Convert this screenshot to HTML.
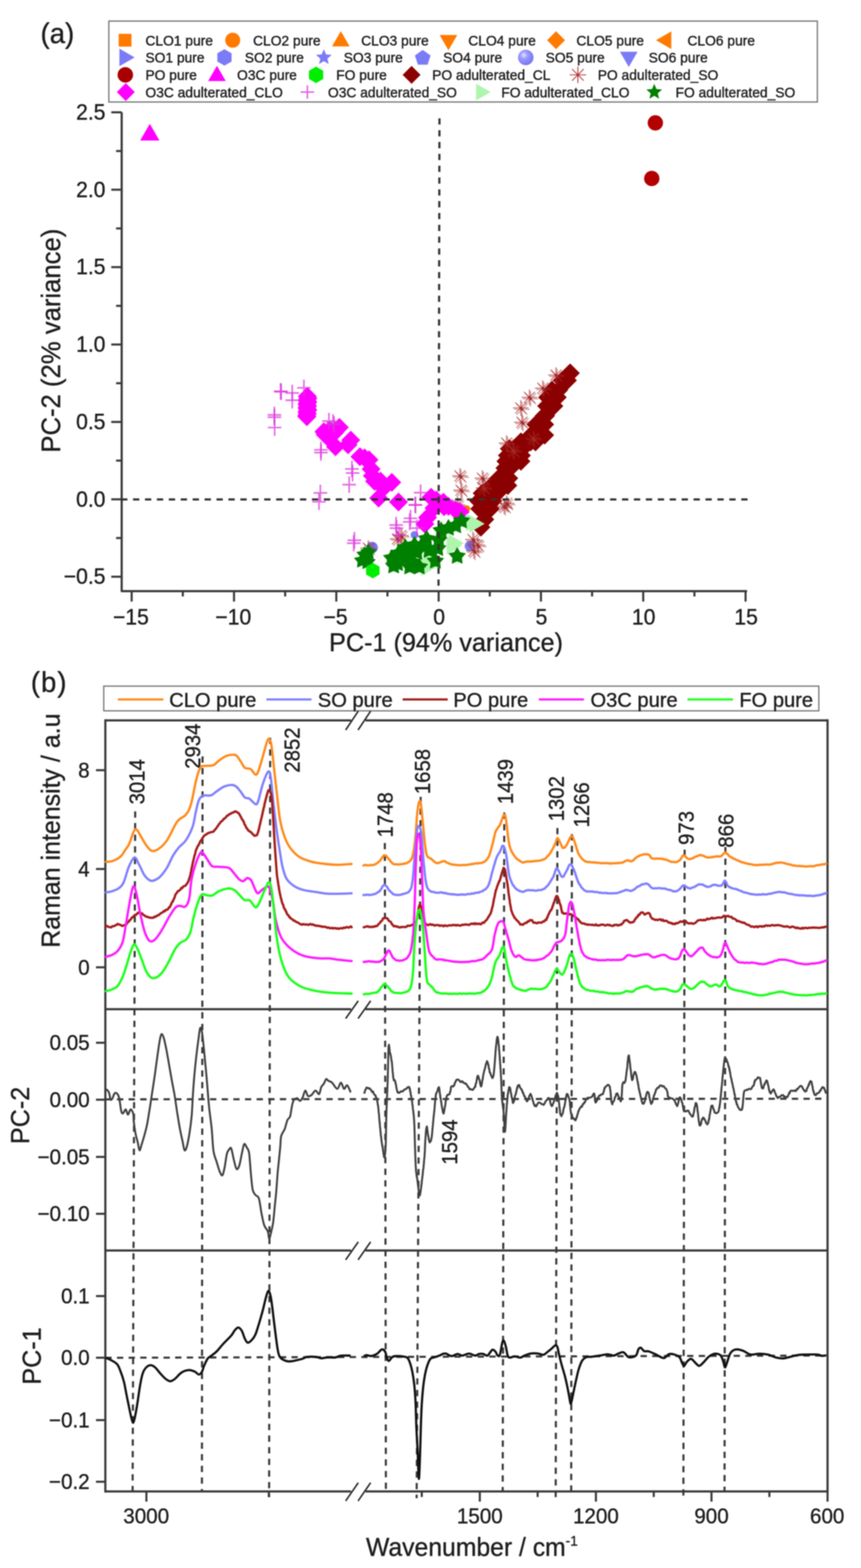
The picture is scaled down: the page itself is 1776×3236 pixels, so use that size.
<!DOCTYPE html>
<html><head><meta charset="utf-8"><title>PCA Raman figure</title>
<style>
html,body{margin:0;padding:0;background:#fff;}
body{width:1776px;height:3236px;overflow:hidden;}
svg{display:block;filter:blur(0.8px);}
text{font-family:'Liberation Sans', Arial, Helvetica, sans-serif;stroke:#1e1e1e;stroke-width:0.7px;}
</style></head><body>
<svg width="1776" height="3236" viewBox="0 0 1776 3236">
<defs>
<radialGradient id="sph" cx="0.38" cy="0.35" r="0.7">
<stop offset="0" stop-color="#e4e4ff"/><stop offset="0.35" stop-color="#9a9aff"/><stop offset="1" stop-color="#7272f0"/>
</radialGradient>
</defs>
<rect width="1776" height="3236" fill="#fff"/>
<text transform="translate(83.5 89) scale(1 1.045)" font-size="57" text-anchor="start" fill="#1e1e1e">(a)</text>
<rect x="224.5" y="43.5" width="1461.5" height="167" fill="#fff" stroke="#707070" stroke-width="2.5"/>
<rect x="244.8" y="69.8" width="26.4" height="26.4" fill="#ff7a00"/>
<text transform="translate(300 93.5) scale(1 1.045)" font-size="28.5" text-anchor="start" fill="#1e1e1e">CLO1 pure</text>
<circle cx="480" cy="83" r="15.5" fill="#ff7a00"/>
<text transform="translate(522 93.5) scale(1 1.045)" font-size="28.5" text-anchor="start" fill="#1e1e1e">CLO2 pure</text>
<polygon points="703,64.2 721.2,95.7 684.8,95.7" fill="#ff7a00"/>
<text transform="translate(745 93.5) scale(1 1.045)" font-size="28.5" text-anchor="start" fill="#1e1e1e">CLO3 pure</text>
<polygon points="925,103.8 906.8,72.3 943.2,72.3" fill="#ff7a00"/>
<text transform="translate(966 93.5) scale(1 1.045)" font-size="28.5" text-anchor="start" fill="#1e1e1e">CLO4 pure</text>
<polygon points="1147,64.5 1165.5,83 1147,101.5 1128.5,83" fill="#ff7a00"/>
<text transform="translate(1189 93.5) scale(1 1.045)" font-size="28.5" text-anchor="start" fill="#1e1e1e">CLO5 pure</text>
<polygon points="1353.2,83 1384.7,64.8 1384.7,101.2" fill="#ff7a00"/>
<text transform="translate(1418 93.5) scale(1 1.045)" font-size="28.5" text-anchor="start" fill="#1e1e1e">CLO6 pure</text>
<polygon points="277.8,118.5 246.3,136.7 246.3,100.3" fill="#7b7bf7"/>
<text transform="translate(300 129) scale(1 1.045)" font-size="28.5" text-anchor="start" fill="#1e1e1e">SO1 pure</text>
<polygon points="463,101.5 477.7,110 477.7,127 463,135.5 448.3,127 448.3,110" fill="#7b7bf7"/>
<text transform="translate(505 129) scale(1 1.045)" font-size="28.5" text-anchor="start" fill="#1e1e1e">SO2 pure</text>
<polygon points="668,101.5 672.5,112.3 684.2,113.2 675.3,120.9 678,132.3 668,126.2 658,132.3 660.7,120.9 651.8,113.2 663.5,112.3" fill="#7b7bf7"/>
<text transform="translate(709 129) scale(1 1.045)" font-size="28.5" text-anchor="start" fill="#1e1e1e">SO3 pure</text>
<polygon points="872,102.9 888.2,114.6 882,133.6 862,133.6 855.8,114.6" fill="#7b7bf7"/>
<text transform="translate(914 129) scale(1 1.045)" font-size="28.5" text-anchor="start" fill="#1e1e1e">SO4 pure</text>
<circle cx="1084.5" cy="118.5" r="16" fill="url(#sph)"/>
<text transform="translate(1125.5 129) scale(1 1.045)" font-size="28.5" text-anchor="start" fill="#1e1e1e">SO5 pure</text>
<polygon points="1297,138.3 1278.8,106.8 1315.2,106.8" fill="#7b7bf7"/>
<text transform="translate(1338 129) scale(1 1.045)" font-size="28.5" text-anchor="start" fill="#1e1e1e">SO6 pure</text>
<circle cx="258.5" cy="154.5" r="16" fill="#a80000"/>
<text transform="translate(300 165) scale(1 1.045)" font-size="28.5" text-anchor="start" fill="#1e1e1e">PO pure</text>
<polygon points="447.5,135.7 465.7,167.2 429.3,167.2" fill="#ff00ff"/>
<text transform="translate(489 165) scale(1 1.045)" font-size="28.5" text-anchor="start" fill="#1e1e1e">O3C pure</text>
<polygon points="652,137.5 666.7,146 666.7,163 652,171.5 637.3,163 637.3,146" fill="#00ee00"/>
<text transform="translate(693.5 165) scale(1 1.045)" font-size="28.5" text-anchor="start" fill="#1e1e1e">FO pure</text>
<polygon points="849,136 867.5,154.5 849,173 830.5,154.5" fill="#8b0000"/>
<text transform="translate(891.5 165) scale(1 1.045)" font-size="28.5" text-anchor="start" fill="#1e1e1e">PO adulterated_CL</text>
<path d="M1175,154.5 L1209,154.5 M1180,142.5 L1204,166.5 M1192,137.5 L1192,171.5 M1204,142.5 L1180,166.5 " stroke="#b03030" stroke-width="2.2" stroke-opacity="0.85" fill="none"/>
<circle cx="1192" cy="154.5" r="2.6" fill="#b03030"/>
<text transform="translate(1233 165) scale(1 1.045)" font-size="28.5" text-anchor="start" fill="#1e1e1e">PO adulterated_SO</text>
<polygon points="259.5,171.5 278,190 259.5,208.5 241,190" fill="#ff00ff"/>
<text transform="translate(300 200.5) scale(1 1.045)" font-size="28.5" text-anchor="start" fill="#1e1e1e">O3C adulterated_CLO</text>
<path d="M620,190 H648 M634,176 V204" stroke="#dd33dd" stroke-width="3" stroke-opacity="0.8" fill="none"/>
<text transform="translate(676.5 200.5) scale(1 1.045)" font-size="28.5" text-anchor="start" fill="#1e1e1e">O3C adulterated_SO</text>
<polygon points="1012,190 982,207.3 982,172.7" fill="#aef5ae"/>
<text transform="translate(1034 200.5) scale(1 1.045)" font-size="28.5" text-anchor="start" fill="#1e1e1e">FO adulterated_CLO</text>
<polygon points="1349.5,173 1354,183.8 1365.7,184.7 1356.8,192.4 1359.5,203.8 1349.5,197.7 1339.5,203.8 1342.2,192.4 1333.3,184.7 1345,183.8" fill="#008000"/>
<text transform="translate(1393.5 200.5) scale(1 1.045)" font-size="28.5" text-anchor="start" fill="#1e1e1e">FO adulterated_SO</text>
<path d="M251,231.8 V1220 H1541" stroke="#3a3a3a" stroke-width="4.5" fill="none" stroke-linejoin="round"/>
<line x1="229.5" y1="231.8" x2="251" y2="231.8" stroke="#3a3a3a" stroke-width="4.3"/>
<text transform="translate(217.5 246.8) scale(1 1.045)" font-size="43.5" text-anchor="end" fill="#1e1e1e">2.5</text>
<line x1="229.5" y1="391.5" x2="251" y2="391.5" stroke="#3a3a3a" stroke-width="4.3"/>
<text transform="translate(217.5 406.5) scale(1 1.045)" font-size="43.5" text-anchor="end" fill="#1e1e1e">2.0</text>
<line x1="229.5" y1="551.3" x2="251" y2="551.3" stroke="#3a3a3a" stroke-width="4.3"/>
<text transform="translate(217.5 566.3) scale(1 1.045)" font-size="43.5" text-anchor="end" fill="#1e1e1e">1.5</text>
<line x1="229.5" y1="711" x2="251" y2="711" stroke="#3a3a3a" stroke-width="4.3"/>
<text transform="translate(217.5 726) scale(1 1.045)" font-size="43.5" text-anchor="end" fill="#1e1e1e">1.0</text>
<line x1="229.5" y1="870.8" x2="251" y2="870.8" stroke="#3a3a3a" stroke-width="4.3"/>
<text transform="translate(217.5 885.8) scale(1 1.045)" font-size="43.5" text-anchor="end" fill="#1e1e1e">0.5</text>
<line x1="229.5" y1="1030.5" x2="251" y2="1030.5" stroke="#3a3a3a" stroke-width="4.3"/>
<text transform="translate(217.5 1045.5) scale(1 1.045)" font-size="43.5" text-anchor="end" fill="#1e1e1e">0.0</text>
<line x1="229.5" y1="1190.2" x2="251" y2="1190.2" stroke="#3a3a3a" stroke-width="4.3"/>
<text transform="translate(217.5 1205.2) scale(1 1.045)" font-size="43.5" text-anchor="end" fill="#1e1e1e">−0.5</text>
<line x1="239.5" y1="311.7" x2="251" y2="311.7" stroke="#3a3a3a" stroke-width="4.3"/>
<line x1="239.5" y1="471.4" x2="251" y2="471.4" stroke="#3a3a3a" stroke-width="4.3"/>
<line x1="239.5" y1="631.2" x2="251" y2="631.2" stroke="#3a3a3a" stroke-width="4.3"/>
<line x1="239.5" y1="790.9" x2="251" y2="790.9" stroke="#3a3a3a" stroke-width="4.3"/>
<line x1="239.5" y1="950.6" x2="251" y2="950.6" stroke="#3a3a3a" stroke-width="4.3"/>
<line x1="239.5" y1="1110.4" x2="251" y2="1110.4" stroke="#3a3a3a" stroke-width="4.3"/>
<line x1="271.6" y1="1220" x2="271.6" y2="1241.5" stroke="#3a3a3a" stroke-width="4.3"/>
<text transform="translate(270.1 1288.5) scale(1 1.045)" font-size="43.5" text-anchor="middle" fill="#1e1e1e">−15</text>
<line x1="482.7" y1="1220" x2="482.7" y2="1241.5" stroke="#3a3a3a" stroke-width="4.3"/>
<text transform="translate(481.2 1288.5) scale(1 1.045)" font-size="43.5" text-anchor="middle" fill="#1e1e1e">−10</text>
<line x1="693.7" y1="1220" x2="693.7" y2="1241.5" stroke="#3a3a3a" stroke-width="4.3"/>
<text transform="translate(692.2 1288.5) scale(1 1.045)" font-size="43.5" text-anchor="middle" fill="#1e1e1e">−5</text>
<line x1="904.8" y1="1220" x2="904.8" y2="1241.5" stroke="#3a3a3a" stroke-width="4.3"/>
<text transform="translate(905.8 1288.5) scale(1 1.045)" font-size="43.5" text-anchor="middle" fill="#1e1e1e">0</text>
<line x1="1115.8" y1="1220" x2="1115.8" y2="1241.5" stroke="#3a3a3a" stroke-width="4.3"/>
<text transform="translate(1116.8 1288.5) scale(1 1.045)" font-size="43.5" text-anchor="middle" fill="#1e1e1e">5</text>
<line x1="1326.8" y1="1220" x2="1326.8" y2="1241.5" stroke="#3a3a3a" stroke-width="4.3"/>
<text transform="translate(1327.8 1288.5) scale(1 1.045)" font-size="43.5" text-anchor="middle" fill="#1e1e1e">10</text>
<line x1="1537.9" y1="1220" x2="1537.9" y2="1241.5" stroke="#3a3a3a" stroke-width="4.3"/>
<text transform="translate(1538.9 1288.5) scale(1 1.045)" font-size="43.5" text-anchor="middle" fill="#1e1e1e">15</text>
<line x1="377.1" y1="1220" x2="377.1" y2="1231" stroke="#3a3a3a" stroke-width="4.3"/>
<line x1="588.2" y1="1220" x2="588.2" y2="1231" stroke="#3a3a3a" stroke-width="4.3"/>
<line x1="799.2" y1="1220" x2="799.2" y2="1231" stroke="#3a3a3a" stroke-width="4.3"/>
<line x1="1010.3" y1="1220" x2="1010.3" y2="1231" stroke="#3a3a3a" stroke-width="4.3"/>
<line x1="1221.3" y1="1220" x2="1221.3" y2="1231" stroke="#3a3a3a" stroke-width="4.3"/>
<line x1="1432.4" y1="1220" x2="1432.4" y2="1231" stroke="#3a3a3a" stroke-width="4.3"/>
<text transform="translate(920 1343.5) scale(1 1.045)" font-size="52" text-anchor="middle" fill="#1e1e1e">PC-1 (94% variance)</text>
<text transform="translate(124 703) rotate(-90) scale(1 1.045)" font-size="53" text-anchor="middle" fill="#1e1e1e">PC-2 (2% variance)</text>
<polygon points="309,255.6 328.9,290.1 289.1,290.1" fill="#ff00ff"/>
<circle cx="1351.8" cy="253.6" r="15.8" fill="#b30000"/>
<circle cx="1344.4" cy="368.4" r="15.8" fill="#b30000"/>
<circle cx="767.5" cy="1130" r="12" fill="#7b7bf7"/>
<circle cx="855" cy="1104" r="8" fill="#7b7bf7"/>
<circle cx="969.5" cy="1127" r="11" fill="#7b7bf7"/>
<circle cx="963" cy="1050" r="7" fill="#ff7a00"/>
<polygon points="1175.5,750.5 1195,770 1175.5,789.5 1156,770" fill="#8b0000"/>
<polygon points="1176.5,750.5 1196,770 1176.5,789.5 1157,770" fill="#8b0000"/>
<polygon points="1159.5,765.5 1179,785 1159.5,804.5 1140,785" fill="#8b0000"/>
<polygon points="1170.5,765.5 1190,785 1170.5,804.5 1151,785" fill="#8b0000"/>
<polygon points="1138.5,785.5 1158,805 1138.5,824.5 1119,805" fill="#8b0000"/>
<polygon points="1152.5,785.5 1172,805 1152.5,824.5 1133,805" fill="#8b0000"/>
<polygon points="1129.5,800.5 1149,820 1129.5,839.5 1110,820" fill="#8b0000"/>
<polygon points="1139.5,800.5 1159,820 1139.5,839.5 1120,820" fill="#8b0000"/>
<polygon points="1149.5,800.5 1169,820 1149.5,839.5 1130,820" fill="#8b0000"/>
<polygon points="1127.5,818.5 1147,838 1127.5,857.5 1108,838" fill="#8b0000"/>
<polygon points="1135,818.5 1154.5,838 1135,857.5 1115.5,838" fill="#8b0000"/>
<polygon points="1142.5,818.5 1162,838 1142.5,857.5 1123,838" fill="#8b0000"/>
<polygon points="1122.5,838.5 1142,858 1122.5,877.5 1103,858" fill="#8b0000"/>
<polygon points="1125.5,838.5 1145,858 1125.5,877.5 1106,858" fill="#8b0000"/>
<polygon points="1105.5,856.5 1125,876 1105.5,895.5 1086,876" fill="#8b0000"/>
<polygon points="1114.5,856.5 1134,876 1114.5,895.5 1095,876" fill="#8b0000"/>
<polygon points="1123.5,856.5 1143,876 1123.5,895.5 1104,876" fill="#8b0000"/>
<polygon points="1095.5,878.5 1115,898 1095.5,917.5 1076,898" fill="#8b0000"/>
<polygon points="1109.5,878.5 1129,898 1109.5,917.5 1090,898" fill="#8b0000"/>
<polygon points="1123.5,878.5 1143,898 1123.5,917.5 1104,898" fill="#8b0000"/>
<polygon points="1074.5,892.5 1094,912 1074.5,931.5 1055,912" fill="#8b0000"/>
<polygon points="1084.5,892.5 1104,912 1084.5,931.5 1065,912" fill="#8b0000"/>
<polygon points="1094.5,892.5 1114,912 1094.5,931.5 1075,912" fill="#8b0000"/>
<polygon points="1104.5,892.5 1124,912 1104.5,931.5 1085,912" fill="#8b0000"/>
<polygon points="1050.5,906.5 1070,926 1050.5,945.5 1031,926" fill="#8b0000"/>
<polygon points="1064,906.5 1083.5,926 1064,945.5 1044.5,926" fill="#8b0000"/>
<polygon points="1077.5,906.5 1097,926 1077.5,945.5 1058,926" fill="#8b0000"/>
<polygon points="1046.5,920.5 1066,940 1046.5,959.5 1027,940" fill="#8b0000"/>
<polygon points="1056.2,920.5 1075.7,940 1056.2,959.5 1036.7,940" fill="#8b0000"/>
<polygon points="1065.8,920.5 1085.3,940 1065.8,959.5 1046.3,940" fill="#8b0000"/>
<polygon points="1075.5,920.5 1095,940 1075.5,959.5 1056,940" fill="#8b0000"/>
<polygon points="1043.5,932.5 1063,952 1043.5,971.5 1024,952" fill="#8b0000"/>
<polygon points="1053.8,932.5 1073.3,952 1053.8,971.5 1034.3,952" fill="#8b0000"/>
<polygon points="1064.2,932.5 1083.7,952 1064.2,971.5 1044.7,952" fill="#8b0000"/>
<polygon points="1074.5,932.5 1094,952 1074.5,971.5 1055,952" fill="#8b0000"/>
<polygon points="1041.5,946.5 1061,966 1041.5,985.5 1022,966" fill="#8b0000"/>
<polygon points="1052.5,946.5 1072,966 1052.5,985.5 1033,966" fill="#8b0000"/>
<polygon points="1028.5,967.5 1048,987 1028.5,1006.5 1009,987" fill="#8b0000"/>
<polygon points="1039,967.5 1058.5,987 1039,1006.5 1019.5,987" fill="#8b0000"/>
<polygon points="1049.5,967.5 1069,987 1049.5,1006.5 1030,987" fill="#8b0000"/>
<polygon points="1014.5,982.5 1034,1002 1014.5,1021.5 995,1002" fill="#8b0000"/>
<polygon points="1025.5,982.5 1045,1002 1025.5,1021.5 1006,1002" fill="#8b0000"/>
<polygon points="1036.5,982.5 1056,1002 1036.5,1021.5 1017,1002" fill="#8b0000"/>
<polygon points="1047.5,982.5 1067,1002 1047.5,1021.5 1028,1002" fill="#8b0000"/>
<polygon points="994.5,998.5 1014,1018 994.5,1037.5 975,1018" fill="#8b0000"/>
<polygon points="1004.8,998.5 1024.3,1018 1004.8,1037.5 985.3,1018" fill="#8b0000"/>
<polygon points="1015.2,998.5 1034.7,1018 1015.2,1037.5 995.7,1018" fill="#8b0000"/>
<polygon points="1025.5,998.5 1045,1018 1025.5,1037.5 1006,1018" fill="#8b0000"/>
<polygon points="987.5,1014.5 1007,1034 987.5,1053.5 968,1034" fill="#8b0000"/>
<polygon points="997.2,1014.5 1016.7,1034 997.2,1053.5 977.7,1034" fill="#8b0000"/>
<polygon points="1006.8,1014.5 1026.3,1034 1006.8,1053.5 987.3,1034" fill="#8b0000"/>
<polygon points="1016.5,1014.5 1036,1034 1016.5,1053.5 997,1034" fill="#8b0000"/>
<polygon points="989.5,1030.5 1009,1050 989.5,1069.5 970,1050" fill="#8b0000"/>
<polygon points="1000.5,1030.5 1020,1050 1000.5,1069.5 981,1050" fill="#8b0000"/>
<polygon points="1011.5,1030.5 1031,1050 1011.5,1069.5 992,1050" fill="#8b0000"/>
<polygon points="1000,1052.5 1019.5,1072 1000,1091.5 980.5,1072" fill="#8b0000"/>
<polygon points="992,1068.5 1011.5,1088 992,1107.5 972.5,1088" fill="#8b0000"/>
<path d="M1130.7,774 L1162.7,774 M1135.4,762.7 L1158,785.3 M1146.7,758 L1146.7,790 M1158,762.7 L1135.4,785.3 " stroke="#a52a2a" stroke-width="2" stroke-opacity="0.7" fill="none"/>
<circle cx="1146.7" cy="774" r="2.6" fill="#a52a2a"/>
<path d="M1133.2,777 L1165.2,777 M1137.9,765.7 L1160.5,788.3 M1149.2,761 L1149.2,793 M1160.5,765.7 L1137.9,788.3 " stroke="#a52a2a" stroke-width="2" stroke-opacity="0.55" fill="none"/>
<circle cx="1149.2" cy="777" r="2.6" fill="#a52a2a"/>
<path d="M1103.5,801.1 L1135.5,801.1 M1108.2,789.8 L1130.8,812.4 M1119.5,785.1 L1119.5,817.1 M1130.8,789.8 L1108.2,812.4 " stroke="#a52a2a" stroke-width="2" stroke-opacity="0.7" fill="none"/>
<circle cx="1119.5" cy="801.1" r="2.6" fill="#a52a2a"/>
<path d="M1106,804.1 L1138,804.1 M1110.7,792.8 L1133.3,815.4 M1122,788.1 L1122,820.1 M1133.3,792.8 L1110.7,815.4 " stroke="#a52a2a" stroke-width="2" stroke-opacity="0.55" fill="none"/>
<circle cx="1122" cy="804.1" r="2.6" fill="#a52a2a"/>
<path d="M1058.2,841.8 L1090.2,841.8 M1062.9,830.5 L1085.5,853.1 M1074.2,825.8 L1074.2,857.8 M1085.5,830.5 L1062.9,853.1 " stroke="#a52a2a" stroke-width="2" stroke-opacity="0.7" fill="none"/>
<circle cx="1074.2" cy="841.8" r="2.6" fill="#a52a2a"/>
<path d="M1060.7,844.8 L1092.7,844.8 M1065.4,833.5 L1088,856.1 M1076.7,828.8 L1076.7,860.8 M1088,833.5 L1065.4,856.1 " stroke="#a52a2a" stroke-width="2" stroke-opacity="0.55" fill="none"/>
<circle cx="1076.7" cy="844.8" r="2.6" fill="#a52a2a"/>
<path d="M1060.5,871.3 L1092.5,871.3 M1065.2,860 L1087.8,882.6 M1076.5,855.3 L1076.5,887.3 M1087.8,860 L1065.2,882.6 " stroke="#a52a2a" stroke-width="2" stroke-opacity="0.7" fill="none"/>
<circle cx="1076.5" cy="871.3" r="2.6" fill="#a52a2a"/>
<path d="M1063,874.3 L1095,874.3 M1067.7,863 L1090.3,885.6 M1079,858.3 L1079,890.3 M1090.3,863 L1067.7,885.6 " stroke="#a52a2a" stroke-width="2" stroke-opacity="0.55" fill="none"/>
<circle cx="1079" cy="874.3" r="2.6" fill="#a52a2a"/>
<path d="M1028.8,914.2 L1060.8,914.2 M1033.5,902.9 L1056.1,925.5 M1044.8,898.2 L1044.8,930.2 M1056.1,902.9 L1033.5,925.5 " stroke="#a52a2a" stroke-width="2" stroke-opacity="0.7" fill="none"/>
<circle cx="1044.8" cy="914.2" r="2.6" fill="#a52a2a"/>
<path d="M1031.3,917.2 L1063.3,917.2 M1036,905.9 L1058.6,928.5 M1047.3,901.2 L1047.3,933.2 M1058.6,905.9 L1036,928.5 " stroke="#a52a2a" stroke-width="2" stroke-opacity="0.55" fill="none"/>
<circle cx="1047.3" cy="917.2" r="2.6" fill="#a52a2a"/>
<path d="M1042.4,930.1 L1074.4,930.1 M1047.1,918.8 L1069.7,941.4 M1058.4,914.1 L1058.4,946.1 M1069.7,918.8 L1047.1,941.4 " stroke="#a52a2a" stroke-width="2" stroke-opacity="0.7" fill="none"/>
<circle cx="1058.4" cy="930.1" r="2.6" fill="#a52a2a"/>
<path d="M1044.9,933.1 L1076.9,933.1 M1049.6,921.8 L1072.2,944.4 M1060.9,917.1 L1060.9,949.1 M1072.2,921.8 L1049.6,944.4 " stroke="#a52a2a" stroke-width="2" stroke-opacity="0.55" fill="none"/>
<circle cx="1060.9" cy="933.1" r="2.6" fill="#a52a2a"/>
<path d="M932.7,982.1 L964.7,982.1 M937.4,970.8 L960,993.4 M948.7,966.1 L948.7,998.1 M960,970.8 L937.4,993.4 " stroke="#a52a2a" stroke-width="2" stroke-opacity="0.7" fill="none"/>
<circle cx="948.7" cy="982.1" r="2.6" fill="#a52a2a"/>
<path d="M935.2,985.1 L967.2,985.1 M939.9,973.8 L962.5,996.4 M951.2,969.1 L951.2,1001.1 M962.5,973.8 L939.9,996.4 " stroke="#a52a2a" stroke-width="2" stroke-opacity="0.55" fill="none"/>
<circle cx="951.2" cy="985.1" r="2.6" fill="#a52a2a"/>
<path d="M934.9,1011.6 L966.9,1011.6 M939.6,1000.3 L962.2,1022.9 M950.9,995.6 L950.9,1027.6 M962.2,1000.3 L939.6,1022.9 " stroke="#a52a2a" stroke-width="2" stroke-opacity="0.7" fill="none"/>
<circle cx="950.9" cy="1011.6" r="2.6" fill="#a52a2a"/>
<path d="M937.4,1014.6 L969.4,1014.6 M942.1,1003.3 L964.7,1025.9 M953.4,998.6 L953.4,1030.6 M964.7,1003.3 L942.1,1025.9 " stroke="#a52a2a" stroke-width="2" stroke-opacity="0.55" fill="none"/>
<circle cx="953.4" cy="1014.6" r="2.6" fill="#a52a2a"/>
<path d="M979,986.7 L1011,986.7 M983.7,975.4 L1006.3,998 M995,970.7 L995,1002.7 M1006.3,975.4 L983.7,998 " stroke="#a52a2a" stroke-width="2" stroke-opacity="0.7" fill="none"/>
<circle cx="995" cy="986.7" r="2.6" fill="#a52a2a"/>
<path d="M981.5,989.7 L1013.5,989.7 M986.2,978.4 L1008.8,1001 M997.5,973.7 L997.5,1005.7 M1008.8,978.4 L986.2,1001 " stroke="#a52a2a" stroke-width="2" stroke-opacity="0.55" fill="none"/>
<circle cx="997.5" cy="989.7" r="2.6" fill="#a52a2a"/>
<path d="M981.3,1007 L1013.3,1007 M986,995.7 L1008.6,1018.3 M997.3,991 L997.3,1023 M1008.6,995.7 L986,1018.3 " stroke="#a52a2a" stroke-width="2" stroke-opacity="0.7" fill="none"/>
<circle cx="997.3" cy="1007" r="2.6" fill="#a52a2a"/>
<path d="M983.8,1010 L1015.8,1010 M988.5,998.7 L1011.1,1021.3 M999.8,994 L999.8,1026 M1011.1,998.7 L988.5,1021.3 " stroke="#a52a2a" stroke-width="2" stroke-opacity="0.55" fill="none"/>
<circle cx="999.8" cy="1010" r="2.6" fill="#a52a2a"/>
<path d="M1028.8,1038.7 L1060.8,1038.7 M1033.5,1027.4 L1056.1,1050 M1044.8,1022.7 L1044.8,1054.7 M1056.1,1027.4 L1033.5,1050 " stroke="#a52a2a" stroke-width="2" stroke-opacity="0.7" fill="none"/>
<circle cx="1044.8" cy="1038.7" r="2.6" fill="#a52a2a"/>
<path d="M1031.3,1041.7 L1063.3,1041.7 M1036,1030.4 L1058.6,1053 M1047.3,1025.7 L1047.3,1057.7 M1058.6,1030.4 L1036,1053 " stroke="#a52a2a" stroke-width="2" stroke-opacity="0.55" fill="none"/>
<circle cx="1047.3" cy="1041.7" r="2.6" fill="#a52a2a"/>
<path d="M810.9,1105.2 L842.9,1105.2 M815.6,1093.9 L838.2,1116.5 M826.9,1089.2 L826.9,1121.2 M838.2,1093.9 L815.6,1116.5 " stroke="#a52a2a" stroke-width="2" stroke-opacity="0.7" fill="none"/>
<circle cx="826.9" cy="1105.2" r="2.6" fill="#a52a2a"/>
<path d="M813.4,1108.2 L845.4,1108.2 M818.1,1096.9 L840.7,1119.5 M829.4,1092.2 L829.4,1124.2 M840.7,1096.9 L818.1,1119.5 " stroke="#a52a2a" stroke-width="2" stroke-opacity="0.55" fill="none"/>
<circle cx="829.4" cy="1108.2" r="2.6" fill="#a52a2a"/>
<path d="M743.6,1131 L775.6,1131 M748.3,1119.7 L770.9,1142.3 M759.6,1115 L759.6,1147 M770.9,1119.7 L748.3,1142.3 " stroke="#a52a2a" stroke-width="2" stroke-opacity="0.7" fill="none"/>
<circle cx="759.6" cy="1131" r="2.6" fill="#a52a2a"/>
<path d="M746.1,1134 L778.1,1134 M750.8,1122.7 L773.4,1145.3 M762.1,1118 L762.1,1150 M773.4,1122.7 L750.8,1145.3 " stroke="#a52a2a" stroke-width="2" stroke-opacity="0.55" fill="none"/>
<circle cx="762.1" cy="1134" r="2.6" fill="#a52a2a"/>
<path d="M959.4,1113.2 L991.4,1113.2 M964.1,1101.9 L986.7,1124.5 M975.4,1097.2 L975.4,1129.2 M986.7,1101.9 L964.1,1124.5 " stroke="#a52a2a" stroke-width="2" stroke-opacity="0.7" fill="none"/>
<circle cx="975.4" cy="1113.2" r="2.6" fill="#a52a2a"/>
<path d="M961.9,1116.2 L993.9,1116.2 M966.6,1104.9 L989.2,1127.5 M977.9,1100.2 L977.9,1132.2 M989.2,1104.9 L966.6,1127.5 " stroke="#a52a2a" stroke-width="2" stroke-opacity="0.55" fill="none"/>
<circle cx="977.9" cy="1116.2" r="2.6" fill="#a52a2a"/>
<path d="M961.4,1137 L993.4,1137 M966.1,1125.7 L988.7,1148.3 M977.4,1121 L977.4,1153 M988.7,1125.7 L966.1,1148.3 " stroke="#a52a2a" stroke-width="2" stroke-opacity="0.7" fill="none"/>
<circle cx="977.4" cy="1137" r="2.6" fill="#a52a2a"/>
<path d="M963.9,1140 L995.9,1140 M968.6,1128.7 L991.2,1151.3 M979.9,1124 L979.9,1156 M991.2,1128.7 L968.6,1151.3 " stroke="#a52a2a" stroke-width="2" stroke-opacity="0.55" fill="none"/>
<circle cx="979.9" cy="1140" r="2.6" fill="#a52a2a"/>
<path d="M927.8,1041.9 L959.8,1041.9 M932.5,1030.6 L955.1,1053.2 M943.8,1025.9 L943.8,1057.9 M955.1,1030.6 L932.5,1053.2 " stroke="#a52a2a" stroke-width="2" stroke-opacity="0.7" fill="none"/>
<circle cx="943.8" cy="1041.9" r="2.6" fill="#a52a2a"/>
<path d="M930.3,1044.9 L962.3,1044.9 M935,1033.6 L957.6,1056.2 M946.3,1028.9 L946.3,1060.9 M957.6,1033.6 L935,1056.2 " stroke="#a52a2a" stroke-width="2" stroke-opacity="0.55" fill="none"/>
<circle cx="946.3" cy="1044.9" r="2.6" fill="#a52a2a"/>
<path d="M1076,820 L1108,820 M1080.7,808.7 L1103.3,831.3 M1092,804 L1092,836 M1103.3,808.7 L1080.7,831.3 " stroke="#a52a2a" stroke-width="2" stroke-opacity="0.7" fill="none"/>
<circle cx="1092" cy="820" r="2.6" fill="#a52a2a"/>
<path d="M1078.5,823 L1110.5,823 M1083.2,811.7 L1105.8,834.3 M1094.5,807 L1094.5,839 M1105.8,811.7 L1083.2,834.3 " stroke="#a52a2a" stroke-width="2" stroke-opacity="0.55" fill="none"/>
<circle cx="1094.5" cy="823" r="2.6" fill="#a52a2a"/>
<path d="M1024,1045 L1056,1045 M1028.7,1033.7 L1051.3,1056.3 M1040,1029 L1040,1061 M1051.3,1033.7 L1028.7,1056.3 " stroke="#a52a2a" stroke-width="2" stroke-opacity="0.7" fill="none"/>
<circle cx="1040" cy="1045" r="2.6" fill="#a52a2a"/>
<path d="M1026.5,1048 L1058.5,1048 M1031.2,1036.7 L1053.8,1059.3 M1042.5,1032 L1042.5,1064 M1053.8,1036.7 L1031.2,1059.3 " stroke="#a52a2a" stroke-width="2" stroke-opacity="0.55" fill="none"/>
<circle cx="1042.5" cy="1048" r="2.6" fill="#a52a2a"/>
<path d="M1084,905 L1116,905 M1088.7,893.7 L1111.3,916.3 M1100,889 L1100,921 M1111.3,893.7 L1088.7,916.3 " stroke="#a52a2a" stroke-width="2" stroke-opacity="0.7" fill="none"/>
<circle cx="1100" cy="905" r="2.6" fill="#a52a2a"/>
<path d="M1086.5,908 L1118.5,908 M1091.2,896.7 L1113.8,919.3 M1102.5,892 L1102.5,924 M1113.8,896.7 L1091.2,919.3 " stroke="#a52a2a" stroke-width="2" stroke-opacity="0.55" fill="none"/>
<circle cx="1102.5" cy="908" r="2.6" fill="#a52a2a"/>
<path d="M969,1125 L1001,1125 M973.7,1113.7 L996.3,1136.3 M985,1109 L985,1141 M996.3,1113.7 L973.7,1136.3 " stroke="#a52a2a" stroke-width="2" stroke-opacity="0.7" fill="none"/>
<circle cx="985" cy="1125" r="2.6" fill="#a52a2a"/>
<path d="M971.5,1128 L1003.5,1128 M976.2,1116.7 L998.8,1139.3 M987.5,1112 L987.5,1144 M998.8,1116.7 L976.2,1139.3 " stroke="#a52a2a" stroke-width="2" stroke-opacity="0.55" fill="none"/>
<circle cx="987.5" cy="1128" r="2.6" fill="#a52a2a"/>
<path d="M804,1112 L836,1112 M808.7,1100.7 L831.3,1123.3 M820,1096 L820,1128 M831.3,1100.7 L808.7,1123.3 " stroke="#a52a2a" stroke-width="2" stroke-opacity="0.7" fill="none"/>
<circle cx="820" cy="1112" r="2.6" fill="#a52a2a"/>
<path d="M806.5,1115 L838.5,1115 M811.2,1103.7 L833.8,1126.3 M822.5,1099 L822.5,1131 M833.8,1103.7 L811.2,1126.3 " stroke="#a52a2a" stroke-width="2" stroke-opacity="0.55" fill="none"/>
<circle cx="822.5" cy="1115" r="2.6" fill="#a52a2a"/>
<polygon points="634,798.5 653.5,818 634,837.5 614.5,818" fill="#ff00ff"/>
<polygon points="635,802.5 654.5,822 635,841.5 615.5,822" fill="#ff00ff"/>
<polygon points="633.5,806.5 653,826 633.5,845.5 614,826" fill="#ff00ff"/>
<polygon points="635,810.5 654.5,830 635,849.5 615.5,830" fill="#ff00ff"/>
<polygon points="633,814.5 652.5,834 633,853.5 613.5,834" fill="#ff00ff"/>
<polygon points="634.5,818.5 654,838 634.5,857.5 615,838" fill="#ff00ff"/>
<polygon points="633,822.5 652.5,842 633,861.5 613.5,842" fill="#ff00ff"/>
<polygon points="635,826.5 654.5,846 635,865.5 615.5,846" fill="#ff00ff"/>
<polygon points="633,830.5 652.5,850 633,869.5 613.5,850" fill="#ff00ff"/>
<polygon points="634,834.5 653.5,854 634,873.5 614.5,854" fill="#ff00ff"/>
<polygon points="632.5,838.5 652,858 632.5,877.5 613,858" fill="#ff00ff"/>
<polygon points="633,840.5 652.5,860 633,879.5 613.5,860" fill="#ff00ff"/>
<polygon points="668,871.5 687.5,891 668,910.5 648.5,891" fill="#ff00ff"/>
<polygon points="680,868.5 699.5,888 680,907.5 660.5,888" fill="#ff00ff"/>
<polygon points="690,873.5 709.5,893 690,912.5 670.5,893" fill="#ff00ff"/>
<polygon points="670.7,877.5 690.2,897 670.7,916.5 651.2,897" fill="#ff00ff"/>
<polygon points="692,902.5 711.5,922 692,941.5 672.5,922" fill="#ff00ff"/>
<polygon points="723.5,888.8 743,908.3 723.5,927.8 704,908.3" fill="#ff00ff"/>
<polygon points="718,898.5 737.5,918 718,937.5 698.5,918" fill="#ff00ff"/>
<polygon points="676,882.5 695.5,902 676,921.5 656.5,902" fill="#ff00ff"/>
<polygon points="700,862.5 719.5,882 700,901.5 680.5,882" fill="#ff00ff"/>
<polygon points="742.4,922.9 761.9,942.4 742.4,961.9 722.9,942.4" fill="#ff00ff"/>
<polygon points="752,925.5 771.5,945 752,964.5 732.5,945" fill="#ff00ff"/>
<polygon points="761.2,929.5 780.7,949 761.2,968.5 741.7,949" fill="#ff00ff"/>
<polygon points="765.5,948.5 785,968 765.5,987.5 746,968" fill="#ff00ff"/>
<polygon points="772.6,973.7 792.1,993.2 772.6,1012.7 753.1,993.2" fill="#ff00ff"/>
<polygon points="768,962.5 787.5,982 768,1001.5 748.5,982" fill="#ff00ff"/>
<polygon points="785,973.5 804.5,993 785,1012.5 765.5,993" fill="#ff00ff"/>
<polygon points="791,987.8 810.5,1007.3 791,1026.8 771.5,1007.3" fill="#ff00ff"/>
<polygon points="781,1008.5 800.5,1028 781,1047.5 761.5,1028" fill="#ff00ff"/>
<polygon points="808.2,976 827.7,995.5 808.2,1015 788.7,995.5" fill="#ff00ff"/>
<polygon points="822,1016.5 841.5,1036 822,1055.5 802.5,1036" fill="#ff00ff"/>
<polygon points="889.3,1006.7 908.8,1026.2 889.3,1045.7 869.8,1026.2" fill="#ff00ff"/>
<polygon points="900,1012.5 919.5,1032 900,1051.5 880.5,1032" fill="#ff00ff"/>
<polygon points="914.7,1016.9 934.2,1036.4 914.7,1055.9 895.2,1036.4" fill="#ff00ff"/>
<polygon points="925,1025.5 944.5,1045 925,1064.5 905.5,1045" fill="#ff00ff"/>
<polygon points="949.1,1037.2 968.6,1056.7 949.1,1076.2 929.6,1056.7" fill="#ff00ff"/>
<polygon points="895.2,1029 914.7,1048.5 895.2,1068 875.7,1048.5" fill="#ff00ff"/>
<polygon points="939.8,1033.3 959.3,1052.8 939.8,1072.3 920.3,1052.8" fill="#ff00ff"/>
<polygon points="876.4,1062 895.9,1081.5 876.4,1101 856.9,1081.5" fill="#ff00ff"/>
<polygon points="916,1026.3 935.5,1045.8 916,1065.3 896.5,1045.8" fill="#ff00ff"/>
<polygon points="882,1048.5 901.5,1068 882,1087.5 862.5,1068" fill="#ff00ff"/>
<path d="M564.8,807.5 H592.8 M578.8,790.5 V824.5" stroke="#dd33dd" stroke-width="3.4" stroke-opacity="0.72" fill="none"/>
<path d="M566,808.5 H594 M580,791.5 V825.5" stroke="#dd33dd" stroke-width="3.4" stroke-opacity="0.72" fill="none"/>
<path d="M588.8,811 H616.8 M602.8,794 V828" stroke="#dd33dd" stroke-width="3.4" stroke-opacity="0.72" fill="none"/>
<path d="M588.8,826 H616.8 M602.8,809 V843" stroke="#dd33dd" stroke-width="3.4" stroke-opacity="0.72" fill="none"/>
<path d="M612.9,800.4 H640.9 M626.9,783.4 V817.4" stroke="#dd33dd" stroke-width="3.4" stroke-opacity="0.72" fill="none"/>
<path d="M552,856.3 H580 M566,839.3 V873.3" stroke="#dd33dd" stroke-width="3.4" stroke-opacity="0.72" fill="none"/>
<path d="M552,861 H580 M566,844 V878" stroke="#dd33dd" stroke-width="3.4" stroke-opacity="0.72" fill="none"/>
<path d="M552.5,882.4 H580.5 M566.5,865.4 V899.4" stroke="#dd33dd" stroke-width="3.4" stroke-opacity="0.72" fill="none"/>
<path d="M648,928.4 H676 M662,911.4 V945.4" stroke="#dd33dd" stroke-width="3.4" stroke-opacity="0.72" fill="none"/>
<path d="M648,934 H676 M662,917 V951" stroke="#dd33dd" stroke-width="3.4" stroke-opacity="0.72" fill="none"/>
<path d="M664.5,869 H692.5 M678.5,852 V886" stroke="#dd33dd" stroke-width="3.4" stroke-opacity="0.72" fill="none"/>
<path d="M673,871.8 H701 M687,854.8 V888.8" stroke="#dd33dd" stroke-width="3.4" stroke-opacity="0.72" fill="none"/>
<path d="M675,876 H703 M689,859 V893" stroke="#dd33dd" stroke-width="3.4" stroke-opacity="0.72" fill="none"/>
<path d="M711.9,967.7 H739.9 M725.9,950.7 V984.7" stroke="#dd33dd" stroke-width="3.4" stroke-opacity="0.72" fill="none"/>
<path d="M713.3,976.2 H741.3 M727.3,959.2 V993.2" stroke="#dd33dd" stroke-width="3.4" stroke-opacity="0.72" fill="none"/>
<path d="M706.2,1000.2 H734.2 M720.2,983.2 V1017.2" stroke="#dd33dd" stroke-width="3.4" stroke-opacity="0.72" fill="none"/>
<path d="M646.8,1017.2 H674.8 M660.8,1000.2 V1034.2" stroke="#dd33dd" stroke-width="3.4" stroke-opacity="0.72" fill="none"/>
<path d="M644,1035.6 H672 M658,1018.6 V1052.6" stroke="#dd33dd" stroke-width="3.4" stroke-opacity="0.72" fill="none"/>
<path d="M715.7,1121 H743.7 M729.7,1104 V1138" stroke="#dd33dd" stroke-width="3.4" stroke-opacity="0.72" fill="none"/>
<path d="M717,1115 H745 M731,1098 V1132" stroke="#dd33dd" stroke-width="3.4" stroke-opacity="0.72" fill="none"/>
<path d="M803,1083.5 H831 M817,1066.5 V1100.5" stroke="#dd33dd" stroke-width="3.4" stroke-opacity="0.72" fill="none"/>
<path d="M804,1090 H832 M818,1073 V1107" stroke="#dd33dd" stroke-width="3.4" stroke-opacity="0.72" fill="none"/>
<path d="M832.7,1069.6 H860.7 M846.7,1052.6 V1086.6" stroke="#dd33dd" stroke-width="3.4" stroke-opacity="0.72" fill="none"/>
<path d="M831,1077 H859 M845,1060 V1094" stroke="#dd33dd" stroke-width="3.4" stroke-opacity="0.72" fill="none"/>
<path d="M842.6,1041.9 H870.6 M856.6,1024.9 V1058.9" stroke="#dd33dd" stroke-width="3.4" stroke-opacity="0.72" fill="none"/>
<path d="M853.6,1016.7 H881.6 M867.6,999.7 V1033.7" stroke="#dd33dd" stroke-width="3.4" stroke-opacity="0.72" fill="none"/>
<path d="M843,1042.2 H871 M857,1025.2 V1059.2" stroke="#dd33dd" stroke-width="3.4" stroke-opacity="0.72" fill="none"/>
<path d="M809,1104 H837 M823,1087 V1121" stroke="#dd33dd" stroke-width="3.4" stroke-opacity="0.72" fill="none"/>
<path d="M846,1090 H874 M860,1073 V1107" stroke="#dd33dd" stroke-width="3.4" stroke-opacity="0.72" fill="none"/>
<polygon points="999.8,1081 968.3,1099.2 968.3,1062.8" fill="#aef5ae"/>
<polygon points="992.8,1078 961.3,1096.2 961.3,1059.8" fill="#aef5ae"/>
<polygon points="956.8,1121 925.3,1139.2 925.3,1102.8" fill="#aef5ae"/>
<polygon points="952.8,1126 921.3,1144.2 921.3,1107.8" fill="#aef5ae"/>
<polygon points="904.8,1160 873.3,1178.2 873.3,1141.8" fill="#aef5ae"/>
<polygon points="900.8,1170 869.3,1188.2 869.3,1151.8" fill="#aef5ae"/>
<polygon points="898,1139 904.1,1149.5 916.1,1152.1 907.9,1161.2 909.2,1173.4 898,1168.5 886.8,1173.4 888.1,1161.2 879.9,1152.1 891.9,1149.5" fill="#008000"/>
<polygon points="943,1129 949.1,1139.5 961.1,1142.1 952.9,1151.2 954.2,1163.4 943,1158.5 931.8,1163.4 933.1,1151.2 924.9,1142.1 936.9,1139.5" fill="#008000"/>
<polygon points="940,1066 946.1,1076.5 958.1,1079.1 949.9,1088.2 951.2,1100.4 940,1095.5 928.8,1100.4 930.1,1088.2 921.9,1079.1 933.9,1076.5" fill="#008000"/>
<polygon points="952,1056 958.1,1066.5 970.1,1069.1 961.9,1078.2 963.2,1090.4 952,1085.5 940.8,1090.4 942.1,1078.2 933.9,1069.1 945.9,1066.5" fill="#008000"/>
<polygon points="910,1076 916.1,1086.5 928.1,1089.1 919.9,1098.2 921.2,1110.4 910,1105.5 898.8,1110.4 900.1,1098.2 891.9,1089.1 903.9,1086.5" fill="#008000"/>
<polygon points="905,1096 911.1,1106.5 923.1,1109.1 914.9,1118.2 916.2,1130.4 905,1125.5 893.8,1130.4 895.1,1118.2 886.9,1109.1 898.9,1106.5" fill="#008000"/>
<polygon points="903,1113 909.1,1123.5 921.1,1126.1 912.9,1135.2 914.2,1147.4 903,1142.5 891.8,1147.4 893.1,1135.2 884.9,1126.1 896.9,1123.5" fill="#008000"/>
<polygon points="880,1093 886.1,1103.5 898.1,1106.1 889.9,1115.2 891.2,1127.4 880,1122.5 868.8,1127.4 870.1,1115.2 861.9,1106.1 873.9,1103.5" fill="#008000"/>
<polygon points="870,1107 876.1,1117.5 888.1,1120.1 879.9,1129.2 881.2,1141.4 870,1136.5 858.8,1141.4 860.1,1129.2 851.9,1120.1 863.9,1117.5" fill="#008000"/>
<polygon points="860,1121 866.1,1131.5 878.1,1134.1 869.9,1143.2 871.2,1155.4 860,1150.5 848.8,1155.4 850.1,1143.2 841.9,1134.1 853.9,1131.5" fill="#008000"/>
<polygon points="850,1141 856.1,1151.5 868.1,1154.1 859.9,1163.2 861.2,1175.4 850,1170.5 838.8,1175.4 840.1,1163.2 831.9,1154.1 843.9,1151.5" fill="#008000"/>
<polygon points="836,1111 842.1,1121.5 854.1,1124.1 845.9,1133.2 847.2,1145.4 836,1140.5 824.8,1145.4 826.1,1133.2 817.9,1124.1 829.9,1121.5" fill="#008000"/>
<polygon points="830,1131 836.1,1141.5 848.1,1144.1 839.9,1153.2 841.2,1165.4 830,1160.5 818.8,1165.4 820.1,1153.2 811.9,1144.1 823.9,1141.5" fill="#008000"/>
<polygon points="820,1144 826.1,1154.5 838.1,1157.1 829.9,1166.2 831.2,1178.4 820,1173.5 808.8,1178.4 810.1,1166.2 801.9,1157.1 813.9,1154.5" fill="#008000"/>
<polygon points="808,1133 814.1,1143.5 826.1,1146.1 817.9,1155.2 819.2,1167.4 808,1162.5 796.8,1167.4 798.1,1155.2 789.9,1146.1 801.9,1143.5" fill="#008000"/>
<polygon points="812,1149 818.1,1159.5 830.1,1162.1 821.9,1171.2 823.2,1183.4 812,1178.5 800.8,1183.4 802.1,1171.2 793.9,1162.1 805.9,1159.5" fill="#008000"/>
<polygon points="845,1151 851.1,1161.5 863.1,1164.1 854.9,1173.2 856.2,1185.4 845,1180.5 833.8,1185.4 835.1,1173.2 826.9,1164.1 838.9,1161.5" fill="#008000"/>
<polygon points="865,1151 871.1,1161.5 883.1,1164.1 874.9,1173.2 876.2,1185.4 865,1180.5 853.8,1185.4 855.1,1173.2 846.9,1164.1 858.9,1161.5" fill="#008000"/>
<polygon points="842,1127 848.1,1137.5 860.1,1140.1 851.9,1149.2 853.2,1161.4 842,1156.5 830.8,1161.4 832.1,1149.2 823.9,1140.1 835.9,1137.5" fill="#008000"/>
<polygon points="885,1117 891.1,1127.5 903.1,1130.1 894.9,1139.2 896.2,1151.4 885,1146.5 873.8,1151.4 875.1,1139.2 866.9,1130.1 878.9,1127.5" fill="#008000"/>
<polygon points="925,1071 931.1,1081.5 943.1,1084.1 934.9,1093.2 936.2,1105.4 925,1100.5 913.8,1105.4 915.1,1093.2 906.9,1084.1 918.9,1081.5" fill="#008000"/>
<polygon points="855,1106 861.1,1116.5 873.1,1119.1 864.9,1128.2 866.2,1140.4 855,1135.5 843.8,1140.4 845.1,1128.2 836.9,1119.1 848.9,1116.5" fill="#008000"/>
<polygon points="822,1123 828.1,1133.5 840.1,1136.1 831.9,1145.2 833.2,1157.4 822,1152.5 810.8,1157.4 812.1,1145.2 803.9,1136.1 815.9,1133.5" fill="#008000"/>
<polygon points="752,1127 757.8,1137 769.1,1139.4 761.4,1148.1 762.6,1159.6 752,1154.9 741.4,1159.6 742.6,1148.1 734.9,1139.4 746.2,1137" fill="#008000"/>
<polygon points="758,1142 763.8,1152 775.1,1154.4 767.4,1163.1 768.6,1174.6 758,1169.9 747.4,1174.6 748.6,1163.1 740.9,1154.4 752.2,1152" fill="#008000"/>
<polygon points="747,1139 752.8,1149 764.1,1151.4 756.4,1160.1 757.6,1171.6 747,1166.9 736.4,1171.6 737.6,1160.1 729.9,1151.4 741.2,1149" fill="#008000"/>
<polygon points="760,1122 765.8,1132 777.1,1134.4 769.4,1143.1 770.6,1154.6 760,1149.9 749.4,1154.6 750.6,1143.1 742.9,1134.4 754.2,1132" fill="#008000"/>
<polygon points="769,1161.6 782.9,1169.6 782.9,1185.6 769,1193.6 755.1,1185.6 755.1,1169.6" fill="#00ee00"/>
<line x1="906.5" y1="244.3" x2="904.5" y2="1220" stroke="#333" stroke-width="4.5" stroke-dasharray="12.8 11.6"/>
<line x1="249.8" y1="1030.7" x2="1542" y2="1030.7" stroke="#333" stroke-width="4.5" stroke-dasharray="13 11.6"/>
<text transform="translate(63.5 1428) scale(1 1.045)" font-size="57" text-anchor="start" fill="#1e1e1e" letter-spacing="2">(b)</text>
<rect x="214" y="1416" width="1475" height="51" fill="#fff" stroke="#707070" stroke-width="2.5"/>
<line x1="243" y1="1443.5" x2="337" y2="1443.5" stroke="#ff8a1c" stroke-width="4.5"/>
<text transform="translate(349 1459) scale(1 1.045)" font-size="41.5" text-anchor="start" fill="#1e1e1e">CLO pure</text>
<line x1="549.5" y1="1443.5" x2="642.5" y2="1443.5" stroke="#7f7fff" stroke-width="4.5"/>
<text transform="translate(655.5 1459) scale(1 1.045)" font-size="41.5" text-anchor="start" fill="#1e1e1e">SO pure</text>
<line x1="830.5" y1="1443.5" x2="923.5" y2="1443.5" stroke="#a01c1c" stroke-width="4.5"/>
<text transform="translate(935 1459) scale(1 1.045)" font-size="41.5" text-anchor="start" fill="#1e1e1e">PO pure</text>
<line x1="1111.5" y1="1443.5" x2="1204.5" y2="1443.5" stroke="#ff1cff" stroke-width="4.5"/>
<text transform="translate(1218 1459) scale(1 1.045)" font-size="41.5" text-anchor="start" fill="#1e1e1e">O3C pure</text>
<line x1="1418" y1="1443.5" x2="1512" y2="1443.5" stroke="#22ff22" stroke-width="4.5"/>
<text transform="translate(1525 1459) scale(1 1.045)" font-size="41.5" text-anchor="start" fill="#1e1e1e">FO pure</text>
<line x1="217.3" y1="1486.8" x2="724" y2="1486.8" stroke="#3a3a3a" stroke-width="4.5"/>
<line x1="754" y1="1486.8" x2="1707" y2="1486.8" stroke="#3a3a3a" stroke-width="4.5"/>
<line x1="217.3" y1="2082.8" x2="724" y2="2082.8" stroke="#3a3a3a" stroke-width="4.5"/>
<line x1="754" y1="2082.8" x2="1707" y2="2082.8" stroke="#3a3a3a" stroke-width="4.5"/>
<line x1="217.3" y1="2580.8" x2="724" y2="2580.8" stroke="#3a3a3a" stroke-width="4.5"/>
<line x1="754" y1="2580.8" x2="1707" y2="2580.8" stroke="#3a3a3a" stroke-width="4.5"/>
<line x1="217.3" y1="3078" x2="724" y2="3078" stroke="#3a3a3a" stroke-width="4.5"/>
<line x1="754" y1="3078" x2="1707" y2="3078" stroke="#3a3a3a" stroke-width="4.5"/>
<line x1="217.3" y1="1484.6" x2="217.3" y2="3080.2" stroke="#3a3a3a" stroke-width="4.5"/>
<line x1="1707" y1="1484.6" x2="1707" y2="3080.2" stroke="#3a3a3a" stroke-width="4.5"/>
<line x1="713" y1="1506.5" x2="739" y2="1467.6" stroke="#2a2a2a" stroke-width="3.2"/>
<line x1="738.6" y1="1506.5" x2="764.5" y2="1467.6" stroke="#2a2a2a" stroke-width="3.2"/>
<line x1="713" y1="2102" x2="739" y2="2065.5" stroke="#2a2a2a" stroke-width="3.2"/>
<line x1="738.6" y1="2102" x2="764.5" y2="2065.5" stroke="#2a2a2a" stroke-width="3.2"/>
<line x1="713" y1="2600" x2="739" y2="2563" stroke="#2a2a2a" stroke-width="3.2"/>
<line x1="738.6" y1="2600" x2="764.5" y2="2563" stroke="#2a2a2a" stroke-width="3.2"/>
<line x1="713" y1="3097.6" x2="739" y2="3060" stroke="#2a2a2a" stroke-width="3.2"/>
<line x1="738.6" y1="3097.6" x2="764.5" y2="3060" stroke="#2a2a2a" stroke-width="3.2"/>
<line x1="198" y1="1589.5" x2="217.3" y2="1589.5" stroke="#3a3a3a" stroke-width="4.3"/>
<text transform="translate(185 1604.7) scale(1 1.045)" font-size="42.5" text-anchor="end" fill="#1e1e1e">8</text>
<line x1="198" y1="1793.4" x2="217.3" y2="1793.4" stroke="#3a3a3a" stroke-width="4.3"/>
<text transform="translate(185 1808.6) scale(1 1.045)" font-size="42.5" text-anchor="end" fill="#1e1e1e">4</text>
<line x1="198" y1="1996.3" x2="217.3" y2="1996.3" stroke="#3a3a3a" stroke-width="4.3"/>
<text transform="translate(185 2011.5) scale(1 1.045)" font-size="42.5" text-anchor="end" fill="#1e1e1e">0</text>
<line x1="198" y1="2152" x2="217.3" y2="2152" stroke="#3a3a3a" stroke-width="4.3"/>
<text transform="translate(185 2167.2) scale(1 1.045)" font-size="42.5" text-anchor="end" fill="#1e1e1e">0.05</text>
<line x1="198" y1="2269.5" x2="217.3" y2="2269.5" stroke="#3a3a3a" stroke-width="4.3"/>
<text transform="translate(185 2284.7) scale(1 1.045)" font-size="42.5" text-anchor="end" fill="#1e1e1e">0.00</text>
<line x1="198" y1="2387.6" x2="217.3" y2="2387.6" stroke="#3a3a3a" stroke-width="4.3"/>
<text transform="translate(185 2402.8) scale(1 1.045)" font-size="42.5" text-anchor="end" fill="#1e1e1e">−0.05</text>
<line x1="198" y1="2505" x2="217.3" y2="2505" stroke="#3a3a3a" stroke-width="4.3"/>
<text transform="translate(185 2520.2) scale(1 1.045)" font-size="42.5" text-anchor="end" fill="#1e1e1e">−0.10</text>
<line x1="198" y1="2674.8" x2="217.3" y2="2674.8" stroke="#3a3a3a" stroke-width="4.3"/>
<text transform="translate(185 2690) scale(1 1.045)" font-size="42.5" text-anchor="end" fill="#1e1e1e">0.1</text>
<line x1="198" y1="2802" x2="217.3" y2="2802" stroke="#3a3a3a" stroke-width="4.3"/>
<text transform="translate(185 2817.2) scale(1 1.045)" font-size="42.5" text-anchor="end" fill="#1e1e1e">0.0</text>
<line x1="198" y1="2930.8" x2="217.3" y2="2930.8" stroke="#3a3a3a" stroke-width="4.3"/>
<text transform="translate(185 2946) scale(1 1.045)" font-size="42.5" text-anchor="end" fill="#1e1e1e">−0.1</text>
<line x1="198" y1="3058" x2="217.3" y2="3058" stroke="#3a3a3a" stroke-width="4.3"/>
<text transform="translate(185 3073.2) scale(1 1.045)" font-size="42.5" text-anchor="end" fill="#1e1e1e">−0.2</text>
<line x1="302" y1="3078" x2="302" y2="3099" stroke="#3a3a3a" stroke-width="4.3"/>
<line x1="989.7" y1="3078" x2="989.7" y2="3099" stroke="#3a3a3a" stroke-width="4.3"/>
<line x1="1229.2" y1="3078" x2="1229.2" y2="3099" stroke="#3a3a3a" stroke-width="4.3"/>
<line x1="1467.6" y1="3078" x2="1467.6" y2="3099" stroke="#3a3a3a" stroke-width="4.3"/>
<line x1="1707" y1="3078" x2="1707" y2="3099" stroke="#3a3a3a" stroke-width="4.3"/>
<line x1="554.5" y1="3078" x2="554.5" y2="3089.5" stroke="#3a3a3a" stroke-width="4.3"/>
<line x1="870" y1="3078" x2="870" y2="3089.5" stroke="#3a3a3a" stroke-width="4.3"/>
<line x1="1109" y1="3078" x2="1109" y2="3089.5" stroke="#3a3a3a" stroke-width="4.3"/>
<line x1="1348.5" y1="3078" x2="1348.5" y2="3089.5" stroke="#3a3a3a" stroke-width="4.3"/>
<line x1="1587" y1="3078" x2="1587" y2="3089.5" stroke="#3a3a3a" stroke-width="4.3"/>
<text transform="translate(301.5 3144.4) scale(1 1.045)" font-size="42.5" text-anchor="middle" fill="#1e1e1e">3000</text>
<text transform="translate(989.7 3144.4) scale(1 1.045)" font-size="42.5" text-anchor="middle" fill="#1e1e1e">1500</text>
<text transform="translate(1229.2 3144.4) scale(1 1.045)" font-size="42.5" text-anchor="middle" fill="#1e1e1e">1200</text>
<text transform="translate(1467.6 3144.4) scale(1 1.045)" font-size="42.5" text-anchor="middle" fill="#1e1e1e">900</text>
<text transform="translate(1706.2 3144.4) scale(1 1.045)" font-size="42.5" text-anchor="middle" fill="#1e1e1e">600</text>
<text transform="translate(755 3210.7) scale(1 1.045)" font-size="51" fill="#1e1e1e">Wavenumber / cm<tspan font-size="28" dy="-20">-1</tspan></text>
<text transform="translate(123.3 1714.3) rotate(-90) scale(1 1.045)" font-size="51.5" text-anchor="middle" fill="#1e1e1e">Raman intensity / a.u</text>
<text transform="translate(60 2302) rotate(-90) scale(1 1.045)" font-size="52" text-anchor="middle" fill="#1e1e1e">PC-2</text>
<text transform="translate(84 2798.5) rotate(-90) scale(1 1.045)" font-size="52" text-anchor="middle" fill="#1e1e1e">PC-1</text>
<text transform="translate(298 1613.4) rotate(-90) scale(1 1.045)" font-size="42" text-anchor="middle" fill="#1e1e1e">3014</text>
<text transform="translate(413 1540) rotate(-90) scale(1 1.045)" font-size="42" text-anchor="middle" fill="#1e1e1e">2934</text>
<text transform="translate(618 1548) rotate(-90) scale(1 1.045)" font-size="42" text-anchor="middle" fill="#1e1e1e">2852</text>
<text transform="translate(810.3 1681.5) rotate(-90) scale(1 1.045)" font-size="42" text-anchor="middle" fill="#1e1e1e">1748</text>
<text transform="translate(887 1592.3) rotate(-90) scale(1 1.045)" font-size="42" text-anchor="middle" fill="#1e1e1e">1658</text>
<text transform="translate(1057.8 1613) rotate(-90) scale(1 1.045)" font-size="42" text-anchor="middle" fill="#1e1e1e">1439</text>
<text transform="translate(1163.4 1648.4) rotate(-90) scale(1 1.045)" font-size="42" text-anchor="middle" fill="#1e1e1e">1302</text>
<text transform="translate(1214.7 1661) rotate(-90) scale(1 1.045)" font-size="42" text-anchor="middle" fill="#1e1e1e">1266</text>
<text transform="translate(1431 1708.7) rotate(-90) scale(1 1.045)" font-size="42" text-anchor="middle" fill="#1e1e1e">973</text>
<text transform="translate(1513 1714.5) rotate(-90) scale(1 1.045)" font-size="42" text-anchor="middle" fill="#1e1e1e">866</text>
<text transform="translate(943.4 2357) rotate(-90) scale(1 1.045)" font-size="42" text-anchor="middle" fill="#1e1e1e">1594</text>
<line x1="278.9" y1="1674.4" x2="273.5" y2="3078" stroke="#383838" stroke-width="4.3" stroke-dasharray="13 11"/>
<line x1="417.8" y1="1561" x2="416.5" y2="3078" stroke="#383838" stroke-width="4.3" stroke-dasharray="13 11"/>
<line x1="557.3" y1="1522.6" x2="555.1" y2="3090" stroke="#383838" stroke-width="4.3" stroke-dasharray="13 11"/>
<line x1="793.8" y1="1739.7" x2="796" y2="3078" stroke="#383838" stroke-width="4.3" stroke-dasharray="13 11"/>
<line x1="867.7" y1="1644.6" x2="859.4" y2="3092" stroke="#383838" stroke-width="4.3" stroke-dasharray="13 11"/>
<line x1="1040.2" y1="1676.7" x2="1036.9" y2="3078" stroke="#383838" stroke-width="4.3" stroke-dasharray="13 11"/>
<line x1="1149.8" y1="1708.7" x2="1146.2" y2="3093" stroke="#383838" stroke-width="4.3" stroke-dasharray="13 11"/>
<line x1="1179.7" y1="1721.5" x2="1178.2" y2="3078" stroke="#383838" stroke-width="4.3" stroke-dasharray="13 11"/>
<line x1="1412.2" y1="1753.5" x2="1409.6" y2="3094" stroke="#383838" stroke-width="4.3" stroke-dasharray="13 11"/>
<line x1="1496.3" y1="1748" x2="1494.5" y2="3078" stroke="#383838" stroke-width="4.3" stroke-dasharray="13 11"/>
<line x1="217.3" y1="2268.8" x2="1707" y2="2267.5" stroke="#383838" stroke-width="4.3" stroke-dasharray="13 11"/>
<line x1="217.3" y1="2802.2" x2="1707" y2="2797.5" stroke="#383838" stroke-width="4.3" stroke-dasharray="13 11"/>
<path d="M218,1778.7 C220.3,1778.4 226.8,1778.9 231.9,1777.1 C237,1775.2 244.2,1771.7 248.8,1767.6 C253.4,1763.5 256.4,1757 259.4,1752.7 C262.3,1748.4 263.2,1748.5 266.5,1741.6 C269.8,1734.7 274.8,1713.9 278.9,1711.5 C283,1709.1 287.8,1722.3 291.3,1727.4 C294.8,1732.5 296.5,1737.3 300,1742 C303.5,1746.7 308.1,1754 312.5,1755.7 C316.9,1757.4 321.3,1755.7 326.6,1752.2 C331.9,1748.7 337.8,1743.9 344.3,1734.5 C350.8,1725.1 359,1704.4 365.5,1695.6 C372,1686.8 378.5,1687.4 383.2,1681.5 C387.9,1675.6 390.3,1672.1 393.8,1660.3 C397.3,1648.5 401.2,1623.5 404.4,1610.8 C407.6,1598.1 410.2,1589.2 413.2,1584.2 C416.1,1579.2 417.7,1581.5 422.1,1580.7 C426.5,1579.9 434.8,1581 439.6,1579.2 C444.4,1577.5 446.5,1573.4 451,1570.2 C455.5,1567 461.5,1562.1 466.8,1560 C472.1,1557.9 478.8,1557.5 482.6,1557.7 C486.4,1557.9 486.8,1558.3 489.4,1561.1 C492,1563.9 495.9,1570.7 498.5,1574.7 C501.1,1578.7 502.3,1582.8 505.3,1584.9 C508.3,1587 513,1584.8 516.6,1587.1 C520.2,1589.3 524.2,1597.5 526.8,1598.4 C529.4,1599.4 529.9,1598.6 532.4,1592.8 C534.9,1587 538.5,1573.6 541.5,1563.4 C544.5,1553.2 548.2,1538.1 550.5,1531.7 C552.8,1525.3 553.5,1524.2 555,1524.9 C556.5,1525.7 558.1,1527.9 559.6,1536.2 C561.1,1544.5 562.2,1558.1 564.1,1574.7 C566,1591.3 568.6,1616.2 570.9,1635.8 C573.2,1655.4 575.1,1677.3 577.7,1692.4 C580.3,1707.5 583.3,1716.9 586.7,1726.3 C590.1,1735.7 593,1742 598,1748.9 C603,1755.9 609.4,1763.1 616.8,1768 C624.2,1772.9 633.6,1775.9 642.5,1778.4 C651.4,1780.9 660.9,1781.9 670.1,1783 C679.3,1784.1 688.6,1784.8 697.7,1784.8 C706.9,1784.8 720.5,1783.3 725,1783" fill="none" stroke="#ff8a1c" stroke-width="4.8" stroke-linejoin="round" stroke-linecap="round"/>
<path d="M749.6,1786.1 L751,1786.1 L752.8,1785.1 L755,1785.1 L757.5,1785.9 L760.1,1785.8 L762.8,1785.6 L765.4,1785.1 L767.9,1785.3 L770.1,1785 L772,1784.6 L774.9,1783.1 L777.1,1782.1 L779,1780.5 L780.7,1779.1 L782.7,1777.5 L784.2,1775.9 L785.8,1773.5 L787.4,1771.2 L789,1768.9 L790.5,1766.9 L792,1765.5 L793.4,1765.3 L795.2,1765.3 L797,1766.7 L798.6,1769.2 L800.2,1770.9 L801.9,1772.9 L803.5,1774.4 L805,1776.4 L806.6,1778.9 L808.4,1780.6 L810.5,1782.4 L812.6,1783.7 L814.9,1783.8 L817.4,1783.4 L820,1784.2 L822.7,1784 L825.4,1783.7 L827.5,1783.6 L829.7,1783.2 L832,1782.9 L834.3,1782 L836.6,1782.2 L838.8,1781.5 L840.8,1779.8 L842.5,1779.5 L844.5,1778 L846.1,1776.3 L847.5,1774.7 L848.7,1772.6 L849.9,1770.3 L851,1766.4 L851.5,1765.1 L851.9,1762.9 L852.3,1761.7 L852.7,1759.8 L853.1,1757.3 L853.4,1755.3 L853.8,1753.4 L854.1,1750.9 L854.5,1748.3 L854.8,1745.5 L855.1,1743.1 L855.4,1740.8 L855.8,1737.5 L856.1,1735.5 L856.4,1731.9 L856.6,1730.8 L856.8,1728.1 L857,1726.7 L857.2,1724.3 L857.4,1721.8 L857.5,1719.5 L857.7,1717.3 L857.9,1714.8 L858.1,1712.1 L858.3,1709.5 L858.4,1707.3 L858.6,1705.3 L858.8,1702.5 L858.9,1699.5 L859.1,1697.9 L859.3,1695.4 L859.4,1693.2 L859.6,1690.2 L859.8,1688.6 L859.9,1685.7 L860.1,1684.4 L860.3,1682 L860.4,1680.2 L860.6,1679.2 L861,1674.7 L861.4,1671.7 L861.8,1669 L862.2,1665.5 L862.6,1663 L863,1661.5 L863.4,1659 L863.7,1657.7 L864.1,1655.6 L864.5,1654.8 L866.3,1652.9 L868.1,1659.8 L868.3,1660.5 L868.5,1663 L868.8,1663.7 L869,1666.4 L869.2,1667.7 L869.5,1670.1 L869.7,1673 L870,1674.7 L870.2,1677.2 L870.5,1680.2 L870.7,1682.5 L870.9,1684.7 L871.2,1688.3 L871.4,1690 L871.7,1692.4 L871.9,1695.2 L872.2,1698 L872.4,1700.5 L872.6,1702 L872.9,1704.5 L873.1,1706.5 L873.3,1709.3 L873.5,1712.1 L873.8,1714.4 L874,1717 L874.2,1719.3 L874.4,1721.8 L874.7,1724 L874.9,1726.1 L875.1,1728.2 L875.3,1730.9 L875.6,1732.8 L875.8,1734.7 L876,1737.2 L876.3,1739.6 L876.5,1740.7 L876.7,1743 L877.1,1746 L877.5,1749.1 L877.8,1751.5 L878.2,1755 L878.5,1756.7 L878.9,1759.3 L879.3,1761.1 L879.8,1762.6 L880.3,1764.9 L880.9,1766 L882.6,1768.7 L884.7,1770 L887,1771.1 L889.5,1772.4 L891.4,1774.4 L893.5,1776 L895.6,1778.3 L897.9,1779.8 L900.1,1781.1 L902.3,1781 L904.5,1781.2 L906.6,1780.2 L908.8,1779.4 L911,1778.3 L913.1,1777.6 L915.1,1777.2 L917.3,1777.2 L919.2,1778.5 L921.2,1780 L923.3,1780.8 L925.8,1781.9 L927.9,1782.9 L930.1,1783.2 L932.5,1784.4 L934.9,1784.4 L937.5,1784.6 L940.2,1785 L942.9,1785.3 L945.1,1785.4 L947.5,1785.7 L949.9,1785.5 L952.4,1785.3 L954.9,1785.4 L957.4,1784.8 L959.8,1785.3 L962.1,1785.2 L964.2,1784.8 L966.7,1784.2 L969.1,1784 L971.3,1783.8 L973.4,1782.9 L975.6,1783 L977.7,1782.8 L980,1782 L982.4,1781.6 L985,1782.1 L987.6,1781.4 L990.2,1781.2 L992.6,1781.2 L995,1780.2 L997.1,1779 L999.3,1778.6 L1001.2,1776.7 L1003,1774.9 L1004.6,1773.8 L1006.2,1770.9 L1007.8,1768.3 L1008.5,1767.3 L1009.2,1765.3 L1010,1762.7 L1010.6,1761.1 L1011.3,1758.9 L1012,1756.7 L1012.6,1754 L1013.3,1752.1 L1013.9,1749.2 L1014.5,1747.1 L1015.1,1744.9 L1015.7,1743.3 L1016.3,1740.2 L1017,1738.5 L1017.6,1735.4 L1018.1,1733.3 L1018.7,1730.6 L1019.2,1728.2 L1019.8,1726 L1020.3,1723.3 L1020.9,1720.7 L1021.4,1718.5 L1022,1716.5 L1022.7,1715.5 L1024,1712.5 L1025.4,1710.7 L1026.8,1708.6 L1028.3,1706.2 L1029.8,1705 L1031.2,1702.6 L1032.1,1700.6 L1033,1698 L1033.9,1695.3 L1034.8,1692.7 L1035.8,1690.4 L1036.7,1687.2 L1037.5,1685.2 L1038.4,1683.2 L1039.1,1682.3 L1039.8,1681.3 L1040.7,1681.2 L1041.5,1681.7 L1042.1,1682.7 L1042.7,1685.2 L1043.3,1689.1 L1044.1,1693.4 L1044.3,1695.1 L1044.6,1697.1 L1044.8,1699.2 L1045.1,1700.9 L1045.3,1703.3 L1045.6,1704.7 L1045.8,1707.4 L1046.1,1710.5 L1046.4,1712.1 L1046.6,1715 L1046.9,1717.1 L1047.2,1719.8 L1047.5,1723.2 L1047.8,1725.9 L1048.1,1728 L1048.4,1729.9 L1048.7,1732.5 L1049.1,1734.7 L1049.4,1737.4 L1049.8,1739.5 L1050.1,1741.1 L1050.5,1742.9 L1051.3,1745.6 L1052.1,1748.9 L1053,1751.9 L1053.9,1754.1 L1054.8,1755.5 L1055.7,1757.9 L1056.7,1760 L1057.8,1761.2 L1058.8,1763.6 L1060,1764.7 L1061.1,1766.6 L1062.8,1768.5 L1064.6,1771.2 L1066.6,1772.9 L1068.6,1774.4 L1070.6,1775.5 L1072.5,1777.2 L1074.4,1777.8 L1076.1,1779.3 L1079,1780.3 L1081.5,1779.2 L1083.9,1778.7 L1086.8,1778.1 L1089,1777.8 L1091.3,1778 L1093.7,1778.2 L1096.3,1777.7 L1098.9,1777.3 L1101.7,1777.5 L1103.9,1776.6 L1106.3,1776.8 L1108.9,1776.5 L1111.4,1776.4 L1114,1776.1 L1116.4,1774.9 L1118.8,1774.8 L1120.9,1773.7 L1123.1,1772.8 L1125.1,1771.8 L1126.9,1769.9 L1128.7,1767.5 L1130.4,1766.2 L1132,1764.5 L1133.7,1762.5 L1135,1760.4 L1136.3,1758.6 L1137.6,1755.5 L1138.9,1754.2 L1140.1,1751.7 L1141.3,1749.2 L1142.4,1747.3 L1143.5,1745.2 L1144.4,1742.5 L1145.6,1740.5 L1146.6,1737.6 L1147.4,1734.4 L1148.2,1732.7 L1149,1730.9 L1149.8,1729.7 L1151.1,1730.9 L1152.4,1732.4 L1153.7,1735.9 L1155.1,1738.5 L1156.1,1740.3 L1157.2,1743 L1158.2,1745.3 L1159.3,1747.2 L1160.4,1749.8 L1161.5,1749.8 L1163.5,1749.8 L1165.4,1748.4 L1167.9,1745.4 L1168.9,1743.5 L1170.1,1741.4 L1171.3,1738.5 L1172.6,1736 L1173.9,1732.9 L1175.2,1730.2 L1176.4,1728.3 L1177.6,1726.2 L1178.6,1725.3 L1180.1,1726.1 L1181.4,1726.9 L1182.5,1730 L1183.7,1733.2 L1185,1736.4 L1185.6,1738.3 L1186.2,1740.3 L1186.9,1742.5 L1187.5,1743.9 L1188.2,1746.3 L1188.8,1748.9 L1189.5,1751.4 L1190.3,1753.6 L1191,1755.6 L1191.8,1758.3 L1192.6,1760.8 L1193.5,1762 L1194.9,1764.6 L1196.4,1766.7 L1197.9,1769 L1199.6,1771.4 L1201.2,1772.6 L1202.9,1774.6 L1204.6,1775.8 L1206.3,1777 L1208.5,1778.6 L1210.7,1778.2 L1212.9,1779.3 L1215.2,1778.8 L1217.5,1779.2 L1220,1779.5 L1222.2,1779.6 L1224.3,1779.6 L1226.4,1780.4 L1228.7,1779.8 L1231.2,1780.6 L1233.9,1780.6 L1237,1780.9 L1238.9,1781.4 L1240.9,1781.4 L1243.1,1781.4 L1245.4,1781.1 L1247.8,1781.1 L1250.2,1781.5 L1252.6,1781.3 L1255,1781.4 L1257.4,1782.2 L1259.7,1781.4 L1261.9,1782.2 L1263.9,1781.7 L1265.8,1781.7 L1268.9,1781.5 L1271.7,1781.1 L1274.3,1781.3 L1276.6,1780.8 L1278.8,1780.8 L1280.8,1780.3 L1282.8,1780.5 L1285.3,1779.8 L1287.4,1778.2 L1289.2,1777.4 L1291.1,1776.8 L1293,1775.6 L1295.6,1775.6 L1298.1,1776.6 L1300.7,1777.3 L1303.2,1777.7 L1304.8,1776.5 L1306.4,1775.2 L1308,1774 L1309.7,1771.7 L1311.4,1770.7 L1313.3,1769.1 L1315.4,1767.7 L1317.6,1766.9 L1320,1765.3 L1322.4,1764.9 L1324.7,1764.1 L1326.9,1763.1 L1329.5,1762.9 L1332,1763.1 L1334.5,1763 L1336.8,1763.5 L1338.8,1764.3 L1340.5,1766 L1341.7,1768 L1343.1,1770.5 L1345.6,1771.4 L1347.3,1772.1 L1349.2,1772.3 L1351.3,1772 L1353.6,1772 L1356,1771.7 L1358.5,1772.4 L1361,1771.8 L1363.5,1772.1 L1366,1772.8 L1368.1,1772.5 L1370.3,1773.9 L1372.5,1773.7 L1374.9,1774.3 L1377.2,1775.5 L1379.5,1776.3 L1381.8,1777.7 L1384,1778.3 L1386.1,1778.8 L1388,1778.9 L1389.7,1779.2 L1392.9,1779 L1395.5,1779.3 L1397.7,1778 L1399.6,1776.8 L1401.6,1776 L1403.2,1773.9 L1404.6,1772 L1405.8,1770.5 L1407.1,1767.5 L1408.5,1765.9 L1410.1,1765.3 L1411.8,1765.8 L1413.4,1767.4 L1415.2,1769.1 L1417.2,1771.1 L1419.4,1772.5 L1422,1773 L1423.8,1773.2 L1425.8,1772.2 L1428,1771.4 L1430.4,1770.7 L1432.7,1768.8 L1435.1,1767.6 L1437.5,1767.3 L1439.8,1765.8 L1442,1765.5 L1444,1764.4 L1446.6,1764.9 L1449,1765.8 L1451.2,1766.1 L1453.4,1767.6 L1455.5,1768.4 L1457.7,1769 L1460,1770 L1462.4,1769.4 L1465,1769.3 L1467.6,1769.2 L1470.2,1768.4 L1472.6,1768.5 L1475,1767.8 L1477.1,1767.5 L1480.3,1767.2 L1483,1767.7 L1485.4,1767.5 L1487.8,1766.7 L1490,1764.7 L1492,1762.4 L1494.1,1760.6 L1496.3,1759.4 L1497.9,1760 L1499.5,1762.2 L1501.1,1762.8 L1502.9,1765.5 L1504.8,1767 L1507,1768.9 L1508.7,1769 L1510.6,1770.4 L1512.4,1772 L1514.4,1772.2 L1516.6,1773.4 L1518.8,1774.8 L1521.3,1775.6 L1524,1776.6 L1525.8,1777.8 L1527.6,1777.8 L1529.6,1779.5 L1531.6,1779.8 L1533.7,1779.8 L1535.9,1781.4 L1538.1,1781.3 L1540.3,1782.1 L1542.6,1782.8 L1544.9,1782.8 L1547.2,1783.7 L1549.5,1783.6 L1551.8,1784.1 L1554,1785.1 L1556.2,1785.2 L1558.5,1785 L1560.8,1785.3 L1563.2,1785.5 L1565.6,1784.7 L1567.9,1785.1 L1570.3,1784.7 L1572.7,1784.6 L1575,1784.5 L1577.3,1784.5 L1579.5,1784.2 L1581.7,1784.2 L1583.8,1784.3 L1586.3,1784.3 L1588.8,1784.1 L1591.1,1783.7 L1593.3,1783 L1595.5,1782.2 L1597.7,1782.1 L1599.9,1780.8 L1602.1,1780.3 L1604.4,1780.7 L1606.9,1780.3 L1609.4,1779.9 L1611.5,1780.2 L1613.6,1780.4 L1615.9,1780.9 L1618.1,1781.3 L1620.4,1781.8 L1622.7,1782.8 L1625.1,1783.4 L1627.4,1783.7 L1629.8,1784.2 L1632.1,1784.6 L1634.5,1785.7 L1636.9,1786.4 L1639.2,1786 L1641.5,1786.8 L1643.8,1787.1 L1646.1,1787.3 L1648.4,1786.8 L1650.7,1787.5 L1653,1787.3 L1655.3,1787.4 L1657.6,1787.9 L1659.9,1788.1 L1662.1,1788.1 L1664.4,1788.2 L1666.7,1788.1 L1669,1787.8 L1671.2,1787.2 L1673.5,1787.9 L1675.8,1787.8 L1678.3,1787.5 L1680.8,1786.9 L1683.3,1785.9 L1685.9,1785.6 L1688.5,1785.1 L1691,1785.2 L1693.4,1784.6 L1695.8,1783.7 L1697.9,1784.1 L1699.9,1783.7 L1701.7,1783.3 L1703.2,1782.5 L1704.5,1782.1" fill="none" stroke="#ff8a1c" stroke-width="4.8" stroke-linejoin="round" stroke-linecap="round"/>
<path d="M218,1841.8 C219.9,1841.5 225.3,1841.1 229.7,1839.7 C234.1,1838.3 240.3,1836.6 244.6,1833.4 C248.8,1830.2 251.7,1828 255.2,1820.6 C258.7,1813.2 262.1,1797.3 265.8,1788.8 C269.5,1780.3 274,1770.4 277.5,1769.7 C281,1769 283.6,1778.6 287,1784.6 C290.4,1790.6 294.1,1800.5 297.6,1805.8 C301.1,1811.1 305,1814.5 308.2,1816.4 C311.4,1818.3 313.1,1818.5 316.7,1817.4 C320.2,1816.3 324.9,1814.4 329.5,1810 C334.1,1805.6 339.7,1798.4 344.3,1791 C348.9,1783.6 352.9,1772.5 357,1765.5 C361.1,1758.5 364.6,1753.9 369,1748.7 C373.4,1743.5 378.5,1741.6 383.2,1734.5 C387.9,1727.4 393.8,1716.1 397.3,1706.2 C400.8,1696.3 401.9,1684 404,1675 C406.1,1666 407.6,1657.5 410,1652 C412.4,1646.5 414.4,1643.8 418.6,1642 C422.8,1640.2 430.5,1642.8 435.1,1641.4 C439.7,1640 441.9,1636.5 446.4,1633.5 C450.9,1630.5 457,1625.6 462.3,1623.3 C467.6,1621 474,1619.9 478.1,1619.9 C482.2,1619.9 484.2,1621 487.2,1623.3 C490.2,1625.6 493.2,1629.7 496.2,1633.5 C499.2,1637.3 502.3,1643.5 505.3,1646 C508.3,1648.5 510.7,1646 514.3,1648.2 C517.9,1650.5 523.8,1658.5 526.8,1659.5 C529.8,1660.5 529.9,1660.5 532.4,1653.9 C534.9,1647.3 538.1,1630.1 541.5,1619.9 C544.9,1609.7 550,1595.4 552.8,1592.8 C555.6,1590.2 556.5,1593.2 558.4,1604.1 C560.3,1615 562,1639.9 564.1,1658.4 C566.2,1676.9 568.6,1698 570.9,1715 C573.2,1732 575.7,1747.7 577.7,1760.2 C579.7,1772.7 580.8,1781.2 583,1790 C585.2,1798.8 587.2,1807 591,1813.3 C594.8,1819.6 600.2,1824.2 605.7,1828 C611.2,1831.8 616.4,1834.1 624.1,1836.3 C631.8,1838.5 642.5,1839.5 651.7,1840.9 C660.9,1842.3 667,1844.1 679.3,1844.6 C691.6,1845.1 717.6,1843.8 725.3,1843.7" fill="none" stroke="#8080ff" stroke-width="4.8" stroke-linejoin="round" stroke-linecap="round"/>
<path d="M749.6,1847.2 L751,1847 L752.8,1847.2 L755,1846.8 L757.5,1846.5 L760.1,1846.7 L762.8,1847.1 L765.4,1846.7 L767.9,1846.4 L770.1,1845.5 L772,1845.4 L774.9,1844.3 L777.1,1843.1 L779,1841.8 L780.7,1840.5 L782.7,1839.5 L784.2,1837.6 L785.8,1835.4 L787.3,1832.9 L788.8,1829.8 L790.3,1827.9 L791.9,1826.8 L793.4,1826.4 L794.9,1827 L796.5,1828.5 L798,1829.7 L799.5,1832.6 L801.1,1835.2 L802.6,1837.2 L804.1,1838.6 L806.2,1840.9 L808.1,1842.3 L810.1,1844.8 L812.3,1845.9 L814.7,1846.5 L816.9,1846.6 L819.4,1847.3 L821.9,1846.8 L824.5,1846.9 L827.2,1846.4 L829.7,1845.4 L831.9,1844.8 L834.2,1844.5 L836.5,1843.7 L838.8,1842.7 L841,1841.9 L842.9,1841.1 L844.6,1838.5 L845.6,1837.2 L846.4,1836.5 L847.2,1834.8 L847.8,1833.6 L848.4,1831.9 L848.9,1829.8 L849.4,1828.2 L849.9,1824.5 L850.4,1821.4 L851,1817.3 L851.2,1816.2 L851.4,1814.2 L851.6,1812.5 L851.8,1811 L852,1808.6 L852.2,1806.8 L852.4,1805.1 L852.6,1802 L852.8,1799.7 L853,1797.5 L853.2,1795.7 L853.4,1793.2 L853.6,1790.3 L853.7,1787.9 L853.9,1785.3 L854.1,1783.1 L854.3,1780.1 L854.5,1778.4 L854.7,1776.1 L854.8,1773.7 L855,1771.1 L855.2,1768.9 L855.4,1765.6 L855.6,1763.6 L855.7,1762.1 L855.9,1759.7 L856.1,1757.3 L856.2,1755.9 L856.4,1753.6 L856.6,1751 L856.9,1747.7 L857.1,1744.8 L857.4,1742.4 L857.6,1739.4 L857.8,1737 L858,1735.1 L858.2,1731.8 L858.5,1729.1 L858.7,1726.7 L858.9,1724.6 L859.1,1723.1 L859.3,1720.6 L859.5,1718.5 L859.7,1716.4 L859.9,1715.7 L860.2,1713.5 L860.4,1711.8 L860.6,1710.3 L862.7,1704.6 L864.9,1706.2 L865.5,1707.5 L866.1,1707.6 L866.7,1708.6 L867.3,1710.7 L867.9,1712.8 L868.5,1717.2 L869.2,1721.1 L869.4,1723 L869.5,1724.8 L869.7,1726.1 L869.9,1728.5 L870,1729.9 L870.2,1731.6 L870.4,1733.9 L870.6,1735.6 L870.7,1738.3 L870.9,1740.4 L871.1,1743.5 L871.3,1745.9 L871.4,1747.9 L871.6,1749.9 L871.8,1752.7 L872,1755.2 L872.2,1757.7 L872.4,1760.2 L872.6,1763.4 L872.7,1765.1 L872.9,1767.5 L873.1,1770.9 L873.3,1772.8 L873.5,1775.6 L873.7,1777.2 L873.9,1780 L874.1,1781.8 L874.3,1784 L874.5,1785.9 L874.8,1788.3 L875.1,1790.6 L875.3,1793.4 L875.6,1796.8 L875.9,1799.4 L876.1,1802 L876.4,1803.9 L876.7,1806.7 L876.9,1809.3 L877.2,1811.5 L877.5,1814 L877.8,1815.9 L878.1,1818.2 L878.5,1820.3 L878.8,1821.8 L879.2,1824.4 L879.6,1826.2 L880,1826.9 L880.4,1829.5 L880.9,1830.9 L882.4,1834 L884,1835.7 L885.7,1838.3 L887.6,1838.6 L889.5,1840.3 L891.6,1840.6 L893.7,1840.6 L895.9,1841.4 L898.1,1842.2 L900.5,1842.2 L902.9,1842.4 L905.5,1842.5 L908.1,1841.7 L910.8,1841.7 L913,1842.9 L915.3,1842.3 L917.6,1843.6 L920,1843.2 L922.5,1844.4 L924.9,1844.7 L927.4,1845.2 L929.8,1845.2 L932.2,1845.8 L934.5,1845.3 L936.8,1846 L939.1,1845.9 L941.4,1846.7 L943.7,1846.7 L946,1846.4 L948.4,1846.5 L950.9,1846 L953.5,1845.9 L955.6,1846.4 L957.7,1846.1 L960,1846.3 L962.3,1845.8 L964.6,1845.1 L967,1845 L969.4,1845.2 L971.7,1844.6 L973.9,1843.7 L976.1,1844.3 L978.1,1843.9 L980,1842.7 L982.6,1842.7 L985.1,1842 L987.4,1842 L989.5,1840.9 L991.6,1840.2 L993.5,1839.7 L995.3,1839.4 L997.1,1837.5 L999,1836.3 L1000.7,1835.7 L1002.2,1834.7 L1003.7,1832.8 L1005.1,1830.9 L1006.4,1829.2 L1007.8,1826.4 L1008.5,1824 L1009.1,1823.2 L1009.8,1820.5 L1010.4,1818.6 L1011,1817.1 L1011.6,1814.4 L1012.2,1812.5 L1012.8,1809.5 L1013.4,1807.9 L1013.9,1804.8 L1014.5,1802.5 L1015.1,1800.6 L1015.7,1798.2 L1016.3,1796.3 L1017,1794.5 L1017.6,1792 L1018.3,1788.9 L1019,1786.8 L1019.7,1784.7 L1020.3,1782.3 L1021,1780.3 L1021.7,1777.8 L1022.3,1775.3 L1023,1773.4 L1023.6,1772.2 L1024.2,1769.9 L1024.8,1768.8 L1026.2,1765.8 L1027.5,1763.2 L1028.7,1761.6 L1029.9,1759.9 L1031.2,1757.6 L1032.3,1755.9 L1033.4,1752.5 L1034.5,1750 L1035.5,1746.8 L1036.6,1745.7 L1037.7,1745.3 L1038.4,1745.7 L1039.1,1746.6 L1039.8,1747.8 L1040.6,1750.3 L1041.3,1752.1 L1042,1755.1 L1042.7,1757.3 L1043.4,1760.4 L1044.1,1763.8 L1044.4,1766.3 L1044.8,1767.4 L1045.1,1770.3 L1045.4,1771.8 L1045.7,1774.3 L1046,1776.4 L1046.3,1779.2 L1046.6,1781.1 L1046.9,1783.9 L1047.2,1787 L1047.5,1788.7 L1047.8,1791.7 L1048.2,1793.8 L1048.5,1796.2 L1048.9,1798.2 L1049.3,1800.5 L1049.6,1803.6 L1050.1,1805.4 L1050.5,1807.2 L1051.3,1810.1 L1052.1,1813 L1053,1814.7 L1053.9,1817.5 L1054.8,1819.7 L1055.7,1821.8 L1056.7,1824.2 L1057.8,1825.8 L1058.8,1827.7 L1060,1828.4 L1061.1,1830.6 L1062.8,1832.5 L1064.5,1834.3 L1066.4,1835.7 L1068.3,1837.2 L1070.3,1837.7 L1072.3,1839.3 L1074.2,1839.4 L1076.1,1840.1 L1078.6,1840.6 L1081,1839.9 L1083.4,1838.7 L1085.9,1837.7 L1088.4,1837 L1091,1836.9 L1093.3,1837.3 L1095.8,1837.4 L1098.3,1837.1 L1100.8,1837.5 L1103.3,1838.2 L1105.7,1837.8 L1108.1,1837.8 L1110.4,1837.1 L1112.7,1836.9 L1114.9,1836.9 L1117.1,1836.5 L1119.2,1835.7 L1121.2,1834.5 L1123.1,1834.1 L1124.9,1832.5 L1126.5,1830.5 L1128.1,1828.8 L1129.5,1828.1 L1130.9,1826.2 L1132.3,1824.3 L1133.7,1822 L1135.1,1819.7 L1136.4,1817.4 L1137.6,1815.4 L1138.9,1813.2 L1140.1,1811.7 L1141.2,1809.5 L1142.3,1807.2 L1143.3,1804.1 L1144.2,1801.4 L1145,1798.6 L1145.8,1796.6 L1146.6,1793.5 L1147.6,1792.7 L1148.7,1792.2 L1149.7,1792.8 L1150.8,1794.9 L1152,1796.4 L1153.3,1799.4 L1154.6,1801.9 L1155.8,1804.6 L1157.1,1806.9 L1158.3,1809 L1159.4,1809.7 L1160.9,1809.4 L1162.4,1809.1 L1163.8,1806.1 L1165.1,1804.1 L1166.5,1801.1 L1167.9,1798.7 L1169.1,1796.3 L1170.4,1794 L1171.6,1791 L1172.8,1788.1 L1174,1785.7 L1175.3,1784.2 L1176.5,1783.6 L1177.7,1784 L1178.9,1785.3 L1180.1,1786.9 L1181.4,1790.2 L1182.6,1792.6 L1183.8,1795.1 L1185,1798 L1185.8,1800.7 L1186.5,1802 L1187.2,1804.3 L1187.9,1806.8 L1188.6,1809.3 L1189.3,1811.1 L1190.1,1813.4 L1190.9,1815.7 L1191.7,1817.4 L1192.6,1820.4 L1193.5,1821.4 L1194.7,1824.6 L1196,1825.9 L1197.4,1827.9 L1198.8,1830.7 L1200.3,1832.5 L1201.8,1833.6 L1203.3,1835.5 L1204.8,1836.8 L1206.3,1838.1 L1208.4,1838.6 L1210.4,1839.8 L1212.4,1840 L1214.5,1839.6 L1217,1839.8 L1220,1840 L1221.9,1839.6 L1223.9,1840.4 L1226.1,1840.8 L1228.4,1840.8 L1230.8,1840.7 L1233.3,1841.6 L1235.7,1842.3 L1238.2,1842 L1240.7,1842.6 L1243.1,1843.1 L1245.5,1843 L1247.8,1842.5 L1250.2,1843.3 L1252.6,1843 L1255,1843.8 L1257.3,1843.6 L1259.7,1843.3 L1262,1843.9 L1264.3,1843.6 L1266.6,1843.1 L1268.8,1843.5 L1270.9,1843.3 L1273.4,1842.9 L1275.9,1842.2 L1278.4,1841.2 L1280.8,1840.4 L1283.1,1839.5 L1285.3,1838.6 L1287.4,1838.4 L1289.4,1837.1 L1291.3,1836.4 L1294.2,1837.1 L1296.7,1837.5 L1298.9,1838.3 L1301,1838.9 L1303.2,1838.3 L1305.2,1837.4 L1307.1,1836 L1309,1835.1 L1310.9,1833.6 L1312.9,1831.7 L1315,1829.7 L1317.2,1829.4 L1319.6,1828.1 L1322,1826.6 L1324.4,1825 L1326.6,1825.1 L1328.6,1824.3 L1331.8,1823.8 L1334.5,1823.4 L1337.1,1825.3 L1338.6,1825.7 L1339.8,1827.9 L1341.1,1829.4 L1342.9,1831.3 L1345.6,1833.1 L1347.4,1833.3 L1349.4,1833.6 L1351.7,1833.1 L1354.1,1833.1 L1356.7,1833.3 L1359.3,1832.6 L1361.9,1833 L1364.5,1833.6 L1367,1833.5 L1369.4,1833.9 L1371.7,1833.7 L1374.1,1834.7 L1376.5,1835.6 L1378.9,1836.2 L1381.3,1836.7 L1383.5,1837.2 L1385.7,1837.8 L1387.8,1839.3 L1389.7,1839.8 L1391.4,1839.3 L1394.2,1839.6 L1396.4,1838.6 L1398.2,1837.8 L1399.9,1836.8 L1401.6,1835 L1403.3,1833.8 L1404.9,1831.5 L1406.4,1829.8 L1408.1,1827.8 L1410.1,1827.3 L1412,1827.7 L1414,1829.6 L1416.2,1830.2 L1418.5,1832.4 L1421,1832.7 L1423.7,1834 L1425.5,1832.8 L1427.4,1832.1 L1429.4,1831.3 L1431.5,1831 L1433.7,1829.5 L1435.9,1828.5 L1438,1827 L1440.1,1825.6 L1442.1,1825.2 L1444,1825 L1446.5,1825.7 L1449,1825.4 L1451.3,1826.5 L1453.6,1828.3 L1455.8,1828.7 L1457.9,1830.4 L1460,1830.1 L1462.3,1830.2 L1464.4,1829.5 L1466.5,1828.8 L1468.5,1826.9 L1470.6,1826.9 L1472.8,1825.7 L1475.3,1826.5 L1477.9,1826.3 L1480.6,1827.8 L1483.3,1827.9 L1485.7,1828.2 L1487.8,1827.7 L1489.8,1826.3 L1491.3,1823.6 L1492.6,1821.3 L1493.8,1818.5 L1495.2,1817.4 L1496.3,1818.8 L1497.3,1819.6 L1498.3,1822 L1499.5,1825.4 L1500.9,1827.9 L1502.7,1829.5 L1504.3,1830.9 L1506,1830.7 L1507.8,1832.4 L1509.8,1832.9 L1512,1833.5 L1514.4,1834.4 L1517,1834.3 L1519.8,1835.4 L1521.5,1835.9 L1523.4,1837 L1525.3,1837.8 L1527.3,1838.5 L1529.4,1839.1 L1531.5,1840.4 L1533.7,1841.3 L1535.9,1842 L1538.2,1841.9 L1540.5,1842.8 L1542.8,1843.5 L1545.1,1844.1 L1547.4,1845 L1549.7,1845 L1551.9,1845.7 L1554.1,1845.6 L1556.4,1845.8 L1558.7,1846.3 L1561.1,1846.7 L1563.4,1845.9 L1565.8,1846 L1568.2,1846.7 L1570.6,1845.8 L1572.9,1845.5 L1575.2,1845.5 L1577.5,1846.1 L1579.6,1845.8 L1581.8,1845.9 L1583.8,1845.3 L1586.4,1844.5 L1588.8,1844.4 L1591.1,1844.4 L1593.3,1843.5 L1595.4,1842.6 L1597.5,1842.3 L1599.7,1841.9 L1601.9,1841.4 L1604.2,1841.1 L1606.7,1840.6 L1609.4,1840.5 L1611.4,1841.4 L1613.4,1841.6 L1615.5,1841.5 L1617.7,1841.5 L1620,1842.2 L1622.2,1842.9 L1624.5,1843.8 L1626.9,1843.8 L1629.2,1844.9 L1631.6,1844.9 L1634,1845.1 L1636.4,1846 L1638.7,1846.5 L1641.1,1846.9 L1643.4,1847.4 L1645.7,1846.9 L1648,1847.6 L1650.3,1848.2 L1652.7,1847.6 L1655.1,1847.7 L1657.5,1848 L1659.9,1848.2 L1662.3,1848.5 L1664.7,1848.5 L1667.1,1848.9 L1669.4,1848.4 L1671.7,1848.6 L1673.9,1849 L1676,1848.8 L1678.1,1849.2 L1680.1,1849.1 L1682,1848.2 L1684.9,1848 L1687.7,1847.8 L1690.5,1847.3 L1693.1,1846.4 L1695.5,1846.3 L1697.8,1844.9 L1699.8,1844.6 L1701.7,1843.6 L1703.2,1844 L1704.5,1843.3" fill="none" stroke="#8080ff" stroke-width="4.8" stroke-linejoin="round" stroke-linecap="round"/>
<path d="M218,1910 L219.6,1910.8 L221.8,1911.8 L224.4,1913.1 L227.1,1913.3 L229.7,1913.8 L231.8,1911.4 L233.9,1911.4 L236,1911.2 L238.2,1909.4 L240.4,1909 L242.5,1906.7 L245.1,1907.8 L247.7,1908.3 L250.3,1910.1 L252.8,1911 L255.2,1909.7 L257.1,1909.3 L258.9,1908.1 L260.6,1907.8 L262.3,1905.6 L264.1,1902.4 L265.8,1902 L267.6,1898.8 L269.3,1898 L271.1,1895 L272.9,1892.9 L274.6,1893 L276.4,1890 L278.5,1888.1 L280.6,1887.9 L282.8,1885.9 L284.9,1883.4 L287,1884.2 L289.1,1883.5 L291.1,1884.7 L293.2,1885 L295.3,1888.1 L297.6,1888.9 L299.6,1890.7 L301.7,1891.8 L303.9,1891.9 L306.1,1893.2 L308.2,1893.7 L310.4,1894.1 L312.5,1893.9 L314.6,1894 L316.8,1893.9 L318.9,1891.6 L321,1892.1 L323.1,1890.2 L325.2,1889 L327.3,1888.8 L329.5,1886.6 L331.6,1884.8 L333.7,1883.6 L335.8,1882.7 L338,1879.9 L340.2,1880.7 L342.4,1877.3 L344.6,1877.6 L346.6,1876.2 L348.5,1872.6 L350,1872.5 L351.3,1869.6 L352.5,1867.9 L353.7,1864.4 L354.8,1862.2 L355.9,1860.3 L357,1859.8 L358,1856 L358.9,1855 L359.7,1853.2 L360.5,1851 L361.3,1847.6 L362.3,1845.6 L363.4,1844.1 L364.9,1842.6 L366.6,1839.2 L368.4,1838.9 L370.3,1837.3 L372.2,1835.8 L374,1832.4 L375.8,1832.9 L377.7,1829.7 L379.6,1828.9 L381.4,1828.2 L383.1,1827.5 L384.6,1824.5 L385.9,1824.1 L387,1821.7 L388.1,1819.4 L389,1817.4 L390,1814.6 L391,1811.2 L391.5,1809.6 L392,1808.8 L392.5,1807.4 L393,1803.3 L393.5,1800.7 L394,1800.3 L394.5,1796.9 L394.9,1794.1 L395.4,1791.2 L395.9,1789.5 L396.4,1787.6 L396.9,1784.5 L397.4,1782.2 L398,1778.9 L398.6,1778.3 L399.1,1773.9 L399.7,1772.4 L400.3,1770.7 L400.8,1766.8 L401.4,1765.8 L402,1764.1 L402.5,1761.2 L403.1,1759.5 L403.7,1756.1 L404.6,1754.1 L405.5,1751.1 L406.4,1750.4 L407.3,1747.2 L408.2,1745.6 L409.2,1745 L410.1,1742.8 L411.4,1740.5 L412.7,1737.1 L414.1,1735 L415.5,1733.4 L417,1730.8 L418.3,1728.5 L419.7,1726.9 L421.1,1724.5 L422.6,1723.3 L424.2,1723 L426,1721.6 L428,1719.9 L430.2,1719.1 L432.5,1718.4 L434.9,1717.4 L437.3,1717 L439.6,1716.7 L441.1,1715.5 L442.6,1712.8 L444.1,1711.9 L445.6,1709.8 L447.2,1707.5 L448.7,1705.3 L450.2,1703.5 L451.7,1700.6 L453.2,1699.5 L454.9,1696.7 L456.5,1695.4 L458.2,1694.2 L459.9,1692.3 L461.5,1689.8 L463.2,1689.6 L465,1687.4 L466.8,1685.8 L468.7,1683 L470.8,1682.6 L472.9,1680.4 L475,1679.9 L477.1,1678.1 L479.1,1677.7 L480.9,1676.4 L482.6,1676.1 L485.3,1674.4 L487.6,1675.3 L489.6,1676.4 L491.7,1678.3 L493,1678.7 L494.3,1681.6 L495.6,1683.7 L496.8,1685.6 L498.1,1688.6 L499.4,1691 L500.7,1692.4 L501.7,1694.4 L502.7,1695.7 L503.7,1699.3 L504.7,1701.7 L505.8,1702.9 L506.8,1705.5 L507.8,1707.6 L508.8,1709.4 L509.8,1709.8 L511.6,1713.4 L513.5,1714.6 L515.3,1716.2 L517.1,1716.9 L518.8,1718.7 L520.9,1721.1 L523,1723.1 L525,1725.1 L526.8,1724.2 L528.3,1724.2 L529.5,1723.9 L530.8,1722 L532.4,1716.6 L532.8,1716.1 L533.3,1714.4 L533.8,1711.2 L534.3,1710.2 L534.8,1707.5 L535.4,1704.9 L535.9,1702.8 L536.5,1700.7 L537,1698 L537.6,1695.5 L538.2,1692.6 L538.7,1691 L539.3,1688.2 L539.9,1686.2 L540.4,1683.7 L541,1680.5 L541.5,1679.7 L542,1675.4 L542.6,1673.9 L543.2,1671.1 L543.7,1668.9 L544.3,1665.7 L544.9,1664.8 L545.4,1661.2 L546,1657.9 L546.6,1656.7 L547.1,1653.2 L547.7,1651.8 L548.2,1649.1 L548.7,1647.5 L549.2,1646.3 L549.6,1644.2 L550.1,1641.6 L550.5,1641 L551.9,1635.9 L553,1632.5 L554,1630.8 L555,1631.5 L556.2,1631.7 L557.4,1633.7 L558.5,1636.4 L559.6,1640.5 L559.8,1641.4 L560,1644.2 L560.2,1644 L560.4,1646 L560.6,1649 L560.8,1651.2 L561,1652.3 L561.2,1655.6 L561.4,1658.5 L561.6,1659.8 L561.7,1662.4 L561.9,1664.5 L562.1,1667.2 L562.3,1671.3 L562.4,1672.7 L562.6,1676.6 L562.8,1679.2 L563,1681.2 L563.1,1682.4 L563.3,1686.1 L563.4,1687.1 L563.5,1689 L563.7,1691 L563.8,1694.6 L563.9,1695.8 L564.1,1697.6 L564.2,1700.3 L564.4,1701.9 L564.5,1705.3 L564.6,1707.3 L564.8,1709.3 L564.9,1712.7 L565,1715.2 L565.2,1715.8 L565.3,1719.3 L565.4,1721.1 L565.6,1724.9 L565.7,1726.9 L565.8,1728.1 L566,1730.4 L566.1,1732.4 L566.3,1736.5 L566.4,1737.1 L566.6,1740.2 L566.7,1742.3 L566.9,1745.2 L567,1747.5 L567.2,1750.3 L567.4,1751.4 L567.5,1755.3 L567.7,1756.8 L567.8,1759.8 L568,1761.8 L568.2,1764.1 L568.3,1767 L568.5,1769.3 L568.7,1771.4 L568.8,1774.5 L569,1776.4 L569.1,1777.4 L569.3,1780 L569.4,1782.5 L569.6,1785.5 L569.7,1787.3 L569.9,1788.4 L570,1788.9 L570.3,1793.9 L570.5,1795.9 L570.7,1798.6 L570.8,1801 L571,1802.7 L571.1,1804.2 L571.3,1807 L571.6,1807.7 L571.8,1809.8 L572.2,1813.2 L572.6,1814.5 L572.9,1816.6 L573.2,1819.8 L573.5,1820.2 L573.9,1824.1 L574.2,1826.1 L574.6,1827.9 L575,1829.9 L575.4,1833.4 L575.8,1836.2 L576.2,1836.9 L576.6,1840.1 L577.1,1842.6 L577.5,1844.9 L578,1846.8 L578.5,1848.7 L579,1851.8 L579.5,1854.3 L580,1854.7 L580.7,1857.6 L581.5,1861.4 L582.3,1863.8 L583.1,1865.8 L584,1866.7 L584.8,1870.5 L585.7,1873.2 L586.6,1875.3 L587.5,1876.6 L588.4,1877 L589.3,1880.6 L590.1,1880.9 L591,1883.5 L592.3,1886.6 L593.6,1888.2 L594.8,1888.7 L596,1890.7 L597.3,1893.6 L598.7,1893.4 L600.3,1895.8 L602,1896.8 L603.7,1897.6 L605.5,1899.9 L607.4,1900 L609.5,1901.4 L611.6,1903.2 L613.7,1903.6 L615.9,1904.6 L618.2,1906.6 L620.4,1907.6 L622.5,1908.4 L624.6,1907 L626.9,1907.8 L629.2,1907.6 L631.5,1908.2 L633.7,1907.9 L636,1908.8 L638.3,1907.5 L640.4,1906.9 L642.5,1908.4 L644.9,1907.6 L647,1909 L649,1909.2 L651,1910.5 L653.1,1910.2 L655.4,1910.9 L657.9,1910.7 L660.9,1911.8 L662.7,1911.5 L664.6,1912.9 L666.6,1912.7 L668.7,1912.3 L670.9,1912.9 L673.2,1913.6 L675.5,1914.8 L677.8,1913.9 L680.2,1915.5 L682.6,1915.7 L684.9,1914.7 L687.3,1916.3 L689.6,1915.2 L691.8,1915.4 L694,1916.5 L696.4,1915.7 L698.8,1917 L701.4,1915.9 L704,1915.4 L706.6,1916.1 L709.2,1914.1 L711.7,1915.2 L714.2,1913.4 L716.5,1913.2 L718.7,1914.6 L720.7,1913.7 L722.5,1912.4 L724,1911.9 L725.3,1913.6" fill="none" stroke="#a51c1c" stroke-width="4.8" stroke-linejoin="round" stroke-linecap="round"/>
<path d="M750.2,1913.6 L751.7,1913.6 L753.6,1912.7 L756,1912.2 L758.6,1911.5 L761.4,1913.2 L764.2,1912.7 L767,1913.3 L769.7,1912.1 L772,1912.8 L774,1911.1 L776.6,1911.4 L778.8,1909.9 L780.6,1907.4 L782.2,1906 L783.8,1904.7 L785.3,1901.8 L787.1,1900.7 L788.6,1899 L790,1895.4 L791.5,1895.2 L793.2,1894.1 L795.1,1894.8 L797.2,1894.6 L799.3,1895.6 L801.4,1899.4 L803.4,1901.2 L804.9,1901.9 L806.2,1902.8 L807.4,1905 L808.8,1908 L810.4,1908.8 L812.4,1911.8 L814.2,1911.5 L816.2,1911.1 L818.4,1912.7 L820.7,1912.3 L823.1,1913.9 L825.5,1914 L828,1912.9 L830.5,1913.2 L832.8,1913.1 L835.3,1913.1 L837.9,1913.2 L840.6,1910.3 L843.2,1910.7 L845.7,1910.7 L848.1,1909.3 L850.2,1909.3 L852,1907.2 L854.4,1908 L856.2,1905.9 L857.4,1903.3 L858.4,1902.4 L859.6,1898.2 L860.1,1896.2 L860.6,1894.8 L861,1891.5 L861.4,1889.1 L861.9,1888.1 L862.3,1884.8 L862.7,1880.2 L863,1879.5 L863.4,1874.9 L863.8,1873.3 L864.2,1872.8 L864.5,1870.3 L864.9,1868.3 L867.1,1867.7 L869.2,1872.8 L869.7,1873.7 L870.3,1877.8 L870.8,1877.4 L871.3,1880.6 L871.8,1883.9 L872.4,1885.4 L872.9,1889.2 L873.5,1889.5 L874.1,1893.7 L874.6,1895.9 L875.1,1897.8 L875.7,1900.8 L876.3,1901.9 L877,1905 L877.8,1906.7 L878.8,1907.3 L880.7,1908.4 L882.9,1909.3 L885.3,1908.3 L887.8,1907.2 L890.5,1908.9 L892.5,1908 L894.4,1909 L896.3,1910.3 L898.7,1909.1 L901.6,1909.1 L905.5,1909.5 L907.1,1910.8 L908.9,1910.2 L910.8,1909.9 L912.9,1910.4 L915,1911.6 L917.2,1909.7 L919.5,1910.1 L921.9,1911.2 L924.3,1910.4 L926.8,1909.5 L929.2,1909.9 L931.7,1909.8 L934.1,1908.8 L936.6,1909.3 L939,1909 L941.3,1910.2 L943.6,1908.8 L945.9,1909.6 L948.2,1910.3 L950.7,1910 L953.1,1908.4 L955.6,1908.9 L958.1,1908 L960.6,1908 L963.1,1908.1 L965.5,1908.7 L967.9,1908.9 L970.2,1907 L972.4,1906.1 L974.6,1907.1 L976.6,1905.9 L978.5,1905.7 L980.2,1907.5 L981.8,1905.7 L986,1907.1 L988.9,1906.1 L990.9,1907.6 L992.6,1907.1 L994.6,1904.4 L996.5,1903.7 L998.2,1904.5 L999.9,1902.3 L1001.5,1900.1 L1003.1,1899.3 L1004.7,1897.3 L1005.9,1894.9 L1007,1893.4 L1008.2,1890.9 L1009.3,1890 L1010.4,1887.5 L1011.5,1886.4 L1012.6,1883.6 L1013.7,1879.1 L1014.2,1878.7 L1014.6,1875.5 L1015.1,1873.6 L1015.6,1872.9 L1016.1,1870.2 L1016.6,1869 L1017,1865.9 L1017.5,1863.6 L1018,1859.7 L1018.5,1859 L1018.9,1854.5 L1019.4,1853.4 L1019.9,1851.8 L1020.4,1849.4 L1020.8,1847 L1021.3,1843.7 L1021.8,1842.2 L1022.2,1840.5 L1022.7,1837.1 L1023.6,1836.1 L1024.4,1833.3 L1025.3,1829.7 L1026.1,1828.4 L1027,1825.5 L1027.8,1823.1 L1028.7,1822.3 L1029.5,1818.6 L1030.3,1818.5 L1031.2,1816.7 L1032,1812.6 L1032.8,1811.7 L1033.6,1806.6 L1034.4,1805.7 L1035.2,1801.3 L1036,1800.3 L1036.8,1796.5 L1037.6,1795.7 L1038.4,1791.8 L1039.1,1791.1 L1039.8,1792.8 L1040.4,1792.9 L1040.9,1793.8 L1041.5,1794.1 L1042,1796.5 L1042.5,1799.4 L1043.1,1801.2 L1043.5,1806.4 L1044,1808.8 L1044.5,1812.3 L1044.9,1814.6 L1045.4,1816.5 L1045.8,1818.4 L1046.2,1822.5 L1046.6,1823.3 L1047,1826.7 L1047.3,1828.8 L1047.6,1831.2 L1047.8,1832.3 L1048.1,1834.6 L1048.4,1838 L1048.6,1839 L1048.9,1842.7 L1049.2,1844.1 L1049.6,1846.9 L1050,1849.1 L1050.3,1852.3 L1050.7,1854.1 L1051,1856 L1051.4,1858.3 L1051.7,1861.7 L1052.1,1865 L1052.4,1866.2 L1052.8,1868 L1053.3,1870.8 L1053.7,1873 L1054.2,1876.1 L1054.7,1878.9 L1055.2,1880.4 L1055.8,1881.4 L1056.4,1883.5 L1057.4,1886.2 L1058.6,1888.7 L1059.9,1890.7 L1061.2,1894.2 L1062.6,1894.9 L1064,1896.8 L1065.4,1898.5 L1066.7,1899.8 L1068,1901.5 L1069.1,1901.7 L1071.4,1905.2 L1073.3,1908.1 L1075.3,1907.3 L1078,1908.7 L1079.8,1907.6 L1081.8,1905.8 L1084,1904.4 L1086.3,1904.7 L1088.6,1901.5 L1090.8,1901.6 L1092.8,1899 L1094.6,1899.2 L1097.1,1898.8 L1098.8,1901.8 L1100.7,1904.4 L1103.5,1903.9 L1105.3,1904.8 L1107.5,1905.6 L1109.9,1903.8 L1112.4,1904 L1115,1904.2 L1117.5,1904 L1119.9,1901.6 L1122,1902 L1123.8,1899.7 L1125.6,1898.2 L1126.9,1898.7 L1128,1894.2 L1128.9,1894.3 L1129.7,1891.6 L1130.5,1889.2 L1131.5,1887.3 L1132.6,1885.2 L1133.6,1882.4 L1134.7,1881 L1135.8,1878.5 L1136.8,1878.3 L1137.9,1875.9 L1139.1,1873.4 L1139.9,1870.1 L1140.7,1868.8 L1141.5,1865.4 L1142.3,1864.2 L1143.1,1861.4 L1144,1859.5 L1144.8,1856.3 L1145.6,1854.1 L1146.4,1852.6 L1147.2,1849.6 L1148,1850.2 L1149,1849 L1150.1,1851 L1151.1,1852.2 L1152.1,1856.8 L1153.1,1857.2 L1154,1862.4 L1154.9,1865.2 L1155.7,1866.2 L1156.4,1869.5 L1156.9,1869.9 L1157.3,1872.7 L1157.6,1874.9 L1158.1,1877.5 L1158.7,1879.5 L1159.5,1883.6 L1160.7,1883.1 L1162.5,1885.5 L1164.7,1885.3 L1167.2,1885.1 L1169.8,1885.8 L1172.5,1885.1 L1175,1887.4 L1177.3,1886.4 L1179.3,1887.9 L1181.2,1888.9 L1183,1890.3 L1184.8,1891.3 L1186.5,1892.2 L1188.2,1893.3 L1190,1896.6 L1191.8,1896.3 L1193.5,1898.5 L1195.2,1901.1 L1196.9,1902.1 L1198.7,1904.6 L1200.6,1905.5 L1202.7,1905.8 L1204.9,1905.6 L1207.1,1907.3 L1209.4,1907.4 L1211.8,1908.6 L1214.3,1907.9 L1217.1,1908.5 L1220,1909 L1222,1908.3 L1224.3,1909.3 L1226.6,1909.6 L1229,1907.7 L1231.5,1909.8 L1234,1909.7 L1236.5,1909.8 L1238.9,1908.5 L1241.3,1908.3 L1243.5,1908.1 L1245.5,1908.8 L1248.3,1910.2 L1250.9,1909.1 L1253.3,1908.3 L1255.5,1909.3 L1257.7,1908.8 L1260,1910.3 L1262.4,1910.6 L1264.7,1910.9 L1267.1,1908.6 L1269.7,1909.2 L1272.2,1908.3 L1274.6,1910.1 L1277,1909.5 L1279.2,1908.1 L1281.1,1908.6 L1283.3,1906.1 L1285.1,1904.9 L1286.6,1902.1 L1288.1,1899.8 L1289.6,1900 L1291.3,1898.9 L1293.2,1898.7 L1295.1,1900.8 L1297.2,1902.1 L1299.2,1904.2 L1301.2,1903.5 L1303.2,1903.8 L1304.7,1903 L1306.2,1903 L1307.8,1901.5 L1309.3,1898 L1310.8,1896.8 L1312.3,1893.7 L1313.7,1893.2 L1315,1891.9 L1316.9,1888 L1318.6,1888.4 L1320.3,1886 L1321.9,1883.3 L1323.5,1883.2 L1325.7,1882.9 L1327.9,1885.6 L1330,1887.5 L1332,1886.2 L1334.4,1885 L1336.6,1884.2 L1338.8,1884.5 L1339.7,1885.4 L1340.4,1886.6 L1341.1,1888.1 L1342.1,1891.8 L1343.5,1893.7 L1345.6,1896.3 L1347.3,1896.4 L1349.3,1897.4 L1351.6,1898.5 L1354.1,1897.9 L1356.7,1899 L1359.3,1897.6 L1362,1897.2 L1364.6,1899.8 L1367.1,1898 L1369.4,1901 L1371.8,1900.3 L1374.1,1900.1 L1376.4,1901.6 L1378.7,1903.8 L1380.9,1903.8 L1383.1,1905.3 L1385.2,1904.7 L1387.5,1907.1 L1389.7,1906.2 L1392,1907.3 L1394.3,1905.1 L1396.6,1905.7 L1398.9,1904.4 L1401.3,1903.4 L1403.5,1901.5 L1405.8,1902.2 L1408,1902.5 L1410.1,1900.4 L1412.4,1901.5 L1414.7,1901 L1416.9,1904.4 L1419,1905.3 L1421.1,1905.5 L1423.2,1905.8 L1425.2,1905.2 L1427.1,1905.5 L1429.6,1906.5 L1431.9,1905.7 L1434.1,1904.8 L1436.2,1903 L1438.4,1900.5 L1440.6,1899.1 L1442.9,1899.2 L1445.1,1898.4 L1447.3,1898.7 L1449.6,1899.5 L1451.9,1898.2 L1454.2,1899.3 L1456.5,1898.1 L1458.8,1895.8 L1461,1897.1 L1463.4,1896.3 L1465.9,1895.7 L1468.6,1893.7 L1470.9,1895.8 L1473.3,1894.8 L1476,1894.9 L1478.6,1893.9 L1481.3,1893.6 L1483.7,1893.5 L1485.9,1893.9 L1487.8,1893.9 L1491,1892.1 L1492.8,1890 L1495.2,1890.7 L1497.3,1890.6 L1499.5,1891.2 L1502,1890 L1504.5,1892 L1507,1892.5 L1509.1,1892.2 L1511.2,1895.5 L1513.4,1895.6 L1515.7,1896.6 L1517.9,1898 L1520.2,1901.1 L1522.5,1900.2 L1524.7,1901.5 L1527,1902.6 L1529.4,1902.9 L1532,1904.5 L1534.7,1903.9 L1536.6,1905.6 L1538.6,1906.9 L1540.6,1907.9 L1542.7,1908.9 L1544.9,1909 L1547.1,1910.9 L1549.5,1912.6 L1552,1911.9 L1554.6,1912.8 L1556.5,1913.4 L1558.6,1912 L1560.7,1911.9 L1562.9,1913.7 L1565.1,1911.7 L1567.4,1911.8 L1569.8,1911.4 L1572.1,1912.8 L1574.4,1911.4 L1576.7,1912 L1578.9,1909.9 L1581.1,1910 L1583.2,1910.9 L1585.5,1909.9 L1587.7,1910.7 L1589.8,1910.3 L1591.8,1909.1 L1593.8,1909.1 L1595.8,1909.9 L1597.9,1910.2 L1600.1,1909.3 L1602.5,1909.6 L1605.1,1909 L1608,1909.9 L1609.8,1910.1 L1611.8,1910.5 L1613.8,1911.3 L1615.9,1912.2 L1618.2,1912.1 L1620.4,1912.5 L1622.8,1911.6 L1625.2,1912.4 L1627.6,1913.3 L1630,1914.1 L1632.4,1912.7 L1634.8,1912.4 L1637.1,1912.8 L1639.5,1914.3 L1641.7,1915.5 L1643.9,1913.9 L1646.1,1915.7 L1648.1,1915.5 L1650,1916.2 L1652.7,1916.5 L1655.2,1914.6 L1657.6,1916.4 L1659.9,1914.8 L1662.1,1914.7 L1664.3,1915.5 L1666.4,1915.7 L1668.5,1914.5 L1670.5,1915 L1672.5,1914.7 L1674.6,1914.5 L1676.6,1914.3 L1678.7,1914.1 L1681.3,1914.5 L1683.9,1914.6 L1686.6,1914.7 L1689.4,1915.2 L1692.1,1914.7 L1694.7,1914.2 L1697.1,1913.6 L1699.4,1914.1 L1701.4,1912.9 L1703.1,1912.7 L1704.5,1912.4" fill="none" stroke="#a51c1c" stroke-width="4.8" stroke-linejoin="round" stroke-linecap="round"/>
<path d="M218,1974.5 C219.9,1974 225.6,1973.2 229.7,1971.3 C233.8,1969.3 238.6,1967.4 242.5,1962.8 C246.4,1958.2 250.3,1952.5 253.1,1943.7 C255.9,1934.9 257.3,1921.7 259.4,1909.7 C261.5,1897.7 263.5,1884.3 265.8,1871.6 C268.1,1858.9 271.2,1840.1 273.2,1833.4 C275.1,1826.7 275.9,1828.4 277.5,1831.2 C279.1,1834 280.9,1841.5 282.8,1850.3 C284.7,1859.1 286.6,1872.6 289.1,1884.3 C291.6,1896 294.8,1911.2 297.6,1920.4 C300.4,1929.6 303.5,1935.7 306.1,1939.4 C308.8,1943.1 310.7,1943.3 313.5,1942.6 C316.3,1941.9 319.4,1939.6 323.1,1935.2 C326.8,1930.8 331.6,1923.2 335.8,1916.1 C340,1909 344.2,1899.9 348.5,1892.8 C352.8,1885.7 357.8,1877.6 361.3,1873.7 C364.9,1869.8 366.6,1869.8 369.8,1869.4 C373,1869.1 377.6,1872.3 380.4,1871.6 C383.2,1870.9 384.9,1868.8 386.7,1865.2 C388.5,1861.7 389.6,1858.8 391,1850.3 C392.4,1841.8 393.1,1825.6 395.2,1814.3 C397.3,1803 400.5,1791.6 403.7,1782.4 C406.9,1773.2 411.5,1762.3 414.3,1759.1 C417.1,1755.9 418.2,1760.5 420.7,1763.3 C423.2,1766.1 426.4,1772 429.2,1776.1 C432,1780.2 434.2,1785.6 437.7,1787.7 C441.2,1789.8 444.8,1788.3 450.4,1788.8 C456,1789.3 466.3,1788.8 471.6,1790.9 C476.9,1793 478.7,1797.6 482.2,1801.5 C485.7,1805.4 489.6,1811.5 492.8,1814.3 C496,1817.1 498.5,1818.9 501.3,1818.5 C504.1,1818.1 507.5,1812.8 509.8,1812.1 C512.1,1811.3 513.4,1812.9 515,1814 C516.6,1815.1 516.8,1814 519.3,1818.8 C521.8,1823.6 526.9,1839.7 530.3,1842.8 C533.7,1845.9 536.1,1839.3 539.5,1837.2 C542.9,1835.1 547.8,1830.5 550.6,1829.9 C553.4,1829.3 554,1828.1 556.1,1833.6 C558.2,1839.1 561.2,1852 563.4,1863 C565.5,1874 566.2,1887.8 569,1899.8 C571.8,1911.8 575.4,1925.5 580,1934.7 C584.6,1943.9 590.7,1949.5 596.5,1955 C602.3,1960.5 608.1,1964.4 614.9,1967.8 C621.6,1971.2 629.3,1973.5 637,1975.2 C644.7,1976.9 653.9,1977.5 660.9,1977.9 C667.9,1978.4 673.2,1977.4 679.3,1977.9 C685.4,1978.4 690,1979.8 697.7,1980.7 C705.4,1981.6 720.7,1983 725.3,1983.4" fill="none" stroke="#ff1cff" stroke-width="4.8" stroke-linejoin="round" stroke-linecap="round"/>
<path d="M750.2,1984.9 L751.8,1985.5 L754,1984.3 L756.7,1984.7 L759.6,1983.7 L762.6,1983.8 L764.8,1984.7 L767.3,1984.1 L769.9,1984.9 L772.5,1985 L775,1985.3 L777.4,1985.4 L779.6,1984.9 L782.2,1985.1 L784.6,1983.6 L786.7,1982.8 L788.8,1981.1 L790.9,1979.3 L792.1,1977.9 L793.3,1976.4 L794.5,1973.4 L795.8,1970.6 L796.9,1968.2 L798.1,1966.6 L799.2,1963.5 L800.2,1962.6 L801.1,1961.4 L802.8,1961.8 L804.2,1963.6 L805.5,1966.9 L806.8,1969.4 L808.1,1971.9 L809.4,1974.6 L810.8,1976.6 L812.4,1978 L814.3,1979.4 L816.4,1981.6 L818.7,1982 L821.5,1982.1 L823.7,1982.9 L826.2,1982.4 L828.9,1982.2 L831.5,1981.8 L834,1980.4 L836.2,1979.4 L838.1,1978.7 L839.8,1976.4 L841.3,1975.3 L842.7,1972.6 L844,1971 L845.2,1968.5 L845.9,1967 L846.5,1965 L847.1,1962.7 L847.6,1960.3 L848.1,1958 L848.5,1956.1 L848.9,1953.5 L849.4,1950.3 L849.8,1948.3 L850.1,1946.1 L850.3,1944.4 L850.6,1942 L850.8,1940 L851.1,1937.8 L851.3,1936.1 L851.5,1933.8 L851.7,1931.8 L852,1929.5 L852.2,1927.6 L852.4,1925.2 L852.6,1921.8 L852.8,1919.4 L853,1916.4 L853.2,1914.1 L853.3,1912.6 L853.4,1909.8 L853.6,1908.5 L853.7,1906 L853.8,1903.7 L853.9,1902.5 L854,1899.9 L854.1,1897.6 L854.2,1895.8 L854.3,1893.4 L854.4,1891.4 L854.5,1889.1 L854.6,1886.8 L854.7,1884.7 L854.8,1882 L854.9,1879.5 L855,1877 L855.1,1874.6 L855.1,1872.6 L855.2,1870 L855.3,1868 L855.4,1865.1 L855.5,1862.8 L855.6,1860.5 L855.7,1857.5 L855.7,1855.4 L855.8,1853.4 L855.9,1851.6 L855.9,1849.6 L856,1847.6 L856.1,1845 L856.1,1843.4 L856.2,1840.1 L856.2,1838.7 L856.3,1835.7 L856.4,1834.1 L856.4,1830.9 L856.5,1829.6 L856.5,1827 L856.6,1824.9 L856.7,1822.1 L856.7,1819.3 L856.8,1817.8 L856.8,1814.8 L856.9,1812.1 L857,1810.3 L857,1807.9 L857.1,1805.6 L857.2,1802.9 L857.2,1800.6 L857.3,1798.9 L857.4,1796.5 L857.4,1793.9 L857.5,1792.1 L857.6,1790.2 L857.7,1787.9 L857.8,1785.2 L857.9,1782.6 L858,1780.1 L858.1,1777.4 L858.2,1774.8 L858.2,1772.5 L858.3,1769.6 L858.4,1767.7 L858.5,1765.1 L858.6,1762.4 L858.7,1759.3 L858.9,1757.2 L859,1754.8 L859.1,1752 L859.2,1750.6 L859.3,1748 L859.4,1745.5 L859.5,1743.5 L859.6,1740.9 L859.7,1738.9 L859.9,1737.3 L860,1735.7 L860.1,1733.8 L860.2,1731.5 L860.3,1730.7 L860.5,1729.6 L860.6,1728.2 L862.7,1720.5 L864.9,1724.1 L865.2,1724.4 L865.5,1725.7 L865.7,1727.5 L866,1729.6 L866.2,1730.8 L866.5,1733.5 L866.7,1735.7 L866.9,1737.8 L867.2,1740.6 L867.4,1743.9 L867.6,1746.9 L867.9,1749.7 L868.1,1753.9 L868.2,1754.8 L868.3,1756.7 L868.4,1759.2 L868.5,1761 L868.6,1762.3 L868.7,1764.3 L868.8,1766.8 L868.9,1769.2 L869,1771.2 L869.1,1773.7 L869.2,1775.7 L869.3,1778.1 L869.4,1780.2 L869.5,1782.3 L869.6,1784.8 L869.7,1787.3 L869.8,1789.7 L869.9,1792.5 L870,1794.3 L870.1,1796.5 L870.2,1799.6 L870.3,1801.5 L870.4,1804.1 L870.5,1806.1 L870.5,1809.2 L870.6,1810.9 L870.7,1813.2 L870.8,1816 L870.9,1817.9 L871,1819.8 L871.1,1822.8 L871.2,1824.6 L871.3,1826.9 L871.4,1829.9 L871.4,1832 L871.5,1834.3 L871.6,1836.1 L871.7,1839.1 L871.7,1841.1 L871.8,1843.7 L871.9,1845.5 L872,1848.2 L872,1850.5 L872.1,1852.3 L872.2,1854.9 L872.3,1857.2 L872.4,1859.7 L872.4,1861.8 L872.5,1863.8 L872.6,1865.3 L872.7,1867.9 L872.8,1870.1 L873,1871.5 L873.1,1874 L873.2,1876.4 L873.4,1878.5 L873.5,1880.5 L873.7,1882.2 L873.9,1885.3 L874.2,1888.1 L874.4,1890.3 L874.7,1892.4 L875,1894.4 L875.3,1897.8 L875.6,1900 L875.9,1902.1 L876.2,1904 L876.5,1906.7 L876.8,1908.9 L877.1,1911 L877.4,1913 L877.7,1914.8 L878,1916.8 L878.3,1919 L878.6,1921 L878.9,1923.3 L879.2,1924.9 L879.6,1928.1 L879.9,1930.3 L880.2,1932.6 L880.6,1935.3 L880.9,1938 L881.3,1940.6 L881.6,1943.4 L881.9,1945.1 L882.3,1947.6 L882.6,1949.9 L883,1952 L883.3,1954.7 L883.7,1956 L884,1957.7 L884.4,1960 L884.8,1961.8 L886.1,1965.8 L887.4,1968.1 L888.7,1969.6 L890.1,1971.6 L891.6,1973.1 L893.5,1974.9 L895.5,1976.9 L897.6,1978.9 L900,1980.1 L901.8,1980.6 L903.5,1979.9 L905.5,1980 L908.1,1980.2 L911.8,1980.2 L913.5,1981.1 L915.4,1980.6 L917.5,1981.8 L919.8,1981.8 L922.2,1982.2 L924.7,1982.4 L927.2,1983.3 L929.8,1983.3 L932.4,1984.1 L934.9,1984.4 L937.3,1984.5 L939.5,1985.1 L941.7,1984.8 L943.6,1984.9 L946.5,1985.6 L949,1985.4 L951.2,1985.3 L953.3,1985.7 L955.3,1985.5 L957.5,1985 L959.9,1985.6 L962.7,1985 L964.7,1985.3 L966.8,1984.6 L969.1,1984.9 L971.5,1983.9 L974,1983.5 L976.5,1983.6 L979,1983.5 L981.5,1983.2 L983.9,1982.6 L986.2,1981.6 L988.3,1981.5 L990.3,1980.6 L992,1980.5 L994.7,1980.1 L996.9,1978.3 L998.7,1977.5 L1000.3,1976.2 L1001.7,1974.3 L1003.2,1973.4 L1004.7,1971.2 L1006.3,1969.9 L1007.9,1968.9 L1009.5,1966.9 L1011,1966.2 L1012.4,1963.7 L1013.7,1961.7 L1014.9,1959.4 L1015.5,1956.7 L1016,1955.6 L1016.5,1952.4 L1016.9,1950.6 L1017.3,1948.3 L1017.7,1946.1 L1018,1942.9 L1018.4,1941 L1018.8,1938.1 L1019.1,1935.5 L1019.5,1932.8 L1020,1930.7 L1020.6,1928.3 L1021.2,1925.7 L1021.8,1923.1 L1022.5,1921 L1023.1,1918 L1023.8,1915.9 L1024.4,1913 L1025.1,1911.1 L1025.8,1909.8 L1026.4,1908.4 L1028,1904.8 L1029.6,1902.8 L1031.2,1902 L1032.7,1901.4 L1035.7,1900.8 L1038.5,1903.1 L1039.2,1904.2 L1039.8,1906.3 L1040.4,1908.5 L1040.9,1910.8 L1041.5,1913.2 L1042.2,1915.7 L1042.9,1917.9 L1043.5,1920.5 L1044.1,1921.9 L1044.7,1924.7 L1045.3,1926.4 L1046,1928.8 L1046.7,1931 L1047.4,1933.4 L1048,1935.4 L1048.7,1937.9 L1049.3,1940.3 L1049.9,1942.1 L1050.5,1944.6 L1051,1946.8 L1051.6,1949.1 L1052.1,1951.3 L1052.7,1953.8 L1053.2,1956.2 L1053.8,1957.7 L1054.4,1959.6 L1055.1,1962.2 L1056.3,1964.2 L1057.5,1967.6 L1058.8,1970 L1060.1,1971.5 L1061.4,1973.6 L1062.7,1974.3 L1065.1,1974.9 L1067.5,1972.3 L1070.4,1971.6 L1072.1,1972.2 L1074,1974.3 L1076,1975.3 L1078.1,1977 L1080.5,1979.2 L1083.1,1980 L1085,1980.5 L1087.2,1980.7 L1089.4,1981.2 L1091.8,1980.8 L1094.2,1981.9 L1096.6,1981.5 L1099,1982.1 L1101.3,1981.6 L1103.5,1982.1 L1105.9,1980.9 L1108.2,1981.6 L1110.5,1980.3 L1112.7,1980.3 L1114.9,1979.6 L1117.1,1979.5 L1119.2,1978.3 L1121.3,1977.6 L1123.1,1976.5 L1125,1974.8 L1126.8,1973.3 L1128.6,1971.9 L1130.3,1971.1 L1132,1969.8 L1133.6,1967.9 L1135.1,1965.9 L1136.6,1964.5 L1137.9,1962.7 L1139.2,1960.3 L1140.3,1958.6 L1141.4,1955.8 L1142.4,1953.4 L1143.4,1951.3 L1144.5,1949.8 L1145.5,1948.3 L1146.7,1946.3 L1149,1944.8 L1151.4,1944.2 L1153.8,1943.2 L1156.1,1942.8 L1158.2,1941.6 L1159.7,1939.9 L1161.2,1938.1 L1162.5,1936.9 L1163.7,1934.8 L1164.8,1931.6 L1165.8,1929 L1166.2,1927.1 L1166.6,1925.4 L1166.9,1923.2 L1167.2,1920.7 L1167.5,1918.6 L1167.8,1915.8 L1168,1913.6 L1168.3,1910.5 L1168.5,1908.2 L1168.8,1905.8 L1169.1,1903.6 L1169.4,1900.9 L1169.7,1898.6 L1170,1896.4 L1170.3,1894.2 L1170.6,1891.4 L1171,1888.9 L1171.3,1886.1 L1171.6,1883.3 L1172,1881.4 L1172.3,1878.7 L1172.6,1875.8 L1173,1873.6 L1173.3,1871.4 L1173.7,1870 L1174,1868 L1174.4,1866.1 L1174.7,1865.3 L1177.2,1861.1 L1179.8,1863.5 L1180.3,1864.9 L1180.8,1866.9 L1181.3,1867.7 L1181.8,1869.7 L1182.3,1872.3 L1182.8,1874.9 L1183.3,1877.5 L1183.8,1879.6 L1184.3,1882.9 L1184.9,1885.1 L1185.2,1887.2 L1185.6,1889.6 L1185.9,1891.5 L1186.3,1893.3 L1186.7,1895.7 L1187,1897.8 L1187.4,1900.2 L1187.8,1902.9 L1188.1,1905.4 L1188.5,1906.9 L1188.9,1909.9 L1189.3,1912.6 L1189.7,1914.6 L1190.1,1916.8 L1190.5,1919 L1190.9,1921.4 L1191.3,1923.7 L1191.7,1926.1 L1192.2,1927.9 L1192.6,1931.3 L1193.1,1932.9 L1193.5,1935.7 L1193.9,1937.7 L1194.4,1940.6 L1194.9,1942.4 L1195.3,1945 L1195.8,1947.4 L1196.3,1949.5 L1196.8,1951.9 L1197.3,1953.5 L1197.8,1955.8 L1198.4,1958 L1198.9,1959.4 L1200,1962.8 L1201,1965.3 L1202.1,1966.9 L1203.2,1968.8 L1204.4,1970.7 L1205.7,1972.3 L1207.3,1973.3 L1209.1,1974.8 L1210.9,1975.9 L1212.8,1976.7 L1214.8,1977.6 L1217,1978.2 L1219.3,1979 L1221.8,1979.6 L1224.4,1980.4 L1227.1,1980.1 L1230,1980.5 L1232,1981.6 L1234.2,1981.3 L1236.4,1981.6 L1238.8,1981.9 L1241.3,1981.7 L1243.8,1981.5 L1246.3,1981.9 L1248.9,1981.5 L1251.4,1981.2 L1253.8,1980.9 L1256.2,1980.8 L1258.5,1981.4 L1260.7,1981.5 L1262.7,1980.8 L1265.6,1981 L1268.4,1981.2 L1271.1,1981.1 L1273.6,1980.8 L1275.9,1981.4 L1278.2,1980.9 L1280.3,1980.9 L1282.3,1980.6 L1284.1,1979.8 L1286.5,1979 L1288.4,1976.8 L1290.1,1975.4 L1291.6,1973.8 L1293.1,1972.3 L1294.7,1971.1 L1297.4,1970.8 L1300,1971.5 L1302.7,1972.5 L1305.4,1973.2 L1307.9,1973.5 L1310.2,1973.4 L1312.8,1973.1 L1316.1,1972.3 L1318.1,1972.3 L1320.5,1971 L1323,1970.8 L1325.6,1969.9 L1328.2,1969.8 L1330.8,1969.5 L1333.1,1969.2 L1335.3,1969.1 L1337.7,1969.7 L1339.7,1970.9 L1341.6,1972.1 L1343.4,1973.6 L1345.5,1975.1 L1348.1,1975.7 L1349.9,1975 L1352,1975.5 L1354.2,1973.9 L1356.5,1973.3 L1358.8,1972.8 L1361.1,1971.9 L1363.4,1971.3 L1365.6,1970.9 L1367.7,1970.5 L1369.5,1970.6 L1372.1,1970.9 L1374.2,1972.3 L1376.2,1973.6 L1378,1975 L1380,1976.4 L1382.3,1977.5 L1384.6,1978.3 L1387.1,1978.7 L1389.7,1979.4 L1392.3,1979.7 L1394.9,1979.9 L1397.3,1978.5 L1399.4,1978.3 L1400.7,1975.9 L1401.9,1975.1 L1402.9,1972.9 L1403.9,1969.7 L1404.8,1967.5 L1405.8,1964.7 L1406.7,1962.4 L1407.7,1960.9 L1408.8,1959.6 L1410,1958.3 L1411.4,1958.5 L1412.9,1960.6 L1414.5,1962.3 L1416.1,1965.1 L1417.7,1966.9 L1419.4,1970.1 L1421.2,1971.4 L1423.1,1972.7 L1425,1973.3 L1426.6,1973.5 L1428.2,1972 L1430,1970.6 L1431.9,1968.7 L1433.8,1966.4 L1435.7,1964.7 L1437.6,1962.7 L1439.4,1960.4 L1441.2,1959 L1442.8,1957 L1444.3,1956.6 L1445.7,1955.9 L1447.9,1955.5 L1449.7,1956.1 L1451.1,1958.5 L1452.4,1960.9 L1453.7,1963.2 L1455.3,1964.8 L1457.1,1966.7 L1458.8,1968.6 L1460.6,1969.9 L1462.5,1970.7 L1464.6,1972.6 L1466.7,1973.6 L1468.7,1974.3 L1471,1975.4 L1473.4,1974.9 L1475.8,1975.3 L1478.1,1976.2 L1480.2,1975.4 L1482,1975 L1484,1974.6 L1485.7,1972.4 L1487.1,1970.7 L1488.3,1968.1 L1489.6,1965.1 L1490.3,1962.8 L1491,1960.2 L1491.7,1958.6 L1492.3,1955.8 L1492.9,1953.3 L1493.5,1950.4 L1494.2,1948 L1494.8,1946.9 L1495.4,1945.7 L1496.5,1945.5 L1497.6,1946.9 L1498.7,1949.7 L1499.8,1952.3 L1501.1,1955.1 L1502.1,1957.8 L1503,1959.9 L1504,1962.1 L1505.1,1964 L1506.2,1966.6 L1507.4,1968.2 L1508.7,1970.8 L1510.1,1973.3 L1511.6,1975.3 L1513.2,1977.6 L1514.8,1979.3 L1516.5,1980.8 L1518.3,1982.1 L1520.2,1983.7 L1522.2,1985.3 L1524.2,1985.7 L1526.3,1986.3 L1528.5,1986.7 L1530.7,1986.4 L1533.1,1986.3 L1535.5,1987.3 L1537.7,1987.1 L1540,1986.5 L1542.4,1987.2 L1544.8,1987.1 L1547.3,1987.1 L1549.7,1986.4 L1552.2,1986.5 L1554.6,1987.1 L1557,1987.4 L1559.4,1987.4 L1561.8,1988.6 L1564.1,1988.4 L1566.5,1989.5 L1568.9,1989.1 L1571.3,1989.6 L1573.7,1990.2 L1576.1,1989.7 L1578.5,1989.3 L1580.9,1988.9 L1583.2,1988 L1585.6,1987.1 L1588,1986.7 L1590.4,1985.7 L1592.8,1985.5 L1595.2,1984.6 L1597.7,1983.1 L1600.1,1982.7 L1602.6,1982.6 L1605,1981.1 L1607.4,1980.4 L1609.7,1980.6 L1611.9,1980.4 L1614.6,1980.6 L1617.1,1980.7 L1619.5,1980.6 L1621.9,1981.2 L1624.4,1981.5 L1627.1,1982.5 L1629.1,1982.8 L1631.1,1982.8 L1633.2,1984 L1635.4,1984.1 L1637.6,1985.1 L1639.8,1985.9 L1642,1987.2 L1644.1,1987 L1646.2,1987.7 L1648.7,1988.4 L1651,1988.4 L1653.3,1989.1 L1655.6,1989.2 L1658,1989.9 L1660.6,1990 L1663.4,1989.8 L1665.4,1990 L1667.6,1989.5 L1669.8,1989.6 L1672.2,1988.7 L1674.6,1988.7 L1677.1,1988.4 L1679.5,1988.7 L1681.8,1987.9 L1684.1,1987.5 L1686.2,1987.4 L1688.2,1987.4 L1691.1,1986.6 L1694,1985.9 L1696.6,1984.9 L1699.1,1984.3 L1701.3,1983.2 L1703.1,1982.4 L1704.5,1981.9" fill="none" stroke="#ff1cff" stroke-width="4.8" stroke-linejoin="round" stroke-linecap="round"/>
<path d="M218,2045.5 C219.9,2045 225.6,2044.2 229.7,2042.4 C233.8,2040.6 238.6,2039.3 242.5,2034.9 C246.4,2030.5 249.9,2023.2 253.1,2015.8 C256.3,2008.4 258.8,1999.2 261.6,1990.4 C264.4,1981.6 267.5,1969.7 270,1962.8 C272.5,1955.9 274.3,1950.1 276.4,1949 C278.5,1947.9 280.3,1951.6 282.8,1956.4 C285.3,1961.2 288.1,1969.5 291.3,1977.6 C294.5,1985.7 298.4,1998.5 301.9,2005.2 C305.4,2011.9 309,2016 312.5,2018 C316,2020 319.2,2019 323.1,2016.9 C327,2014.8 331.6,2010.7 335.8,2005.2 C340,1999.7 344.2,1991.8 348.5,1984 C352.8,1976.2 357.4,1964.9 361.3,1958.5 C365.2,1952.1 368,1949.1 371.9,1945.8 C375.8,1942.5 381.1,1942.3 384.6,1938.4 C388.1,1934.5 390.6,1930.1 393.1,1922.5 C395.6,1914.9 397,1902.7 399.5,1892.8 C402,1882.9 405.2,1870.9 408,1863.1 C410.8,1855.3 413.6,1848.8 416.4,1846.1 C419.2,1843.4 421.4,1846.8 425,1847.2 C428.6,1847.6 433.5,1849.5 437.7,1848.2 C441.9,1847 444.8,1842.2 450.4,1839.7 C456,1837.2 466,1833.8 471.6,1833.4 C477.2,1833.1 480.4,1835.1 484.3,1837.6 C488.2,1840.1 491.5,1844.9 494.9,1848.2 C498.3,1851.5 501.2,1855.8 504.6,1857.5 C508.1,1859.2 511.9,1856 515.6,1858.4 C519.3,1860.9 523.5,1871.1 526.6,1872.2 C529.7,1873.3 530.9,1870.3 534,1864.8 C537.1,1859.3 541.6,1846.3 545,1839 C548.4,1831.7 551.8,1821.6 554.2,1820.7 C556.7,1819.8 557.9,1823.8 559.7,1833.6 C561.6,1843.4 563.4,1862.7 565.3,1879.5 C567.1,1896.3 568.3,1917.8 570.8,1934.7 C573.2,1951.6 576,1967.2 580,1980.7 C584,1994.2 588.6,2006.7 594.7,2015.6 C600.8,2024.5 608.8,2029.4 616.8,2034 C624.8,2038.6 632.1,2040.8 642.5,2043.2 C652.9,2045.7 665.5,2047.5 679.3,2048.7 C693.1,2049.9 717.6,2050.2 725.3,2050.5" fill="none" stroke="#1cff1c" stroke-width="4.8" stroke-linejoin="round" stroke-linecap="round"/>
<path d="M750.2,2052.1 L751.6,2051.8 L753.6,2051.7 L756,2051 L758.5,2051.4 L761.2,2051.1 L763.8,2050.6 L766.2,2049.7 L768.3,2049.7 L771,2049 L773.5,2048.5 L775.7,2048.7 L777.7,2048 L779.6,2045.8 L781.4,2045 L783.1,2042.6 L784.6,2040.1 L786,2037.8 L787.5,2036.4 L789.2,2034 L790.8,2032.3 L792.5,2030.9 L794.3,2030.1 L795.7,2031.6 L797.2,2033.4 L798.8,2035.3 L800.5,2037.1 L802,2038.5 L803.4,2040.2 L805.1,2042.3 L806.4,2045.1 L808,2046 L810.2,2047.4 L812.2,2048.6 L814.5,2048.6 L817.1,2049.3 L819.7,2049.5 L822.4,2049.2 L824.9,2049.8 L827.4,2049.9 L830.1,2048.9 L832.7,2048.5 L835.2,2048 L837.5,2046.8 L839.6,2046.3 L841.7,2045.4 L843.4,2044 L844.9,2042.2 L846.2,2040.1 L847.5,2035.8 L847.9,2034.7 L848.3,2032.8 L848.7,2031.2 L849.1,2028.7 L849.4,2027.3 L849.8,2024.4 L850.1,2022.2 L850.4,2020.5 L850.7,2018.2 L851,2015.1 L851.2,2012.5 L851.5,2009.7 L851.8,2007 L852,2004.6 L852.2,2002.2 L852.3,2000.1 L852.5,1998.4 L852.6,1995.9 L852.7,1994.3 L852.8,1992.3 L852.9,1990 L853,1987.3 L853.1,1984.9 L853.2,1982.6 L853.3,1979.8 L853.4,1978.2 L853.5,1975.4 L853.6,1973 L853.7,1970.4 L853.8,1968.4 L853.9,1966.2 L854,1963.7 L854.2,1961.9 L854.3,1959.4 L854.4,1956.6 L854.6,1954.6 L854.7,1952.7 L854.9,1950 L855,1947.7 L855.2,1944.8 L855.4,1942.9 L855.5,1940.5 L855.7,1938.1 L855.9,1935.7 L856,1933.6 L856.2,1931.2 L856.4,1928.9 L856.6,1926.3 L856.7,1924.4 L856.9,1922.7 L857.1,1920 L857.3,1917.5 L857.5,1915.4 L857.7,1913.9 L858,1910.7 L858.3,1908.1 L858.6,1905.5 L858.9,1903.2 L859.2,1901.1 L859.5,1898 L859.8,1895.5 L860.2,1893 L860.5,1890.8 L860.8,1888.5 L861.1,1886.7 L861.4,1885 L861.7,1883.1 L861.9,1881.2 L862.2,1880.2 L864.9,1877.9 L865.9,1878 L866.9,1880.2 L868,1885.1 L868.3,1886.7 L868.6,1888.3 L868.9,1890 L869.3,1892.1 L869.6,1893.8 L870,1896.3 L870.4,1898.8 L870.7,1900.5 L871.1,1903.5 L871.4,1905.9 L871.8,1908.8 L872.1,1910.6 L872.4,1914.4 L872.6,1916.1 L872.8,1918.2 L873,1920.2 L873.1,1921.4 L873.3,1923.9 L873.5,1925.4 L873.6,1928 L873.8,1930.5 L873.9,1931.9 L874.1,1934.3 L874.3,1936.3 L874.4,1938.7 L874.6,1941.1 L874.7,1943.4 L874.9,1946.9 L875.1,1949.2 L875.2,1951.3 L875.4,1954.2 L875.6,1956.7 L875.8,1959.2 L875.9,1961.1 L876.1,1963.4 L876.2,1965.5 L876.4,1967.4 L876.5,1969.8 L876.7,1972.5 L876.8,1974.9 L876.9,1976.9 L877.1,1979.8 L877.2,1982.7 L877.4,1985.2 L877.5,1987.5 L877.7,1989.4 L877.8,1992.3 L878,1994.5 L878.2,1996.9 L878.3,1999.6 L878.5,2002.2 L878.6,2004.9 L878.8,2007 L879,2008.8 L879.2,2011.3 L879.3,2013.1 L879.5,2015 L879.7,2016.6 L879.9,2018.4 L880.1,2019.8 L880.3,2021.6 L881.3,2026.3 L882.4,2029.1 L883.6,2030.6 L884.8,2031.3 L886,2032 L887.1,2033 L889,2035.3 L890.8,2036.4 L892.8,2038.7 L894,2040.6 L895,2042.6 L896.3,2044.4 L897.8,2045.5 L900,2047.9 L901.6,2048.6 L903.3,2048.2 L905.1,2049 L907.2,2049.4 L909.4,2050.2 L912,2050.3 L914.9,2050.2 L918.2,2050.3 L919.9,2050.3 L921.8,2050.3 L923.8,2051.1 L925.9,2051.3 L928.2,2050.6 L930.5,2051.2 L932.8,2051.4 L935.2,2050.5 L937.7,2050.9 L940.1,2050.8 L942.6,2051.3 L945,2051.2 L947.4,2050.2 L949.8,2050.4 L952.1,2051.1 L954.3,2050.7 L956.4,2050.6 L958.9,2050.9 L961.4,2050.9 L963.9,2051.1 L966.4,2050.4 L968.9,2050.1 L971.3,2050.8 L973.7,2050.1 L976,2050.6 L978.2,2050.9 L980.4,2050.2 L982.5,2050.3 L984.5,2049.6 L986.4,2049.3 L988.2,2049.4 L991,2048.9 L993.6,2048.1 L995.8,2046 L997.9,2045.8 L999.7,2044 L1001.5,2042.3 L1003.1,2040.7 L1004.7,2039.2 L1006,2037.3 L1007.2,2035.3 L1008.3,2034.3 L1009.3,2032.1 L1010.2,2030 L1011.1,2027.9 L1011.9,2025.8 L1012.8,2022.4 L1013.7,2020.4 L1014.3,2018.4 L1014.8,2015.8 L1015.4,2013.8 L1015.9,2011.3 L1016.5,2008.6 L1017,2006.4 L1017.5,2003.6 L1018,2001.9 L1018.5,1998.6 L1019.1,1996.7 L1019.6,1994.3 L1020.2,1992.6 L1020.7,1990.4 L1021.3,1988 L1022.4,1985.3 L1023.4,1982.5 L1024.6,1980.5 L1025.7,1978.9 L1026.8,1977.8 L1028,1975.1 L1029.1,1973.4 L1030.2,1971.8 L1031.3,1969.1 L1032.4,1965.9 L1033.5,1963.6 L1034.5,1959.5 L1035.6,1957.3 L1036.6,1955 L1037.6,1953.7 L1038.5,1953.5 L1039.1,1954.2 L1039.6,1955.7 L1040.1,1957.8 L1040.6,1959.7 L1041,1962.5 L1041.5,1965.3 L1041.9,1967.4 L1042.3,1971.2 L1042.8,1973.8 L1043.2,1976.5 L1043.7,1979.3 L1044.2,1982.2 L1044.7,1983.9 L1045.2,1985.8 L1045.6,1989 L1046.1,1990.3 L1046.6,1992.6 L1047.1,1995.6 L1047.6,1997.4 L1048.2,1999.6 L1048.7,2002.1 L1049.1,2004.5 L1049.6,2006 L1050.1,2008.6 L1050.6,2010.1 L1051.3,2012.7 L1051.9,2015.1 L1052.6,2016.9 L1053.2,2019.4 L1053.8,2022.1 L1054.5,2024.2 L1055.1,2025.4 L1055.7,2027.8 L1056.4,2029.3 L1057.6,2032.4 L1058.7,2034.4 L1060.2,2036.1 L1062.7,2038 L1064.3,2039.6 L1066.2,2039.6 L1068.4,2041.3 L1070.7,2041.8 L1073,2042.1 L1075.4,2043.7 L1077.7,2043.4 L1079.9,2044.7 L1081.8,2044.4 L1084.2,2045 L1086.1,2044.2 L1087.8,2042.9 L1089.6,2042.3 L1091.8,2041.9 L1094.6,2040.4 L1096.5,2040.4 L1098.6,2040.5 L1101,2041.2 L1103.4,2040.7 L1106,2040.9 L1108.6,2041.5 L1111.2,2041.6 L1113.6,2041.4 L1116,2041.5 L1118.1,2040.7 L1120,2040.3 L1122.5,2039.3 L1124.7,2038 L1126.5,2037.2 L1128.2,2035.7 L1129.7,2032.9 L1131.2,2031.2 L1132.7,2028.8 L1134,2027.4 L1135.3,2025.6 L1136.4,2023.4 L1137.5,2021.5 L1138.6,2018.9 L1139.6,2016.2 L1140.6,2014.5 L1141.6,2012.7 L1142.8,2009.9 L1143.7,2006.8 L1144.6,2004.7 L1145.6,2002.3 L1146.7,2000.9 L1148,1999.9 L1149.4,2000.2 L1151,2002.1 L1152.7,2004.4 L1154.5,2007.3 L1156.3,2009.3 L1157.9,2010.7 L1159.5,2011.5 L1160.6,2010.4 L1161.7,2009.2 L1162.7,2007.6 L1163.7,2006.2 L1164.7,2004 L1165.6,2001.5 L1166.6,1998.7 L1167.5,1996.3 L1168.4,1994 L1169.1,1991.6 L1169.9,1989.3 L1170.6,1987 L1171.3,1984.3 L1172,1981.6 L1172.7,1979 L1173.4,1976.5 L1174,1973.8 L1174.7,1972 L1175.4,1970.8 L1176,1969.4 L1178.2,1968.4 L1180.2,1969.7 L1182.4,1974.8 L1182.9,1975.6 L1183.4,1977.6 L1183.9,1980.1 L1184.5,1981.6 L1185,1984.4 L1185.6,1986.2 L1186.1,1989.4 L1186.7,1991.8 L1187.2,1994.9 L1187.8,1997.4 L1188.3,1999.8 L1188.9,2001.8 L1189.5,2004.4 L1190,2006 L1190.6,2008.8 L1191.2,2011.1 L1191.8,2013.5 L1192.4,2015.7 L1193,2017.9 L1193.6,2020.5 L1194.2,2022.8 L1194.9,2024.8 L1195.5,2027.2 L1196.2,2028.6 L1196.9,2029.9 L1197.7,2032 L1199.3,2034.3 L1200.9,2037 L1202.6,2037.8 L1204.5,2039.6 L1206.6,2041 L1209.1,2042.5 L1210.9,2042.7 L1212.9,2043.1 L1214.9,2044 L1217.1,2044.4 L1219.4,2044.9 L1221.8,2045 L1224.4,2044.6 L1227.1,2045.9 L1230,2046.3 L1231.9,2046 L1233.9,2046.6 L1236,2047.1 L1238.2,2047.6 L1240.5,2047.7 L1242.9,2047.4 L1245.3,2047.7 L1247.7,2048.4 L1250,2048.9 L1252.4,2049.1 L1254.6,2049.8 L1256.8,2050.1 L1258.9,2050 L1260.9,2050.5 L1262.7,2050.1 L1265.8,2051.1 L1268.6,2050.3 L1271.3,2050.2 L1273.7,2050.3 L1275.9,2050.6 L1278,2050 L1280,2049.8 L1281.9,2049.7 L1284.6,2048.4 L1286.8,2048 L1288.7,2046.9 L1290.6,2045.5 L1292.6,2045.3 L1295.2,2045.7 L1297.8,2046.3 L1300.5,2046.7 L1303.3,2047.3 L1305.2,2046.3 L1307.2,2045.6 L1309.2,2043.5 L1311.3,2041.8 L1313.6,2040.5 L1316.1,2039.3 L1318.2,2038.8 L1320.6,2037.8 L1323.1,2037.2 L1325.7,2036.8 L1328.3,2035.7 L1330.8,2035.6 L1333.2,2035.2 L1335.3,2034.9 L1337.7,2036.1 L1339.7,2037 L1341.6,2038.7 L1343.4,2040.2 L1345.5,2040.5 L1348.1,2042 L1350.1,2041.9 L1352.3,2042.4 L1354.6,2041.4 L1357,2041.9 L1359.5,2041.1 L1362.1,2040.5 L1364.6,2040.7 L1367.1,2041.1 L1369.5,2040.3 L1371.9,2041 L1374.4,2041.3 L1377,2041.9 L1379.6,2043.5 L1382.1,2044 L1384.5,2044.8 L1386.8,2045.8 L1388.9,2045.4 L1390.8,2046.6 L1393.7,2046.4 L1395.9,2046.2 L1397.9,2045.6 L1399.7,2044.1 L1401.5,2042.4 L1402.9,2041.7 L1404.2,2039 L1405.3,2036.4 L1406.6,2034 L1408.1,2031.7 L1410,2031.3 L1411.7,2031.4 L1413.6,2032.3 L1415.6,2034.2 L1417.8,2036.1 L1420.1,2037.8 L1422.4,2039.9 L1424.7,2041.1 L1427.1,2040.9 L1428.8,2039.8 L1430.7,2039.3 L1432.5,2038 L1434.4,2036.5 L1436.4,2034.1 L1438.3,2032.2 L1440.2,2030.5 L1442.2,2028.6 L1444,2027.8 L1445.8,2026 L1447.6,2026.1 L1449.9,2026.5 L1452.3,2026.5 L1454.5,2028 L1456.8,2030.7 L1458.9,2031.7 L1461,2033.9 L1462.9,2034.4 L1464.8,2035.6 L1467.5,2035.1 L1469.9,2034.4 L1472.1,2032.9 L1474.2,2032.5 L1476.3,2031.7 L1478.8,2032.5 L1481.2,2034.2 L1483.5,2035.9 L1485.8,2035.3 L1487.2,2034 L1488.6,2031.7 L1490,2029.7 L1491.4,2027 L1492.8,2024.2 L1494.1,2022.8 L1495.4,2022.7 L1496.5,2022.9 L1497.5,2025.1 L1498.5,2027.1 L1499.4,2030.2 L1500.5,2033.3 L1501.6,2035.8 L1503,2037.6 L1504.8,2038.8 L1506.8,2039.7 L1509,2041 L1511.3,2042 L1513.8,2042.3 L1516.4,2043.4 L1518.5,2043.7 L1520.8,2043.8 L1523.1,2044.8 L1525.6,2045.2 L1528.1,2045.4 L1530.6,2045.7 L1533.1,2047 L1535.5,2047.1 L1537.9,2047.8 L1540.3,2047.7 L1542.7,2049.1 L1545,2049.1 L1547.4,2050.1 L1549.8,2050.7 L1552.2,2051.2 L1554.6,2052.1 L1556.9,2051.9 L1559,2053.2 L1561.1,2053.5 L1563.2,2053.5 L1565.4,2054.2 L1567.9,2054 L1570.6,2054.4 L1573.7,2053.7 L1575.6,2054 L1577.7,2053.4 L1579.9,2052.9 L1582.3,2052.8 L1584.7,2052 L1587.2,2050.9 L1589.8,2050.8 L1592.4,2049.7 L1594.9,2049.4 L1597.4,2049.1 L1599.8,2048.1 L1602.1,2047.8 L1604.3,2047.2 L1606.2,2047.1 L1608,2046.7 L1611.2,2047 L1613.7,2047.2 L1615.8,2047.1 L1617.6,2047.7 L1619.3,2048.2 L1621.2,2048.8 L1623.3,2049.2 L1625.3,2049.5 L1627.2,2050.1 L1629.1,2050.6 L1631.1,2050.9 L1633.1,2051.8 L1635.4,2051.6 L1637.8,2052.7 L1640.5,2053 L1642.4,2053 L1644.4,2053.2 L1646.5,2053.7 L1648.8,2053.7 L1651.1,2053.7 L1653.5,2054 L1655.9,2054.1 L1658.3,2053.5 L1660.6,2054.1 L1662.9,2054.2 L1665.1,2053.8 L1667.2,2054.2 L1669.1,2053.3 L1672,2053.9 L1674.6,2053.1 L1677.1,2053.1 L1679.4,2052.9 L1681.7,2052.5 L1683.8,2052.4 L1686,2051.6 L1688.2,2051.3 L1690.8,2051.8 L1693.5,2050.9 L1696.2,2050.6 L1698.8,2050.8 L1701.1,2050.6 L1703.1,2050.1 L1704.5,2050.2" fill="none" stroke="#1cff1c" stroke-width="4.8" stroke-linejoin="round" stroke-linecap="round"/>
<path d="M218,2250.8 C218.4,2250.5 219.5,2248.1 220.7,2249 C221.9,2249.9 224.1,2252.9 225.3,2256.3 C226.5,2259.7 226.9,2267.4 228,2269.2 C229.1,2271 230.5,2269.2 231.7,2267.3 C232.9,2265.5 234.2,2260.1 235.4,2258.1 C236.6,2256.1 237.7,2255.1 239.1,2255.4 C240.5,2255.7 242.5,2257.7 243.7,2260 C244.9,2262.3 245.3,2263.7 246.4,2269.2 C247.5,2274.7 248.9,2288.3 250.1,2293.1 C251.3,2297.8 252.3,2298.3 253.8,2297.7 C255.3,2297.1 257.6,2288.9 259.3,2289.4 C261,2289.9 262.2,2300.4 263.9,2300.4 C265.6,2300.4 267.6,2289.7 269.4,2289.4 C271.2,2289.1 273.8,2294.6 274.9,2298.6 C276,2302.6 275,2306.6 275.8,2313.3 C276.6,2320.1 278.1,2331.8 279.5,2339.1 C280.9,2346.4 282.7,2351.6 284.1,2357.4 C285.5,2363.2 286.4,2373.4 287.8,2374 C289.2,2374.6 290.7,2366.3 292.4,2361.1 C294.1,2355.9 296.1,2349.4 297.9,2342.7 C299.7,2336 301.6,2329.9 303.4,2320.7 C305.2,2311.5 307,2299.2 308.9,2287.6 C310.8,2275.9 312.6,2263.1 314.5,2250.8 C316.4,2238.5 318.2,2226.9 320,2214 C321.8,2201.1 323.8,2185.2 325.5,2173.6 C327.2,2161.9 328.7,2150.7 330.1,2144.1 C331.5,2137.5 332.4,2134 333.8,2134 C335.2,2134 336.7,2138.1 338.4,2144.1 C340.1,2150.1 342.1,2160.4 343.9,2169.9 C345.7,2179.4 347.6,2190.7 349.4,2201.1 C351.2,2211.5 353.1,2222.3 354.9,2232.4 C356.7,2242.5 358.6,2250.8 360.4,2261.8 C362.2,2272.8 364,2286.9 365.9,2298.6 C367.8,2310.2 369.6,2321.9 371.5,2331.7 C373.4,2341.5 375.5,2350.3 377,2357.4 C378.5,2364.5 379.3,2372.5 380.7,2374 C382.1,2375.5 383.6,2372.4 385.3,2366.6 C387,2360.8 389.1,2349.8 390.8,2339.1 C392.5,2328.4 394.2,2316.1 395.4,2302.3 C396.6,2288.5 397.2,2270.1 398.1,2256.3 C399,2242.5 399.8,2231.8 400.9,2219.5 C402,2207.2 403.2,2195.1 404.6,2182.8 C406,2170.6 407.8,2156.1 409.2,2146 C410.6,2135.9 411.6,2124.8 412.8,2122 C414,2119.2 415.1,2121.4 416.5,2129.4 C417.9,2137.4 419.4,2153.4 421.1,2169.9 C422.8,2186.4 424.9,2209.7 426.6,2228.7 C428.3,2247.7 429.5,2267 431.2,2283.9 C432.9,2300.8 435.2,2314.6 436.7,2329.9 C438.2,2345.2 438.7,2364.5 440.4,2375.8 C442.1,2387.1 444.8,2390.9 446.9,2397.9 C449,2404.9 451.3,2413.5 453.3,2418.1 C455.3,2422.7 457.1,2427 458.8,2425.5 C460.5,2424 461.9,2416.3 463.4,2408.9 C464.9,2401.5 466.5,2387.4 468,2381.3 C469.5,2375.2 471.1,2374 472.6,2372.2 C474.1,2370.4 475.4,2366.6 477,2370.3 C478.6,2374 480.7,2387.1 482.5,2394.2 C484.3,2401.2 486.1,2410.8 488,2412.6 C489.9,2414.4 491.8,2410.8 493.6,2405.3 C495.5,2399.8 497.4,2386.9 499.1,2379.5 C500.8,2372.1 502,2362.9 503.7,2361.1 C505.4,2359.3 507.5,2365.4 509.2,2368.5 C510.9,2371.6 512.4,2370.6 513.8,2379.5 C515.2,2388.4 516.3,2409.2 517.5,2421.8 C518.7,2434.4 519.6,2447.5 521.1,2454.9 C522.6,2462.3 524.6,2462.9 526.7,2466 C528.9,2469.1 531.9,2466.9 534,2473.3 C536.1,2479.7 537.7,2495.4 539.5,2504.6 C541.3,2513.8 542.9,2522.4 545,2528.5 C547.1,2534.6 550.7,2536.7 552.4,2541.3 C554.1,2545.9 554.1,2555.4 555.2,2556 C556.3,2556.6 557.4,2550.5 558.8,2545 C560.2,2539.5 562,2532.8 563.4,2523 C564.8,2513.2 566,2496.9 567.1,2486.2 C568.2,2475.5 569,2469.3 569.9,2458.6 C570.8,2447.9 571.7,2432.5 572.6,2421.8 C573.5,2411.1 574.5,2403.4 575.4,2394.2 C576.3,2385 577.3,2374.9 578.1,2366.6 C578.9,2358.3 578.5,2350.7 580,2344.6 C581.5,2338.5 585.1,2335.4 587.3,2329.9 C589.4,2324.4 591,2315.8 592.9,2311.5 C594.8,2307.2 596.9,2308.7 598.4,2304.1 C599.9,2299.5 600.8,2289.4 602,2283.9 C603.2,2278.4 603.9,2273.9 605.7,2271 C607.6,2268.1 611,2266.2 613.1,2266.4 C615.2,2266.6 616.8,2272.1 618.6,2271.9 C620.4,2271.8 622.3,2269 624.1,2265.5 C625.9,2262 627.8,2251.4 629.6,2250.8 C631.4,2250.2 633,2260.3 635.1,2261.8 C637.2,2263.3 639.9,2261.8 642.5,2260 C645.1,2258.2 648.2,2251.1 650.8,2250.8 C653.4,2250.5 656.1,2259.3 658.1,2258.1 C660.1,2256.9 661,2247.1 662.7,2243.4 C664.4,2239.7 666.5,2238.8 668.2,2236.1 C669.9,2233.3 671.3,2227.8 672.8,2226.9 C674.3,2226 675.4,2229.4 677.4,2230.6 C679.4,2231.8 681.7,2231.4 684.8,2234.2 C687.9,2236.9 692.7,2247.1 695.8,2247.1 C698.9,2247.1 700.9,2234.2 703.2,2234.2 C705.5,2234.2 707.5,2246.2 709.6,2247.1 C711.8,2248 713.8,2238.6 716.1,2239.8 C718.4,2241 722.2,2252.1 723.4,2254.5" fill="none" stroke="#404040" stroke-width="4" stroke-linejoin="round"/>
<path d="M750.7,2256.9 L751.2,2256 L751.9,2255.3 L752.8,2251.5 L753.7,2249.3 L754.8,2247.4 L755.9,2244.4 L757,2244.6 L758.5,2245.1 L760.1,2246.5 L761.9,2245.6 L763.7,2248 L765.3,2249 L766.8,2252.9 L768.3,2253.7 L769.5,2252.5 L770.7,2256.8 L771.8,2258.3 L773,2259.4 L773.6,2260.6 L774.2,2260.3 L774.8,2261.3 L775.4,2264.6 L776,2264.6 L776.6,2266.8 L777.2,2268.9 L777.8,2270.1 L778.3,2273.8 L778.8,2276 L779.3,2279.8 L779.6,2280.2 L779.8,2282.2 L780,2283.3 L780.2,2285.6 L780.4,2286.7 L780.6,2287.9 L780.8,2292.3 L781,2294.2 L781.2,2295.6 L781.4,2297.2 L781.5,2297.8 L781.7,2299.5 L781.9,2301.8 L782,2303 L782.2,2307.4 L782.4,2308.2 L782.5,2311.6 L782.7,2312 L782.9,2315.9 L783.1,2317.4 L783.3,2316.4 L783.5,2319.1 L783.6,2323.4 L783.8,2323.9 L784,2327.6 L784.2,2327.6 L784.4,2328.5 L784.6,2332.4 L784.7,2334.9 L784.9,2335.1 L785.1,2336.4 L785.3,2339.1 L785.5,2343.1 L785.7,2344.2 L785.8,2343.8 L786,2345.9 L786.2,2347.1 L786.4,2348.5 L786.7,2353.2 L787,2353.3 L787.2,2356.6 L787.5,2358.2 L787.8,2359.2 L788.1,2362.8 L788.4,2362.5 L788.7,2366 L789,2365.8 L789.2,2368.4 L789.5,2369.3 L789.8,2371 L790,2374.8 L790.4,2376.7 L790.7,2377.5 L791.1,2382 L791.4,2382 L791.7,2384.7 L792,2387.7 L792.4,2387.9 L792.7,2386.1 L793,2388.8 L793.3,2385.6 L793.5,2384.9 L793.8,2385.5 L794.1,2382.5 L794.4,2380.4 L794.7,2377.2 L794.9,2374.3 L795.2,2372.4 L795.4,2367 L795.5,2367 L795.5,2365 L795.6,2363.9 L795.6,2364.3 L795.7,2361.2 L795.7,2360 L795.8,2359.4 L795.8,2355.5 L795.8,2353.8 L795.9,2354.6 L795.9,2352.6 L796,2348.9 L796,2346.9 L796,2346.9 L796.1,2345.7 L796.1,2341.2 L796.2,2341.9 L796.2,2339.7 L796.2,2336.7 L796.3,2334.1 L796.3,2331 L796.3,2328.8 L796.4,2329.9 L796.4,2325.4 L796.5,2324.9 L796.5,2321.3 L796.5,2321.2 L796.6,2318.4 L796.6,2315.3 L796.7,2312.9 L796.7,2312.7 L796.7,2308.4 L796.8,2307 L796.8,2306.1 L796.9,2305.2 L796.9,2302.4 L797,2299.4 L797,2299.7 L797.1,2295.4 L797.2,2292.9 L797.2,2291.9 L797.3,2290.7 L797.3,2287.6 L797.4,2286.1 L797.5,2284.9 L797.5,2283.8 L797.6,2280.4 L797.7,2279.3 L797.7,2279.3 L797.8,2277.7 L797.9,2274.8 L798,2273 L798,2270.8 L798.1,2267.5 L798.2,2265.3 L798.3,2263.3 L798.3,2264.5 L798.4,2262 L798.5,2261 L798.6,2256 L798.6,2256.2 L798.7,2253.8 L798.8,2252.9 L798.9,2249.6 L798.9,2250.1 L799,2245.1 L799.1,2244.9 L799.1,2243.7 L799.2,2242.5 L799.3,2240.1 L799.4,2238.2 L799.4,2236.7 L799.5,2235.3 L799.6,2231.6 L799.6,2230.9 L799.7,2229.9 L799.7,2228 L799.8,2224.7 L799.9,2224.1 L799.9,2222.3 L800,2219.3 L800,2217.4 L800.1,2214.5 L800.1,2213 L800.2,2211 L800.2,2207 L800.3,2206.7 L800.3,2205.7 L800.4,2203.2 L800.4,2200.4 L800.5,2197.1 L800.5,2196.1 L800.6,2193.4 L800.6,2190.7 L800.7,2190 L800.7,2185.3 L800.7,2185.5 L800.8,2181 L800.8,2180.9 L800.9,2178.6 L800.9,2175.8 L801,2175.6 L801,2173.1 L801.1,2171.8 L801.1,2171.2 L801.2,2167.4 L801.2,2165.1 L801.3,2164.6 L801.3,2164.6 L801.4,2161.8 L801.4,2160.5 L801.5,2162 L801.5,2160.2 L801.6,2158.7 L801.9,2157.8 L802.3,2156 L802.6,2159 L803,2160.5 L803.4,2164.9 L803.9,2169.7 L804.3,2172.8 L804.6,2174.2 L805,2174 L805.3,2176.1 L805.7,2176.7 L806,2177.7 L806.4,2180.6 L806.8,2183.6 L807.2,2185.7 L807.5,2187.5 L807.9,2190.8 L808.1,2190 L808.3,2191.3 L808.5,2194.1 L808.6,2195.4 L808.8,2197.2 L809,2199.9 L809.2,2202.8 L809.4,2204.5 L809.6,2206.1 L809.7,2210.1 L809.9,2212.7 L810.1,2213 L810.3,2213.8 L810.5,2215.6 L810.7,2220.3 L810.8,2219.2 L811,2223.1 L811.2,2224 L811.4,2224.4 L812.3,2229.6 L813.2,2228.1 L814.1,2229.1 L815,2231.9 L815.4,2231.9 L815.8,2236.4 L816.2,2236.2 L816.6,2237.9 L817,2239.6 L817.4,2243.6 L817.8,2244.9 L818.2,2247.2 L818.6,2248.7 L819.4,2251.9 L820.1,2254.5 L821,2255.1 L822.1,2254.4 L823.6,2255.4 L825.5,2253.7 L827.4,2252.1 L829.3,2252.6 L831.1,2252.4 L832.9,2249.5 L834.6,2248.6 L836.4,2247.7 L838.3,2247.1 L840.2,2244.5 L842.1,2243.3 L843.6,2243.8 L844.2,2243.3 L844.7,2245.9 L845.2,2247.9 L845.6,2246.9 L845.9,2251.9 L846.3,2253.3 L846.7,2253.6 L847.1,2256.9 L847.4,2259 L847.7,2261.5 L848,2261.2 L848.3,2263.4 L848.6,2266.1 L848.9,2267.5 L849.2,2269.8 L849.5,2270 L849.8,2272.6 L850.1,2273.1 L850.4,2277 L850.7,2279.7 L850.9,2280.6 L851.1,2282.4 L851.3,2282.3 L851.5,2286.2 L851.7,2288.2 L851.9,2289.8 L852.1,2290.1 L852.3,2292.7 L852.5,2292.9 L852.7,2296.8 L852.9,2298.5 L853.1,2298.7 L853.3,2299.8 L853.5,2303.1 L853.7,2305.5 L853.8,2308.4 L854,2309.7 L854.2,2310.4 L854.3,2315.4 L854.4,2314.4 L854.5,2318.5 L854.6,2318 L854.6,2320.3 L854.7,2323.6 L854.8,2323.2 L854.9,2325 L854.9,2328.1 L855,2330.7 L855.1,2333 L855.1,2334.4 L855.2,2337.2 L855.2,2337.6 L855.3,2341.1 L855.3,2340.1 L855.4,2342.5 L855.4,2345.6 L855.5,2346.7 L855.5,2350.2 L855.6,2351.8 L855.7,2353.3 L855.7,2356.4 L855.8,2357.3 L855.8,2358.3 L855.9,2360.4 L855.9,2363.8 L856,2365.8 L856,2365.2 L856.1,2369.1 L856.2,2371.5 L856.2,2372.1 L856.3,2374.3 L856.4,2375 L856.4,2378.2 L856.5,2380.1 L856.6,2382.5 L856.6,2382.5 L856.7,2387.7 L856.8,2388.1 L856.8,2389.6 L856.9,2392.9 L857,2394 L857,2395.6 L857.1,2398.1 L857.2,2397.8 L857.3,2401.2 L857.3,2402.5 L857.4,2406.1 L857.5,2407.6 L857.6,2407.1 L857.7,2409.3 L857.8,2409.7 L857.9,2412.3 L858.1,2415.9 L858.3,2418.3 L858.5,2418.9 L858.7,2420.3 L858.9,2421.7 L859.2,2424.9 L859.4,2427.6 L859.7,2426.6 L859.9,2430.4 L860.2,2429.4 L860.4,2431.6 L860.7,2433.3 L860.9,2436.5 L861.2,2436.9 L861.4,2438.8 L861.6,2441.6 L861.9,2441.8 L862.1,2446 L862.4,2446.1 L862.6,2449.6 L862.9,2450.9 L863.1,2452.9 L863.4,2456.1 L863.6,2457.7 L863.9,2459.4 L864.1,2461.2 L864.3,2463.1 L864.6,2463.2 L864.8,2464.3 L865,2466.5 L865.6,2467.5 L866.1,2466.5 L866.5,2465.5 L867.1,2461.6 L867.7,2458.3 L867.9,2454.9 L868.1,2455.3 L868.3,2454 L868.5,2452.7 L868.8,2449 L869,2447.2 L869.2,2447.3 L869.5,2443 L869.7,2443.6 L870,2441.2 L870.2,2436.6 L870.5,2434.8 L870.7,2434.4 L871,2430.7 L871.2,2428 L871.4,2428.4 L871.7,2425 L871.9,2424.3 L872.1,2420.1 L872.3,2419.2 L872.5,2418.3 L872.7,2414.1 L872.9,2412.9 L873.2,2412.6 L873.4,2411.5 L873.6,2409.8 L873.8,2405.1 L874,2404.5 L874.2,2403.5 L874.4,2400.7 L874.5,2399.5 L874.7,2395.9 L874.9,2393.6 L875.1,2391.9 L875.2,2389.8 L875.4,2389.6 L875.6,2387.6 L875.7,2385.9 L875.8,2382.6 L876,2380.8 L876.1,2378.9 L876.2,2379.2 L876.3,2377.7 L876.4,2375.5 L876.5,2370.7 L876.5,2368.6 L876.6,2369.7 L876.7,2366.1 L876.8,2365.2 L876.8,2361.8 L876.9,2360.4 L877,2358.7 L877.1,2356.6 L877.2,2355.4 L877.3,2351.7 L877.4,2352.3 L877.5,2351.2 L877.7,2346.5 L877.9,2345 L878.1,2343.5 L878.3,2339.8 L878.5,2336.7 L878.7,2334.2 L878.9,2333.2 L879.1,2329.5 L879.3,2330.6 L879.6,2328.8 L879.8,2327.2 L880,2326.8 L880.2,2325.4 L880.5,2324.7 L880.8,2326.2 L881.1,2327.3 L881.4,2331 L881.6,2332.7 L881.9,2333.4 L882.2,2338.1 L882.6,2339.9 L882.9,2342 L883.3,2344.1 L883.6,2344.8 L884,2348.6 L884.4,2350.8 L884.8,2352.2 L885.2,2354.4 L885.6,2356 L886,2356 L886.4,2357.9 L887.3,2356 L888.2,2355.7 L889.2,2353.6 L890,2348.3 L890.2,2348.2 L890.4,2347.7 L890.6,2346 L890.8,2342.9 L891,2343.4 L891.2,2340.5 L891.4,2337.3 L891.6,2336.3 L891.8,2333.8 L892,2331.5 L892.1,2328.9 L892.3,2328.9 L892.5,2325.6 L892.7,2323.9 L892.9,2322.2 L893.1,2321.1 L893.3,2316 L893.4,2316.2 L893.6,2314.8 L893.8,2311.4 L894,2310 L894.2,2307 L894.4,2305.6 L894.6,2304.3 L894.8,2301.4 L895,2299.8 L895.2,2300 L895.4,2296.6 L895.6,2294.7 L895.7,2294.5 L895.9,2291.2 L896.1,2290.7 L896.3,2287.4 L896.5,2285.9 L896.7,2281.2 L896.9,2280.9 L897.1,2279.3 L897.2,2274.7 L897.4,2275.6 L897.6,2271 L897.8,2270.1 L898,2267.2 L898.2,2266.5 L898.4,2265.2 L898.6,2261.8 L898.7,2263.4 L898.9,2260.4 L899.6,2257 L900.2,2255.8 L900.9,2254.4 L901.6,2252.9 L902.3,2252 L903,2248.9 L903.7,2245.4 L904.5,2245.2 L905.2,2243.9 L905.5,2243.7 L905.8,2245.6 L906.1,2246.3 L906.4,2248.3 L906.7,2252.3 L907,2253.1 L907.3,2257 L907.6,2258.7 L907.9,2258.5 L908.2,2263.8 L908.5,2265.7 L908.8,2264.6 L909.1,2269.3 L909.4,2269.6 L909.7,2271.6 L910,2275.2 L910.3,2274.7 L910.6,2277.6 L910.9,2280.8 L911.2,2281.9 L911.5,2282.8 L911.8,2286.2 L912,2287.2 L912.3,2287.9 L912.8,2288.9 L913.2,2293.4 L913.6,2295.3 L914.1,2296.3 L914.5,2296.8 L915,2298.3 L915.3,2296.3 L915.6,2296.3 L915.9,2295.6 L916.2,2293.1 L916.6,2290.4 L916.9,2289.4 L917.3,2286.6 L917.6,2285.6 L917.9,2282.6 L918.3,2282.1 L918.6,2280.1 L918.9,2277.5 L919.3,2273.8 L919.6,2271.3 L919.9,2272 L920.2,2269.6 L920.6,2267.2 L920.9,2264.5 L921.3,2262.6 L921.7,2262.5 L922.1,2260.9 L923.8,2259.1 L925.8,2259 L927.5,2258 L928,2254.7 L928.5,2253.2 L928.9,2253.6 L929.3,2251.3 L929.7,2249.1 L930.1,2244.3 L930.6,2242.7 L931.1,2242.1 L932.7,2241.5 L934.6,2242.5 L936.4,2239.7 L937.1,2239.9 L937.8,2236.4 L938.5,2234.2 L939.2,2234 L940,2231.5 L940.8,2230.1 L941.8,2228.2 L943.4,2228.2 L945.1,2227.9 L947,2229.4 L948.9,2232 L950.7,2233.3 L952.5,2231.3 L954.3,2231.9 L956,2234.8 L957.8,2234.9 L959.6,2236.6 L960.9,2236 L962.3,2238.2 L963.6,2239.4 L965,2243.1 L966.3,2243.3 L967.5,2245.8 L968.6,2248.1 L970.6,2247.3 L972.2,2248.6 L973.9,2249 L975.4,2249.2 L976.9,2246.8 L978.5,2245.1 L980,2241.5 L980.5,2242.9 L981,2238.5 L981.4,2236.6 L981.9,2236.1 L982.4,2233.6 L982.9,2232 L983.3,2228.5 L983.8,2228 L984.2,2223.7 L984.6,2222.5 L985,2222.8 L985.4,2220 L986.4,2220.4 L987.3,2223.6 L988.1,2226.4 L988.9,2227.9 L989.4,2229.2 L989.9,2232.4 L990.3,2236.4 L990.8,2237.8 L991.3,2238.9 L991.9,2242 L992.5,2241.3 L992.8,2241.9 L993.1,2241 L993.4,2239.6 L993.8,2236.5 L994.1,2236 L994.4,2232.4 L994.8,2230.4 L995.2,2228.5 L995.5,2228.1 L995.9,2225.8 L996.3,2221.4 L996.7,2219.6 L997.1,2217.5 L997.5,2215.6 L997.9,2213.9 L998.4,2211.9 L998.9,2209 L999.5,2208 L1000,2206.4 L1000.6,2203.2 L1001.2,2201.9 L1001.7,2198.8 L1002.3,2195.5 L1002.9,2195.7 L1003.4,2194.6 L1004,2191.4 L1004.5,2189.8 L1005,2191.2 L1005.5,2191.5 L1006,2192.5 L1006.4,2195.2 L1006.9,2195.9 L1007.3,2198.5 L1007.7,2198.3 L1008.1,2202.4 L1008.5,2205.6 L1009,2205.6 L1009.4,2207.7 L1009.9,2211.8 L1010.4,2213.9 L1011.5,2214.1 L1012.7,2219.4 L1014,2220.8 L1015.2,2224.8 L1016.4,2224.5 L1017.5,2220.5 L1017.7,2219.6 L1017.9,2220.4 L1018.1,2218.4 L1018.3,2217.9 L1018.5,2215.2 L1018.6,2213.5 L1018.8,2213.9 L1019,2211.1 L1019.2,2208.7 L1019.4,2206.9 L1019.6,2205.5 L1019.7,2203.3 L1019.9,2201.9 L1020.1,2198 L1020.3,2197.2 L1020.4,2194.4 L1020.6,2192.8 L1020.8,2190.4 L1020.9,2188.2 L1021.1,2186.1 L1021.3,2184.2 L1021.4,2180.9 L1021.6,2178.3 L1021.7,2176.9 L1021.9,2175.2 L1022,2171.9 L1022.2,2170 L1022.3,2167.3 L1022.5,2167.7 L1022.6,2166.9 L1022.8,2163.4 L1022.9,2161.4 L1023.3,2158.2 L1023.6,2155.9 L1023.9,2152.6 L1024.2,2152.3 L1024.5,2146.8 L1024.8,2145.6 L1025,2143.1 L1025.3,2143.5 L1025.6,2142.9 L1025.8,2140.2 L1026.1,2139.5 L1026.4,2141 L1026.6,2141.8 L1026.8,2143.6 L1027.1,2141.7 L1027.3,2143.2 L1027.5,2144.9 L1027.7,2146.7 L1028,2148.6 L1028.2,2152.3 L1028.4,2154.1 L1028.6,2155.1 L1028.9,2157.4 L1029.1,2160.2 L1029.3,2162.4 L1029.5,2167 L1029.8,2168.1 L1030,2171.6 L1030.1,2174 L1030.3,2174.4 L1030.4,2175.2 L1030.5,2179 L1030.6,2180.8 L1030.8,2180.6 L1030.9,2183.2 L1031,2186.4 L1031.2,2186.7 L1031.3,2187.7 L1031.4,2189.1 L1031.6,2194.1 L1031.7,2195.6 L1031.8,2196.1 L1032,2198.6 L1032.1,2200.6 L1032.2,2201.8 L1032.4,2206.2 L1032.5,2207.1 L1032.6,2207.6 L1032.7,2208.8 L1032.9,2212.3 L1033,2213.9 L1033.1,2217.2 L1033.2,2218.8 L1033.3,2220.2 L1033.4,2220.5 L1033.5,2222.2 L1033.6,2224.4 L1033.7,2226.3 L1033.8,2230.5 L1033.9,2231.4 L1034,2233.8 L1034.1,2237.1 L1034.2,2236.6 L1034.2,2239.5 L1034.3,2240.1 L1034.4,2244.2 L1034.4,2243.4 L1034.5,2248.1 L1034.6,2250 L1034.6,2251.8 L1034.7,2251.1 L1034.8,2253.5 L1034.8,2256.7 L1034.9,2256.4 L1035,2259.4 L1035.1,2261 L1035.2,2264.4 L1035.3,2264.8 L1035.4,2267.3 L1035.6,2267.6 L1035.8,2271.3 L1036,2272 L1036.2,2275.6 L1036.4,2274.7 L1036.6,2279 L1036.9,2278.6 L1037.1,2281.5 L1037.3,2283.2 L1037.6,2283.7 L1037.8,2287.8 L1038,2287.8 L1038.3,2289.7 L1038.5,2290.8 L1038.7,2293.6 L1038.9,2296.3 L1039,2298.9 L1039.2,2299.6 L1039.3,2302.9 L1039.5,2303.1 L1039.6,2306.5 L1039.7,2309.1 L1039.9,2313.3 L1040,2315.4 L1040.1,2317.3 L1040.2,2317.5 L1040.4,2321.2 L1040.5,2324.6 L1040.6,2325.2 L1040.7,2328.3 L1040.9,2329.8 L1041,2329.9 L1041.1,2334.7 L1041.2,2335.1 L1041.3,2334 L1041.5,2335.9 L1041.6,2335 L1041.7,2335.1 L1041.9,2335.2 L1042,2333.5 L1042.1,2332.6 L1042.2,2331.4 L1042.3,2330.8 L1042.5,2327.7 L1042.6,2325.5 L1042.7,2325.2 L1042.8,2321.6 L1043,2321.4 L1043.1,2317.7 L1043.2,2315.8 L1043.3,2312 L1043.5,2311.2 L1043.6,2306.2 L1043.7,2303.9 L1043.9,2301.4 L1044,2301.1 L1044.2,2299.1 L1044.3,2295.3 L1044.4,2294.2 L1044.6,2293.8 L1044.7,2291 L1044.9,2287.2 L1045.1,2285.7 L1045.2,2283.4 L1045.4,2281.2 L1045.5,2280 L1045.7,2276.8 L1045.9,2277.6 L1046,2273.9 L1046.2,2272.1 L1046.4,2270.6 L1046.6,2269.1 L1046.7,2267.4 L1046.9,2264.1 L1047.1,2262.1 L1047.2,2260.7 L1047.4,2257.8 L1047.6,2257.7 L1047.7,2257.3 L1047.9,2257 L1048.5,2252.5 L1049.1,2249.1 L1049.7,2246.8 L1050.2,2243.5 L1050.8,2243.9 L1051.4,2244.1 L1051.8,2245.7 L1052.2,2245.1 L1052.6,2247.6 L1053,2250 L1053.4,2253.2 L1053.8,2255.6 L1054.2,2257.1 L1054.6,2257.7 L1055,2261.6 L1055.4,2264.2 L1055.9,2265.3 L1056.3,2267.1 L1056.7,2270 L1057.1,2270.9 L1057.6,2274.5 L1058.1,2276.4 L1058.6,2275.1 L1059.1,2275.2 L1059.5,2274.6 L1060.1,2271 L1060.6,2271.7 L1061.1,2268.5 L1061.7,2264.8 L1062.2,2262.1 L1062.8,2260.3 L1063.4,2259.3 L1063.9,2257.8 L1064.4,2254.6 L1064.9,2254.5 L1065.5,2250.4 L1066,2248.5 L1066.5,2245.1 L1067,2246 L1067.6,2241.3 L1068.1,2242.4 L1068.7,2240.1 L1069.3,2239.5 L1070.2,2239.4 L1071.1,2239.2 L1072,2242.7 L1073,2244.8 L1074.1,2246.4 L1075.2,2248 L1076.4,2248.7 L1077.1,2252.5 L1077.9,2252.3 L1078.7,2256.3 L1079.5,2256 L1080.4,2259.2 L1081.3,2262.2 L1082.2,2262.1 L1083.1,2265.3 L1083.9,2265.5 L1084.8,2267 L1085.6,2268.8 L1086.4,2272.5 L1087.1,2272.9 L1088.2,2271.8 L1089.1,2269.2 L1090,2268.2 L1090.8,2265.8 L1091.6,2262.1 L1092.5,2260.6 L1093.3,2260 L1094.3,2257.3 L1094.9,2258.6 L1095.6,2260.7 L1096.2,2261.2 L1096.9,2264 L1097.6,2266.8 L1098.3,2267.8 L1099,2271.4 L1099.7,2273 L1100.4,2276.3 L1101.1,2277.5 L1101.8,2280.3 L1102.5,2279.6 L1103.2,2282.7 L1104.7,2281.3 L1106.2,2283.1 L1107.6,2280.1 L1109.1,2277.6 L1110.6,2275.6 L1112.1,2275.4 L1113.9,2275.9 L1115.6,2277.3 L1117.4,2278.7 L1119.2,2278.7 L1121.1,2280.3 L1122.2,2278.9 L1123.4,2277.6 L1124.7,2274.3 L1125.9,2272.4 L1127.2,2270.8 L1128.4,2270.1 L1129.6,2267.4 L1130.8,2266.4 L1131.8,2265.9 L1132.7,2268.2 L1133.6,2267.9 L1134.3,2269.3 L1135,2274.3 L1135.7,2277.6 L1136.4,2279.5 L1137.1,2281.1 L1138,2282.8 L1138.9,2281.4 L1139.5,2281.8 L1140.2,2278.8 L1140.9,2277.3 L1141.6,2276.4 L1142.3,2274.2 L1143.1,2271.4 L1143.9,2267.6 L1144.6,2267.2 L1145.4,2264.1 L1146.2,2260.9 L1146.9,2259.2 L1147.6,2257.9 L1148.3,2256.4 L1149,2255.4 L1149.6,2258.5 L1150,2259.2 L1150.3,2259.1 L1150.6,2260.9 L1151,2260.7 L1151.3,2263.6 L1151.6,2263.4 L1151.9,2267.2 L1152.2,2268.7 L1152.5,2272 L1152.7,2271.6 L1153,2276.3 L1153.3,2276.5 L1153.6,2280.4 L1153.8,2284.2 L1154.1,2283.4 L1154.4,2286.6 L1154.6,2289 L1154.9,2291.3 L1155.2,2292.4 L1155.4,2297.1 L1155.7,2298.5 L1156,2298.6 L1156.2,2299.7 L1156.5,2301.4 L1156.8,2300.3 L1157.5,2301 L1158.3,2303.7 L1159,2300.6 L1159.7,2299.5 L1160.5,2298.7 L1161.2,2296.2 L1161.9,2291.7 L1162.6,2287.9 L1163.3,2285.6 L1163.9,2285.3 L1164.3,2283.6 L1164.8,2279.4 L1165.2,2279.5 L1165.6,2275.7 L1166,2273.9 L1166.3,2270.7 L1166.7,2270.9 L1167.1,2269.2 L1167.4,2264.5 L1167.8,2264.1 L1168.2,2261 L1168.5,2262 L1168.9,2258.1 L1169.3,2257.6 L1170.2,2259.2 L1171.1,2258.5 L1172.1,2262.3 L1173,2264.6 L1173.8,2267.1 L1174.6,2268.4 L1174.9,2271.6 L1175.1,2273.9 L1175.3,2273.9 L1175.5,2274.4 L1175.7,2276.8 L1175.8,2279.1 L1176,2282.5 L1176.2,2282.8 L1176.3,2284.8 L1176.5,2287 L1176.7,2290.4 L1177,2292.8 L1177.2,2293.1 L1177.5,2295.8 L1177.8,2298.1 L1178.2,2298.5 L1179.1,2299.8 L1180.1,2302.5 L1181.2,2306.9 L1182.4,2308 L1183.7,2308.3 L1184.9,2310.7 L1186,2309.4 L1187.1,2312.3 L1187.8,2309.9 L1188.5,2309.1 L1189.1,2307.6 L1189.8,2304.1 L1190.4,2303.9 L1191,2300.6 L1191.6,2298.2 L1192.3,2297.8 L1192.9,2293.3 L1193.6,2292 L1194.3,2292 L1195.3,2288.3 L1196.4,2286.7 L1197.5,2286.1 L1198.6,2283.3 L1199.8,2284.3 L1200.9,2283.2 L1202.1,2278.5 L1203.2,2278.5 L1204.3,2277.8 L1205.4,2274.8 L1206.6,2274.9 L1207.7,2271.7 L1208.8,2268.9 L1209.9,2268.7 L1211,2267.7 L1212.1,2265.6 L1214.2,2265.5 L1216.3,2265.7 L1218.2,2264.7 L1220,2264 L1221.6,2263.2 L1223,2259.9 L1224.2,2257.3 L1225.4,2258.6 L1225.8,2256.9 L1226.2,2260.6 L1226.5,2260.5 L1226.8,2264.4 L1227,2265.6 L1227.3,2268.8 L1227.6,2272.1 L1228,2274.1 L1228.4,2275.4 L1228.9,2274.1 L1229.6,2274.6 L1230.4,2272.4 L1231.3,2271.7 L1232.3,2269.1 L1233.2,2265 L1234.2,2264.5 L1235.2,2262.8 L1236.1,2260.9 L1237.9,2261 L1239.8,2258.8 L1241.5,2258.9 L1243.2,2257.3 L1243.9,2257.6 L1244.4,2255.8 L1245,2253.8 L1245.5,2251.1 L1246.1,2250.7 L1246.6,2246.1 L1247.2,2247 L1247.9,2244.3 L1248.6,2243 L1250.7,2242 L1253.1,2238.9 L1255.5,2238.9 L1257.5,2242.3 L1257.9,2242.5 L1258.2,2244.8 L1258.5,2247.5 L1258.8,2249.1 L1259,2250.3 L1259.3,2253.6 L1259.5,2254.3 L1259.7,2259.2 L1259.9,2259.4 L1260.1,2262.1 L1260.3,2264.1 L1260.5,2268.2 L1260.7,2270.8 L1261,2272.6 L1261.2,2271.8 L1261.4,2274.5 L1261.7,2275.5 L1262,2275.8 L1263,2279.2 L1264,2274.9 L1265.1,2274.1 L1266.2,2272.1 L1267.2,2270 L1268.2,2264.9 L1269.2,2263.8 L1270.1,2262.3 L1271,2257.8 L1271.8,2256.8 L1272.7,2258.4 L1273.6,2256.6 L1274.5,2259.3 L1275.3,2261.3 L1276.2,2264.1 L1277.1,2264.7 L1278.7,2267.5 L1280.2,2273.1 L1281.6,2270.5 L1281.8,2269.4 L1282,2266.4 L1282.1,2264.9 L1282.3,2264.2 L1282.4,2261.2 L1282.5,2259.8 L1282.7,2259.2 L1282.8,2255 L1282.9,2252.5 L1283,2252.4 L1283.1,2248.8 L1283.3,2244.6 L1283.4,2243.6 L1283.6,2242.4 L1283.7,2238.5 L1283.9,2237.8 L1284.1,2237.5 L1284.3,2236.9 L1285.9,2233.4 L1287.9,2235.1 L1289.6,2232 L1289.9,2230.6 L1290.2,2230.8 L1290.5,2227.8 L1290.8,2227.6 L1291,2223.9 L1291.3,2222.5 L1291.5,2220.1 L1291.7,2219.4 L1292,2216 L1292.2,2214.1 L1292.5,2212.1 L1292.7,2210.9 L1292.9,2208.4 L1293.2,2206.9 L1293.4,2206.9 L1293.7,2203.7 L1293.9,2202 L1294.2,2197.4 L1294.4,2195.5 L1294.6,2191.9 L1294.9,2191.6 L1295.1,2188.1 L1295.4,2185.5 L1295.6,2182.6 L1295.8,2181.4 L1296.1,2180.1 L1296.3,2179.4 L1296.6,2180.4 L1296.8,2179.3 L1297.1,2178 L1297.3,2178.9 L1297.6,2179.2 L1297.8,2183.3 L1298.1,2183.1 L1298.3,2186.5 L1298.6,2188.5 L1298.9,2191.5 L1299.1,2190.8 L1299.4,2194.3 L1299.6,2196.9 L1299.9,2198.1 L1300.1,2203 L1300.4,2203 L1300.6,2206.4 L1300.9,2207.6 L1301.1,2208.2 L1301.4,2211.6 L1301.6,2213.3 L1301.8,2214.9 L1302,2217.5 L1302.3,2221.1 L1302.5,2221.1 L1302.8,2223.8 L1303,2225.7 L1303.3,2227.3 L1303.6,2226.8 L1303.9,2229.3 L1304.4,2227.6 L1305,2227.9 L1305.6,2225.7 L1306.2,2221.3 L1306.8,2218.7 L1307.4,2216.3 L1308.1,2215.4 L1308.7,2212.8 L1309.3,2212.1 L1309.9,2214.1 L1310.5,2212.7 L1311.1,2214.3 L1311.7,2216.2 L1312.2,2217.9 L1312.8,2219.6 L1313.4,2222 L1314,2226.5 L1314.6,2228.8 L1314.9,2231.1 L1315.3,2233.2 L1315.6,2232.6 L1315.9,2235.6 L1316.2,2238.3 L1316.5,2237.7 L1316.9,2241.2 L1317.2,2243.1 L1317.5,2246 L1317.8,2247.6 L1318.2,2247.4 L1318.5,2250.6 L1318.9,2250.6 L1319.2,2253.5 L1319.6,2255.1 L1320,2255.6 L1320.5,2258.9 L1321.1,2261 L1321.6,2264 L1322.2,2265.8 L1322.7,2267.7 L1323.3,2270.9 L1323.9,2273.2 L1324.5,2274 L1325.2,2277.2 L1325.8,2276.9 L1326.4,2277.1 L1327.1,2278.1 L1327.7,2277.9 L1328.3,2275.9 L1328.9,2275.7 L1329.6,2274.1 L1330.3,2271.3 L1330.9,2269.3 L1331.6,2264.4 L1332.3,2263 L1332.9,2260.4 L1333.6,2257.1 L1334.3,2256.3 L1334.9,2253.5 L1335.5,2254 L1336.1,2253.9 L1336.7,2253.8 L1337.3,2254.4 L1337.9,2255.7 L1338.4,2257 L1339,2260.4 L1339.5,2264.9 L1340,2266.4 L1340.5,2268 L1341.1,2271.8 L1341.6,2272.3 L1342.1,2275 L1342.7,2276.7 L1343.2,2278.3 L1343.9,2276.1 L1344.5,2276 L1345.2,2275.8 L1345.9,2273.3 L1346.6,2270.7 L1347.3,2268.3 L1347.9,2265.1 L1348.6,2262.7 L1349.2,2260 L1349.8,2259.8 L1350.4,2258.4 L1351.4,2254.3 L1352.2,2254.1 L1352.9,2249.3 L1353.7,2248 L1354.6,2247.8 L1355.7,2245.7 L1357.2,2244.3 L1358.9,2244.8 L1360.7,2240.7 L1362.6,2240.1 L1364.6,2240.2 L1366.1,2242.2 L1367.8,2241.5 L1369.5,2241.9 L1371.2,2245.2 L1372.8,2246.3 L1374.2,2247.4 L1375.4,2250 L1376.1,2252.1 L1376.6,2253.6 L1376.9,2255.9 L1377.2,2257.7 L1377.4,2260.6 L1377.7,2262.9 L1378.2,2262.4 L1378.9,2263.8 L1380.3,2266.7 L1382.1,2265.3 L1384,2266.8 L1386,2267 L1387.9,2267.4 L1389.6,2269.5 L1390.7,2270.5 L1391.7,2270.3 L1392.6,2274.2 L1393.5,2276.2 L1394.4,2278.7 L1395.2,2280 L1396,2281 L1396.8,2282.9 L1397.5,2281.6 L1398.1,2279.2 L1398.7,2277.2 L1399.3,2275 L1399.8,2271.9 L1400.4,2270.6 L1401,2267.2 L1401.5,2265.4 L1402.1,2264.6 L1403,2264.9 L1404,2268.2 L1404.9,2268.1 L1405.8,2271.7 L1406.7,2275.3 L1407.5,2276.7 L1407.9,2277.3 L1408.3,2281.6 L1408.6,2283.6 L1408.9,2283 L1409.2,2285.7 L1409.6,2288.6 L1410,2291.3 L1410.5,2291.4 L1411.1,2293.6 L1413,2292.9 L1415.2,2294 L1417.7,2291.9 L1420,2292.3 L1421.3,2295.1 L1422.6,2297.4 L1423.9,2299.8 L1425.2,2301.3 L1426.5,2302.7 L1427.7,2304.6 L1428.9,2304 L1429.4,2303.9 L1429.9,2302.4 L1430.5,2298.2 L1430.9,2296.9 L1431.4,2295.4 L1431.9,2291.2 L1432.4,2288.4 L1432.8,2285.1 L1433.3,2284.5 L1433.8,2283.3 L1434.2,2281.4 L1434.7,2276.9 L1435.2,2277.7 L1435.6,2276.3 L1436.1,2277.2 L1436.4,2277 L1436.7,2279.6 L1437,2280.9 L1437.2,2279 L1437.5,2282.8 L1437.8,2282.5 L1438.1,2284.2 L1438.4,2287.1 L1438.7,2290.8 L1438.9,2294 L1439.2,2293.4 L1439.5,2296.5 L1439.8,2297.9 L1440.1,2302.1 L1440.4,2304.3 L1440.6,2306.3 L1440.9,2308.4 L1441.2,2312.2 L1441.5,2314.4 L1441.8,2314.4 L1442.1,2316.5 L1442.3,2318.7 L1442.6,2320.5 L1442.9,2322.3 L1443.2,2321 L1444.1,2322.9 L1444.9,2321.5 L1445.8,2320.2 L1446.6,2315.1 L1447.5,2312 L1448.4,2308.8 L1449.4,2309.5 L1450.4,2306.3 L1451.5,2307.7 L1452.7,2308.2 L1453.9,2311.4 L1455.2,2313.2 L1456.4,2317.6 L1457.7,2318.2 L1458.9,2320.7 L1460,2318.8 L1460.4,2317.9 L1460.8,2317.7 L1461.2,2315.9 L1461.6,2314 L1462,2311.4 L1462.4,2309.5 L1462.8,2310.2 L1463.2,2305.9 L1463.5,2302.8 L1463.9,2300.7 L1464.3,2299.4 L1464.6,2298.7 L1465,2293.7 L1465.4,2293.7 L1465.8,2290.3 L1466.1,2288.1 L1466.5,2287.7 L1466.9,2284.7 L1467.2,2282.3 L1467.6,2283 L1468,2282.6 L1468.8,2282.1 L1469.6,2281.5 L1470.5,2285.3 L1471.3,2287.1 L1472.1,2290 L1472.9,2290.8 L1473.7,2294.7 L1474.5,2296.5 L1475.3,2296.3 L1476.1,2296.6 L1477.4,2297.5 L1478.6,2297.2 L1479.8,2296.2 L1481,2295.5 L1482.1,2294.1 L1483.2,2288.7 L1483.4,2288.2 L1483.7,2285.2 L1483.9,2284.4 L1484.2,2285.4 L1484.4,2280.6 L1484.7,2280.6 L1484.9,2279.8 L1485.1,2277.9 L1485.3,2275.7 L1485.6,2272.6 L1485.8,2271.9 L1486,2269.9 L1486.2,2267.6 L1486.4,2266.3 L1486.7,2261.1 L1486.9,2261.9 L1487.1,2257.9 L1487.3,2256.9 L1487.5,2253.3 L1487.7,2253.5 L1487.9,2248.5 L1488.1,2248.5 L1488.2,2245.4 L1488.4,2244.2 L1488.6,2242.5 L1488.8,2241.3 L1489,2239.7 L1489.3,2236.1 L1489.5,2234.9 L1489.7,2231.9 L1489.8,2229.6 L1490,2229.8 L1490.2,2225.8 L1490.4,2223.1 L1490.5,2222 L1490.7,2221.6 L1490.9,2217.9 L1491.1,2217.9 L1491.2,2215.5 L1491.4,2214.2 L1491.6,2210.8 L1491.7,2208.9 L1491.9,2207.5 L1492.1,2206.6 L1492.4,2204.6 L1492.6,2200.8 L1492.9,2200.1 L1493.1,2197.4 L1493.3,2194.9 L1493.5,2193.4 L1493.8,2192.8 L1494,2188.4 L1494.3,2189 L1494.6,2185.7 L1494.9,2186 L1495.3,2183 L1495.7,2185.6 L1496.4,2183.7 L1497.1,2186.2 L1497.9,2185.1 L1498.8,2187.6 L1499.6,2190.8 L1500.5,2191.4 L1501.4,2194.3 L1502.2,2198.2 L1502.9,2201.5 L1503.3,2200.9 L1503.8,2202 L1504.2,2204.3 L1504.5,2208.2 L1504.9,2207.1 L1505.3,2210.5 L1505.7,2211.5 L1506,2214.3 L1506.4,2214.7 L1506.7,2218 L1507.1,2220.8 L1507.5,2222.6 L1507.8,2223.6 L1508.2,2225 L1508.6,2227 L1509,2227.2 L1509.3,2231.4 L1509.7,2232.6 L1510.1,2233.5 L1510.4,2236 L1510.8,2236.9 L1511.2,2238.5 L1511.5,2239.8 L1511.9,2242.8 L1512.3,2244.5 L1512.7,2246.2 L1513.2,2246.5 L1513.6,2250.4 L1514,2251.5 L1514.3,2253.8 L1514.7,2255.7 L1515.1,2258.7 L1515.5,2258 L1515.9,2261.1 L1516.3,2264.9 L1516.7,2266.1 L1517.1,2266.6 L1517.5,2270 L1517.9,2272.8 L1518.4,2272.6 L1518.8,2275.9 L1519.3,2275 L1519.7,2279.5 L1520.2,2279.2 L1520.7,2279.5 L1522,2284.3 L1523.5,2286.1 L1525,2289.2 L1526.5,2290.4 L1528,2291 L1529.4,2289.8 L1530.5,2290.1 L1530.8,2286.1 L1531.2,2287.6 L1531.4,2285.7 L1531.7,2282.5 L1531.9,2282.6 L1532.2,2279.4 L1532.4,2277.6 L1532.6,2276.5 L1532.7,2272 L1532.9,2270 L1533.1,2268.9 L1533.3,2264.6 L1533.4,2264 L1533.6,2262.6 L1533.8,2259.5 L1534,2256.7 L1534.2,2256.9 L1534.5,2255.5 L1534.7,2253.8 L1535,2252 L1536.5,2250.4 L1538.2,2250.1 L1540,2248.8 L1542.1,2249.5 L1543.5,2248 L1545.1,2247 L1546.8,2247.2 L1548.5,2248 L1550.1,2246.7 L1551.6,2243 L1552.9,2241.8 L1553.8,2241 L1554.5,2240.8 L1555.1,2238 L1555.7,2236.9 L1556.2,2232 L1556.8,2233.3 L1557.4,2228.9 L1558.2,2229 L1559.8,2228.1 L1561.7,2226 L1563.6,2223.1 L1565.5,2224.5 L1567.1,2224.8 L1567.7,2224.4 L1568.2,2227 L1568.6,2228.8 L1569,2232.1 L1569.4,2233.3 L1569.8,2236.8 L1570.2,2239.5 L1570.6,2240 L1571,2241.8 L1571.4,2245.4 L1571.9,2245.7 L1572.5,2245.1 L1573.3,2244.8 L1574.1,2246.4 L1575,2243.4 L1575.9,2240.2 L1576.8,2237.1 L1577.8,2237.3 L1578.7,2234 L1579.7,2232.4 L1580.6,2230 L1581.4,2229.8 L1582,2230.7 L1582.5,2230.9 L1583.1,2234.1 L1583.6,2235.2 L1584.1,2238.7 L1584.6,2239.6 L1585.1,2242.2 L1585.6,2244.8 L1586.1,2248.7 L1586.6,2248.9 L1587.1,2252.1 L1587.6,2252.3 L1588.1,2254.8 L1588.6,2254.7 L1590,2256.9 L1591.4,2253 L1592.9,2252.2 L1594.3,2249.3 L1595.7,2248 L1596.5,2250.5 L1597.2,2250.2 L1598,2253.4 L1598.7,2255.2 L1599.5,2257 L1600.2,2258 L1601.1,2261.3 L1601.9,2262.5 L1602.9,2264.1 L1604.5,2266.3 L1606.3,2263.6 L1608.1,2263.9 L1610,2262.7 L1611.9,2260.2 L1613.6,2260.4 L1615.5,2260 L1617.3,2263.7 L1619,2262.8 L1620.7,2264.2 L1622.5,2263.8 L1623.6,2264.5 L1624.7,2263.2 L1625.8,2260.6 L1626.8,2258.5 L1627.9,2255 L1629,2255.9 L1630.2,2251.6 L1631.4,2251.3 L1633.1,2250.5 L1634.8,2251.4 L1636.6,2251.3 L1638.5,2250.2 L1640.3,2251.9 L1642.1,2251.5 L1643.7,2247.3 L1645.2,2247.9 L1646.8,2245.5 L1648.4,2243.4 L1649.9,2242.3 L1651.5,2240.8 L1652.9,2241.7 L1654.3,2242.2 L1655.5,2245.2 L1656.8,2247.5 L1658,2250 L1659.2,2250 L1660.5,2252.8 L1661.8,2252.3 L1662.6,2251.8 L1663.5,2251.5 L1664.4,2246.5 L1665.4,2245.7 L1666.3,2243.1 L1667.3,2241.6 L1668.2,2237.7 L1669.1,2238.1 L1670,2233.6 L1670.9,2232.7 L1671.7,2231.1 L1672.5,2231.7 L1673.1,2233.4 L1673.7,2232.1 L1674.2,2233.8 L1674.7,2237.3 L1675.2,2239.2 L1675.7,2241.9 L1676.2,2242.6 L1676.6,2247 L1677.1,2249.1 L1677.5,2251.5 L1678,2251.4 L1678.5,2254.4 L1679,2254.4 L1679.6,2258.3 L1681.3,2260.1 L1683.1,2260.1 L1684.9,2256.4 L1686.8,2256.2 L1688.6,2255.5 L1689.9,2254.2 L1691.2,2251 L1692.5,2251.2 L1693.8,2247.4 L1695.1,2246.3 L1696.3,2243.7 L1697.5,2244.8 L1698.7,2244 L1699.8,2245.4 L1701,2249 L1702.1,2250.7 L1703.1,2254.7 L1703.9,2254.9 L1704.5,2256.8" fill="none" stroke="#404040" stroke-width="4" stroke-linejoin="round"/>
<path d="M218,2802.7 C219.1,2803 220.6,2802.6 224.4,2804.6 C228.2,2806.6 236.9,2810.6 240.9,2814.7 C244.9,2818.8 245.9,2823.3 248.3,2829.4 C250.8,2835.5 253.5,2843.2 255.6,2851.5 C257.7,2859.8 259.2,2869.9 261.1,2879.1 C263,2888.3 265,2898.6 266.7,2906.6 C268.4,2914.6 269.8,2922 271.2,2926.9 C272.6,2931.8 273.7,2936.7 274.9,2936.1 C276.1,2935.5 277.2,2929.6 278.6,2923.2 C280,2916.8 281.5,2907.8 283.2,2897.4 C284.9,2887 286.9,2871.1 288.7,2860.7 C290.5,2850.3 292,2841.3 294.2,2834.9 C296.4,2828.5 298.8,2824.9 301.6,2822 C304.4,2819.1 307.7,2817.5 310.8,2817.5 C313.9,2817.5 316.6,2819.1 320,2822 C323.4,2824.9 327.3,2830.9 331,2834.9 C334.7,2838.9 338.6,2843.4 342,2846 C345.4,2848.6 348.1,2850.6 351.2,2850.6 C354.3,2850.6 357,2848.6 360.4,2846 C363.8,2843.4 368.1,2837.7 371.5,2834.9 C374.9,2832.1 377.3,2830.6 380.7,2829.4 C384.1,2828.2 388,2827.3 391.7,2827.6 C395.4,2827.9 399.6,2829.7 402.7,2831.2 C405.8,2832.7 407.8,2836.8 410.1,2836.8 C412.4,2836.8 414.7,2834.3 416.5,2831.2 C418.3,2828.1 419.1,2823 421.1,2818.4 C423.1,2813.8 426.1,2807.1 428.5,2803.7 C430.9,2800.3 432.7,2800.5 435.8,2798.1 C438.9,2795.7 442.9,2793 446.9,2789 C450.9,2785 454.7,2779.6 459.7,2774.2 C464.7,2768.8 472.9,2761.1 477,2756.3 C481.1,2751.5 481.9,2748.1 484.4,2745.3 C486.8,2742.6 489.2,2739.5 491.7,2739.8 C494.1,2740.1 497,2743.4 499.1,2747.1 C501.2,2750.8 502.6,2757.8 504.6,2761.8 C506.6,2765.8 508.6,2770.4 511,2771 C513.5,2771.6 516.7,2768.2 519.3,2765.5 C521.9,2762.8 524.2,2760 526.7,2754.5 C529.2,2749 531.5,2740.4 534,2732.4 C536.5,2724.4 538.9,2715.9 541.4,2706.7 C543.9,2697.5 546.7,2684.2 548.7,2677.2 C550.7,2670.1 551.8,2665 553.3,2664.4 C554.8,2663.8 556.5,2668.1 557.9,2673.6 C559.3,2679.1 560.4,2688.3 561.6,2697.5 C562.8,2706.7 564.1,2718.6 565.3,2728.7 C566.5,2738.8 567.8,2748.9 569,2758.1 C570.2,2767.3 571.4,2777.2 572.6,2783.9 C573.8,2790.7 574.4,2794.9 576.3,2798.6 C578.1,2802.3 580.6,2804.2 583.7,2806 C586.8,2807.8 590.4,2809.3 594.7,2809.6 C599,2809.9 604.5,2808.7 609.4,2807.8 C614.3,2806.9 620.1,2805.3 624.1,2804.1 C628.1,2802.9 628.7,2801 633.3,2800.4 C637.9,2799.8 646.8,2799.9 651.7,2800.4 C656.6,2800.9 658.7,2803 662.7,2803.2 C666.7,2803.4 670.7,2801.7 675.6,2801.4 C680.5,2801.1 687.6,2802 692.2,2801.4 C696.8,2800.8 698,2798.3 703.2,2797.7 C708.4,2797.1 720,2797.7 723.4,2797.7" fill="none" stroke="#111" stroke-width="4.6" stroke-linejoin="round"/>
<path d="M750.2,2798.6 C751.3,2798.3 754.5,2796.9 757,2796.9 C759.5,2796.9 762.1,2799 765.5,2798.6 C768.9,2798.2 773.6,2796.6 777.3,2794.3 C781,2792 784.7,2785.8 787.5,2785 C790.3,2784.2 792.6,2786.5 794.3,2789.2 C796,2791.9 796.4,2797.8 797.7,2801.1 C799,2804.3 799.9,2808.8 801.9,2808.7 C803.9,2808.6 806.9,2802 809.6,2800.3 C812.3,2798.6 814.4,2798.8 818.1,2798.6 C821.8,2798.4 827.9,2798.8 831.6,2799.4 C835.3,2800 837.8,2800 840.1,2802 C842.4,2804 843.5,2806.6 845.2,2811.3 C846.9,2816 848.7,2822.1 850.3,2830 C851.9,2837.9 853.5,2848.4 854.6,2858.8 C855.7,2869.2 856.4,2878.5 857.1,2892.7 C857.8,2906.8 858.1,2926.7 858.8,2943.7 C859.5,2960.7 860.5,2976.5 861.4,2994.6 C862.3,3012.7 863.2,3050.6 864,3052 C864.8,3053.4 865.7,3021.2 866.4,3003.1 C867.1,2985 867.5,2960.7 868.1,2943.7 C868.7,2926.7 869.1,2913.9 869.8,2901.2 C870.5,2888.5 871.4,2877.2 872.4,2867.3 C873.4,2857.4 874.4,2849.7 875.8,2841.8 C877.2,2833.9 878.9,2826 880.9,2819.8 C882.9,2813.6 885.2,2807.6 887.7,2804.5 C890.2,2801.4 893,2802.2 896.1,2801.1 C899.2,2800 903.5,2798.8 906.3,2797.7 C909.1,2796.6 910.8,2795 913.1,2794.3 C915.4,2793.6 916.8,2792.8 919.9,2793.5 C923,2794.2 927.8,2798.5 931.8,2798.6 C935.8,2798.7 940,2794.5 943.7,2794.3 C947.4,2794.2 950,2797.8 953.9,2797.7 C957.8,2797.6 963,2793.5 967.4,2793.5 C971.8,2793.5 976.5,2797.5 980,2797.6 C983.5,2797.7 985.7,2794.8 988.5,2794.2 C991.3,2793.6 994.2,2793.6 997,2794.2 C999.8,2794.8 1002.4,2799 1005.5,2797.6 C1008.6,2796.2 1012.8,2787 1015.6,2785.7 C1018.4,2784.4 1020.7,2788.2 1022.4,2790 C1024.1,2791.8 1024.4,2795.6 1025.8,2796.7 C1027.2,2797.8 1029.2,2800.9 1030.9,2796.7 C1032.6,2792.5 1034.6,2776.2 1036,2771.3 C1037.4,2766.4 1038.1,2765.6 1039.4,2767 C1040.7,2768.4 1042.3,2774.9 1043.6,2779.8 C1044.9,2784.8 1045.7,2793 1047,2796.7 C1048.3,2800.4 1048.9,2801.4 1051.3,2801.8 C1053.7,2802.2 1057.8,2799.3 1061.5,2799.3 C1065.2,2799.3 1069.9,2802.1 1073.3,2801.8 C1076.7,2801.5 1078.1,2799 1081.8,2797.6 C1085.5,2796.2 1090.9,2794 1095.4,2793.3 C1099.9,2792.6 1104.8,2792.9 1109,2793.3 C1113.2,2793.7 1117.5,2796.5 1120.9,2795.9 C1124.3,2795.3 1126.6,2792.1 1129.4,2790 C1132.2,2787.9 1135.1,2785.5 1137.8,2783.2 C1140.5,2780.9 1143.5,2777 1145.5,2776.4 C1147.5,2775.8 1148.4,2776.7 1149.7,2779.8 C1151,2782.9 1151.7,2789.1 1153.1,2795 C1154.5,2800.9 1156.2,2808 1158.2,2815.4 C1160.2,2822.8 1163,2831.6 1165,2839.2 C1167,2846.8 1168.5,2853.8 1170.1,2861.2 C1171.6,2868.5 1173.2,2877.4 1174.3,2883.3 C1175.4,2889.2 1176.1,2895.8 1176.9,2896.9 C1177.8,2898 1178.3,2894.6 1179.4,2890.1 C1180.5,2885.6 1182.1,2877 1183.7,2869.7 C1185.3,2862.3 1187.1,2853.3 1188.8,2846 C1190.5,2838.7 1191.8,2831.8 1193.8,2825.6 C1195.8,2819.4 1198,2812.7 1200.6,2808.6 C1203.1,2804.5 1205.9,2802.4 1209.1,2801 C1212.3,2799.6 1215.3,2800.7 1220,2800.1 C1224.7,2799.5 1231.3,2798.4 1237,2797.6 C1242.7,2796.8 1249.1,2795 1253.9,2795 C1258.7,2795 1262.1,2797.9 1265.8,2797.6 C1269.5,2797.3 1272.6,2794.4 1276,2793.3 C1279.4,2792.2 1282.7,2789.5 1286.2,2790.8 C1289.7,2792.1 1293,2799.9 1297.2,2801 C1301.4,2802.1 1308.3,2800.3 1311.6,2797.6 C1314.8,2794.9 1315,2787.6 1316.7,2784.9 C1318.4,2782.2 1319.8,2780.9 1321.8,2781.5 C1323.8,2782.1 1325.8,2787 1328.6,2788.3 C1331.4,2789.6 1334.5,2787.8 1338.8,2789.1 C1343,2790.4 1349,2793.6 1354.1,2795.9 C1359.2,2798.2 1364.9,2803 1369.4,2802.7 C1373.9,2802.4 1376.1,2794.8 1381.2,2794.2 C1386.3,2793.6 1395.7,2796.3 1399.9,2799.3 C1404.2,2802.3 1404.9,2808.8 1406.7,2812 C1408.5,2815.2 1409.2,2819.1 1410.9,2818.8 C1412.6,2818.5 1414.5,2812.7 1416.9,2810.3 C1419.3,2807.9 1422.6,2804.1 1425.4,2804.4 C1428.2,2804.7 1431,2809.6 1433.8,2812 C1436.6,2814.4 1439.5,2818.8 1442.3,2818.8 C1445.1,2818.8 1447.8,2814.8 1450.8,2812 C1453.8,2809.2 1457,2804.4 1460,2801.7 C1463,2798.9 1465.8,2796.8 1468.8,2795.5 C1471.8,2794.2 1474.8,2793.4 1477.7,2793.7 C1480.7,2794 1484.2,2794.5 1486.5,2797.2 C1488.8,2799.8 1490.3,2805.5 1491.8,2809.6 C1493.3,2813.7 1494.1,2821.7 1495.4,2822 C1496.7,2822.3 1498,2816.1 1499.8,2811.4 C1501.6,2806.7 1503.8,2797.8 1506,2793.7 C1508.2,2789.6 1510.3,2788.1 1513,2786.6 C1515.7,2785.1 1518.4,2784.6 1521.9,2784.9 C1525.5,2785.2 1529.9,2786.6 1534.3,2788.4 C1538.7,2790.2 1543.1,2794.6 1548.4,2795.5 C1553.7,2796.4 1560.2,2793.7 1566.1,2793.7 C1572,2793.7 1577.9,2794.2 1583.8,2795.5 C1589.7,2796.8 1596.1,2800.4 1601.4,2801.7 C1606.7,2803 1611.2,2803.6 1615.6,2803.4 C1620,2803.2 1623,2802 1628,2800.8 C1633,2799.6 1639.7,2797.3 1645.6,2796.4 C1651.5,2795.5 1656.5,2795.7 1663.3,2795.5 C1670.1,2795.3 1681,2795.1 1686.3,2795.5 C1691.6,2795.9 1692.1,2797.8 1695.1,2798.1 C1698.1,2798.4 1702.9,2797.3 1704.5,2797.2" fill="none" stroke="#111" stroke-width="4.6" stroke-linejoin="round"/>
</svg>
</body></html>
